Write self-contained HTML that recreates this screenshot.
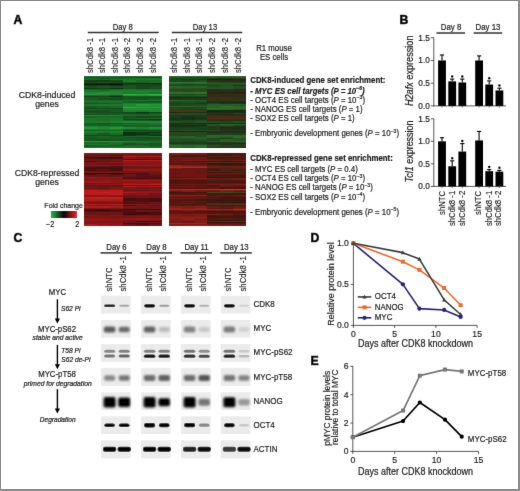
<!DOCTYPE html>
<html><head><meta charset="utf-8"><style>
html,body{margin:0;padding:0;background:#fff;}
body{width:520px;height:491px;overflow:hidden;}
svg{display:block;}
text{stroke:#1c1c1c;stroke-width:0.18px;}
text.r{stroke-width:0.12px;}
text.i{stroke-width:0.2px;}
</style></head><body>
<svg width="520" height="491" viewBox="0 0 520 491" font-family="Liberation Sans, Arial, sans-serif" fill="#1c1c1c">
<rect x="0" y="0" width="520" height="491" fill="#fff"/>
<defs><filter id="gb" x="0" y="0" width="520" height="491" filterUnits="userSpaceOnUse"><feConvolveMatrix order="3" kernelMatrix="0.0072 0.085 0.0072 0.085 1 0.085 0.0072 0.085 0.0072" divisor="1.369" edgeMode="none"/></filter></defs>
<g filter="url(#gb)">
<text x="13.4" y="24.3" font-size="12.2" font-weight="bold" fill="#000" stroke="#000" style="stroke-width:0.55px">A</text>
<text x="399.4" y="24.4" font-size="12.2" font-weight="bold" fill="#000" stroke="#000" style="stroke-width:0.55px">B</text>
<text x="13.4" y="242.0" font-size="12.2" font-weight="bold" fill="#000" stroke="#000" style="stroke-width:0.55px">C</text>
<text x="310.4" y="241.8" font-size="12.2" font-weight="bold" fill="#000" stroke="#000" style="stroke-width:0.55px">D</text>
<text x="310.6" y="365.3" font-size="12.2" font-weight="bold" fill="#000" stroke="#000" style="stroke-width:0.55px">E</text>
<g shape-rendering="crispEdges">
<rect x="84.20" y="75.50" width="13.55" height="1.80" fill="rgb(29, 115, 42)"/>
<rect x="97.15" y="75.50" width="13.55" height="1.80" fill="rgb(28, 114, 42)"/>
<rect x="110.10" y="75.50" width="13.55" height="1.80" fill="rgb(28, 111, 41)"/>
<rect x="123.05" y="75.50" width="13.55" height="1.80" fill="rgb(28, 111, 40)"/>
<rect x="136.00" y="75.50" width="13.55" height="1.80" fill="rgb(28, 110, 40)"/>
<rect x="148.95" y="75.50" width="12.95" height="1.80" fill="rgb(28, 113, 41)"/>
<rect x="84.20" y="76.70" width="13.55" height="1.80" fill="rgb(23, 86, 32)"/>
<rect x="97.15" y="76.70" width="13.55" height="1.80" fill="rgb(25, 98, 36)"/>
<rect x="110.10" y="76.70" width="13.55" height="1.80" fill="rgb(23, 85, 32)"/>
<rect x="123.05" y="76.70" width="13.55" height="1.80" fill="rgb(21, 79, 30)"/>
<rect x="136.00" y="76.70" width="13.55" height="1.80" fill="rgb(23, 88, 33)"/>
<rect x="148.95" y="76.70" width="12.95" height="1.80" fill="rgb(22, 81, 31)"/>
<rect x="84.20" y="77.91" width="13.55" height="1.80" fill="rgb(25, 98, 36)"/>
<rect x="97.15" y="77.91" width="13.55" height="1.80" fill="rgb(23, 86, 32)"/>
<rect x="110.10" y="77.91" width="13.55" height="1.80" fill="rgb(25, 95, 35)"/>
<rect x="123.05" y="77.91" width="13.55" height="1.80" fill="rgb(26, 103, 38)"/>
<rect x="136.00" y="77.91" width="13.55" height="1.80" fill="rgb(27, 106, 39)"/>
<rect x="148.95" y="77.91" width="12.95" height="1.80" fill="rgb(26, 103, 38)"/>
<rect x="84.20" y="79.11" width="13.55" height="1.80" fill="rgb(26, 102, 38)"/>
<rect x="97.15" y="79.11" width="13.55" height="1.80" fill="rgb(26, 101, 37)"/>
<rect x="110.10" y="79.11" width="13.55" height="1.80" fill="rgb(29, 116, 42)"/>
<rect x="123.05" y="79.11" width="13.55" height="1.80" fill="rgb(29, 117, 43)"/>
<rect x="136.00" y="79.11" width="13.55" height="1.80" fill="rgb(30, 121, 44)"/>
<rect x="148.95" y="79.11" width="12.95" height="1.80" fill="rgb(30, 121, 44)"/>
<rect x="84.20" y="80.32" width="13.55" height="1.80" fill="rgb(18, 61, 24)"/>
<rect x="97.15" y="80.32" width="13.55" height="1.80" fill="rgb(18, 61, 24)"/>
<rect x="110.10" y="80.32" width="13.55" height="1.80" fill="rgb(20, 71, 28)"/>
<rect x="123.05" y="80.32" width="13.55" height="1.80" fill="rgb(30, 120, 44)"/>
<rect x="136.00" y="80.32" width="13.55" height="1.80" fill="rgb(26, 104, 38)"/>
<rect x="148.95" y="80.32" width="12.95" height="1.80" fill="rgb(26, 103, 38)"/>
<rect x="84.20" y="81.53" width="13.55" height="1.80" fill="rgb(22, 81, 31)"/>
<rect x="97.15" y="81.53" width="13.55" height="1.80" fill="rgb(22, 84, 32)"/>
<rect x="110.10" y="81.53" width="13.55" height="1.80" fill="rgb(21, 75, 29)"/>
<rect x="123.05" y="81.53" width="13.55" height="1.80" fill="rgb(24, 93, 35)"/>
<rect x="136.00" y="81.53" width="13.55" height="1.80" fill="rgb(25, 97, 36)"/>
<rect x="148.95" y="81.53" width="12.95" height="1.80" fill="rgb(27, 106, 39)"/>
<rect x="84.20" y="82.73" width="13.55" height="1.80" fill="rgb(14, 42, 18)"/>
<rect x="97.15" y="82.73" width="13.55" height="1.80" fill="rgb(16, 51, 21)"/>
<rect x="110.10" y="82.73" width="13.55" height="1.80" fill="rgb(15, 45, 19)"/>
<rect x="123.05" y="82.73" width="13.55" height="1.80" fill="rgb(17, 56, 23)"/>
<rect x="136.00" y="82.73" width="13.55" height="1.80" fill="rgb(15, 47, 20)"/>
<rect x="148.95" y="82.73" width="12.95" height="1.80" fill="rgb(15, 45, 19)"/>
<rect x="84.20" y="83.94" width="13.55" height="1.80" fill="rgb(11, 26, 13)"/>
<rect x="97.15" y="83.94" width="13.55" height="1.80" fill="rgb(10, 20, 11)"/>
<rect x="110.10" y="83.94" width="13.55" height="1.80" fill="rgb(11, 8, 8)"/>
<rect x="123.05" y="83.94" width="13.55" height="1.80" fill="rgb(19, 69, 27)"/>
<rect x="136.00" y="83.94" width="13.55" height="1.80" fill="rgb(19, 65, 25)"/>
<rect x="148.95" y="83.94" width="12.95" height="1.80" fill="rgb(19, 67, 26)"/>
<rect x="84.20" y="85.14" width="13.55" height="1.80" fill="rgb(17, 59, 24)"/>
<rect x="97.15" y="85.14" width="13.55" height="1.80" fill="rgb(19, 67, 26)"/>
<rect x="110.10" y="85.14" width="13.55" height="1.80" fill="rgb(16, 53, 22)"/>
<rect x="123.05" y="85.14" width="13.55" height="1.80" fill="rgb(21, 78, 30)"/>
<rect x="136.00" y="85.14" width="13.55" height="1.80" fill="rgb(19, 68, 27)"/>
<rect x="148.95" y="85.14" width="12.95" height="1.80" fill="rgb(19, 69, 27)"/>
<rect x="84.20" y="86.34" width="13.55" height="1.80" fill="rgb(21, 79, 30)"/>
<rect x="97.15" y="86.34" width="13.55" height="1.80" fill="rgb(23, 86, 32)"/>
<rect x="110.10" y="86.34" width="13.55" height="1.80" fill="rgb(22, 83, 31)"/>
<rect x="123.05" y="86.34" width="13.55" height="1.80" fill="rgb(23, 86, 33)"/>
<rect x="136.00" y="86.34" width="13.55" height="1.80" fill="rgb(20, 74, 28)"/>
<rect x="148.95" y="86.34" width="12.95" height="1.80" fill="rgb(22, 80, 30)"/>
<rect x="84.20" y="87.55" width="13.55" height="1.80" fill="rgb(17, 57, 23)"/>
<rect x="97.15" y="87.55" width="13.55" height="1.80" fill="rgb(18, 63, 25)"/>
<rect x="110.10" y="87.55" width="13.55" height="1.80" fill="rgb(15, 48, 20)"/>
<rect x="123.05" y="87.55" width="13.55" height="1.80" fill="rgb(22, 81, 31)"/>
<rect x="136.00" y="87.55" width="13.55" height="1.80" fill="rgb(19, 67, 26)"/>
<rect x="148.95" y="87.55" width="12.95" height="1.80" fill="rgb(21, 78, 30)"/>
<rect x="84.20" y="88.75" width="13.55" height="1.80" fill="rgb(25, 98, 36)"/>
<rect x="97.15" y="88.75" width="13.55" height="1.80" fill="rgb(24, 93, 35)"/>
<rect x="110.10" y="88.75" width="13.55" height="1.80" fill="rgb(26, 104, 38)"/>
<rect x="123.05" y="88.75" width="13.55" height="1.80" fill="rgb(29, 117, 43)"/>
<rect x="136.00" y="88.75" width="13.55" height="1.80" fill="rgb(28, 111, 41)"/>
<rect x="148.95" y="88.75" width="12.95" height="1.80" fill="rgb(28, 114, 42)"/>
<rect x="84.20" y="89.96" width="13.55" height="1.80" fill="rgb(29, 119, 43)"/>
<rect x="97.15" y="89.96" width="13.55" height="1.80" fill="rgb(28, 112, 41)"/>
<rect x="110.10" y="89.96" width="13.55" height="1.80" fill="rgb(30, 121, 44)"/>
<rect x="123.05" y="89.96" width="13.55" height="1.80" fill="rgb(30, 124, 45)"/>
<rect x="136.00" y="89.96" width="13.55" height="1.80" fill="rgb(29, 119, 43)"/>
<rect x="148.95" y="89.96" width="12.95" height="1.80" fill="rgb(28, 114, 42)"/>
<rect x="84.20" y="91.16" width="13.55" height="1.80" fill="rgb(29, 118, 43)"/>
<rect x="97.15" y="91.16" width="13.55" height="1.80" fill="rgb(30, 120, 44)"/>
<rect x="110.10" y="91.16" width="13.55" height="1.80" fill="rgb(31, 128, 46)"/>
<rect x="123.05" y="91.16" width="13.55" height="1.80" fill="rgb(31, 128, 46)"/>
<rect x="136.00" y="91.16" width="13.55" height="1.80" fill="rgb(32, 134, 48)"/>
<rect x="148.95" y="91.16" width="12.95" height="1.80" fill="rgb(33, 136, 49)"/>
<rect x="84.20" y="92.37" width="13.55" height="1.80" fill="rgb(32, 133, 48)"/>
<rect x="97.15" y="92.37" width="13.55" height="1.80" fill="rgb(34, 142, 51)"/>
<rect x="110.10" y="92.37" width="13.55" height="1.80" fill="rgb(32, 133, 48)"/>
<rect x="123.05" y="92.37" width="13.55" height="1.80" fill="rgb(29, 119, 43)"/>
<rect x="136.00" y="92.37" width="13.55" height="1.80" fill="rgb(31, 126, 46)"/>
<rect x="148.95" y="92.37" width="12.95" height="1.80" fill="rgb(28, 111, 41)"/>
<rect x="84.20" y="93.58" width="13.55" height="1.80" fill="rgb(36, 150, 53)"/>
<rect x="97.15" y="93.58" width="13.55" height="1.80" fill="rgb(33, 136, 49)"/>
<rect x="110.10" y="93.58" width="13.55" height="1.80" fill="rgb(32, 134, 48)"/>
<rect x="123.05" y="93.58" width="13.55" height="1.80" fill="rgb(42, 181, 64)"/>
<rect x="136.00" y="93.58" width="13.55" height="1.80" fill="rgb(39, 165, 58)"/>
<rect x="148.95" y="93.58" width="12.95" height="1.80" fill="rgb(42, 183, 64)"/>
<rect x="84.20" y="94.78" width="13.55" height="1.80" fill="rgb(26, 104, 38)"/>
<rect x="97.15" y="94.78" width="13.55" height="1.80" fill="rgb(28, 110, 40)"/>
<rect x="110.10" y="94.78" width="13.55" height="1.80" fill="rgb(24, 90, 34)"/>
<rect x="123.05" y="94.78" width="13.55" height="1.80" fill="rgb(34, 144, 51)"/>
<rect x="136.00" y="94.78" width="13.55" height="1.80" fill="rgb(35, 146, 52)"/>
<rect x="148.95" y="94.78" width="12.95" height="1.80" fill="rgb(37, 158, 56)"/>
<rect x="84.20" y="95.98" width="13.55" height="1.80" fill="rgb(18, 60, 24)"/>
<rect x="97.15" y="95.98" width="13.55" height="1.80" fill="rgb(19, 66, 26)"/>
<rect x="110.10" y="95.98" width="13.55" height="1.80" fill="rgb(16, 53, 22)"/>
<rect x="123.05" y="95.98" width="13.55" height="1.80" fill="rgb(22, 83, 31)"/>
<rect x="136.00" y="95.98" width="13.55" height="1.80" fill="rgb(23, 88, 33)"/>
<rect x="148.95" y="95.98" width="12.95" height="1.80" fill="rgb(23, 87, 33)"/>
<rect x="84.20" y="97.19" width="13.55" height="1.80" fill="rgb(24, 94, 35)"/>
<rect x="97.15" y="97.19" width="13.55" height="1.80" fill="rgb(23, 85, 32)"/>
<rect x="110.10" y="97.19" width="13.55" height="1.80" fill="rgb(23, 88, 33)"/>
<rect x="123.05" y="97.19" width="13.55" height="1.80" fill="rgb(23, 89, 33)"/>
<rect x="136.00" y="97.19" width="13.55" height="1.80" fill="rgb(21, 77, 30)"/>
<rect x="148.95" y="97.19" width="12.95" height="1.80" fill="rgb(21, 76, 29)"/>
<rect x="84.20" y="98.39" width="13.55" height="1.80" fill="rgb(24, 94, 35)"/>
<rect x="97.15" y="98.39" width="13.55" height="1.80" fill="rgb(22, 81, 31)"/>
<rect x="110.10" y="98.39" width="13.55" height="1.80" fill="rgb(20, 70, 27)"/>
<rect x="123.05" y="98.39" width="13.55" height="1.80" fill="rgb(22, 84, 32)"/>
<rect x="136.00" y="98.39" width="13.55" height="1.80" fill="rgb(22, 83, 31)"/>
<rect x="148.95" y="98.39" width="12.95" height="1.80" fill="rgb(24, 92, 34)"/>
<rect x="84.20" y="99.60" width="13.55" height="1.80" fill="rgb(26, 102, 38)"/>
<rect x="97.15" y="99.60" width="13.55" height="1.80" fill="rgb(27, 108, 39)"/>
<rect x="110.10" y="99.60" width="13.55" height="1.80" fill="rgb(26, 100, 37)"/>
<rect x="123.05" y="99.60" width="13.55" height="1.80" fill="rgb(28, 112, 41)"/>
<rect x="136.00" y="99.60" width="13.55" height="1.80" fill="rgb(29, 119, 43)"/>
<rect x="148.95" y="99.60" width="12.95" height="1.80" fill="rgb(30, 120, 44)"/>
<rect x="84.20" y="100.80" width="13.55" height="1.80" fill="rgb(28, 111, 41)"/>
<rect x="97.15" y="100.80" width="13.55" height="1.80" fill="rgb(28, 111, 41)"/>
<rect x="110.10" y="100.80" width="13.55" height="1.80" fill="rgb(30, 121, 44)"/>
<rect x="123.05" y="100.80" width="13.55" height="1.80" fill="rgb(24, 94, 35)"/>
<rect x="136.00" y="100.80" width="13.55" height="1.80" fill="rgb(24, 91, 34)"/>
<rect x="148.95" y="100.80" width="12.95" height="1.80" fill="rgb(21, 78, 30)"/>
<rect x="84.20" y="102.01" width="13.55" height="1.80" fill="rgb(26, 101, 38)"/>
<rect x="97.15" y="102.01" width="13.55" height="1.80" fill="rgb(28, 111, 41)"/>
<rect x="110.10" y="102.01" width="13.55" height="1.80" fill="rgb(28, 110, 40)"/>
<rect x="123.05" y="102.01" width="13.55" height="1.80" fill="rgb(25, 96, 36)"/>
<rect x="136.00" y="102.01" width="13.55" height="1.80" fill="rgb(23, 85, 32)"/>
<rect x="148.95" y="102.01" width="12.95" height="1.80" fill="rgb(25, 96, 36)"/>
<rect x="84.20" y="103.22" width="13.55" height="1.80" fill="rgb(23, 88, 33)"/>
<rect x="97.15" y="103.22" width="13.55" height="1.80" fill="rgb(23, 87, 33)"/>
<rect x="110.10" y="103.22" width="13.55" height="1.80" fill="rgb(25, 99, 37)"/>
<rect x="123.05" y="103.22" width="13.55" height="1.80" fill="rgb(31, 126, 46)"/>
<rect x="136.00" y="103.22" width="13.55" height="1.80" fill="rgb(30, 122, 44)"/>
<rect x="148.95" y="103.22" width="12.95" height="1.80" fill="rgb(29, 119, 43)"/>
<rect x="84.20" y="104.42" width="13.55" height="1.80" fill="rgb(28, 113, 41)"/>
<rect x="97.15" y="104.42" width="13.55" height="1.80" fill="rgb(30, 121, 44)"/>
<rect x="110.10" y="104.42" width="13.55" height="1.80" fill="rgb(29, 119, 43)"/>
<rect x="123.05" y="104.42" width="13.55" height="1.80" fill="rgb(32, 134, 48)"/>
<rect x="136.00" y="104.42" width="13.55" height="1.80" fill="rgb(37, 156, 55)"/>
<rect x="148.95" y="104.42" width="12.95" height="1.80" fill="rgb(35, 149, 53)"/>
<rect x="84.20" y="105.62" width="13.55" height="1.80" fill="rgb(25, 96, 36)"/>
<rect x="97.15" y="105.62" width="13.55" height="1.80" fill="rgb(25, 95, 36)"/>
<rect x="110.10" y="105.62" width="13.55" height="1.80" fill="rgb(26, 100, 37)"/>
<rect x="123.05" y="105.62" width="13.55" height="1.80" fill="rgb(34, 142, 51)"/>
<rect x="136.00" y="105.62" width="13.55" height="1.80" fill="rgb(33, 137, 49)"/>
<rect x="148.95" y="105.62" width="12.95" height="1.80" fill="rgb(33, 138, 50)"/>
<rect x="84.20" y="106.83" width="13.55" height="1.80" fill="rgb(23, 89, 33)"/>
<rect x="97.15" y="106.83" width="13.55" height="1.80" fill="rgb(25, 99, 37)"/>
<rect x="110.10" y="106.83" width="13.55" height="1.80" fill="rgb(27, 105, 39)"/>
<rect x="123.05" y="106.83" width="13.55" height="1.80" fill="rgb(40, 170, 60)"/>
<rect x="136.00" y="106.83" width="13.55" height="1.80" fill="rgb(38, 162, 57)"/>
<rect x="148.95" y="106.83" width="12.95" height="1.80" fill="rgb(37, 159, 56)"/>
<rect x="84.20" y="108.03" width="13.55" height="1.80" fill="rgb(20, 74, 29)"/>
<rect x="97.15" y="108.03" width="13.55" height="1.80" fill="rgb(20, 72, 28)"/>
<rect x="110.10" y="108.03" width="13.55" height="1.80" fill="rgb(21, 76, 29)"/>
<rect x="123.05" y="108.03" width="13.55" height="1.80" fill="rgb(33, 137, 49)"/>
<rect x="136.00" y="108.03" width="13.55" height="1.80" fill="rgb(32, 133, 48)"/>
<rect x="148.95" y="108.03" width="12.95" height="1.80" fill="rgb(32, 131, 47)"/>
<rect x="84.20" y="109.24" width="13.55" height="1.80" fill="rgb(25, 98, 36)"/>
<rect x="97.15" y="109.24" width="13.55" height="1.80" fill="rgb(25, 97, 36)"/>
<rect x="110.10" y="109.24" width="13.55" height="1.80" fill="rgb(24, 90, 34)"/>
<rect x="123.05" y="109.24" width="13.55" height="1.80" fill="rgb(34, 140, 50)"/>
<rect x="136.00" y="109.24" width="13.55" height="1.80" fill="rgb(36, 151, 54)"/>
<rect x="148.95" y="109.24" width="12.95" height="1.80" fill="rgb(33, 137, 49)"/>
<rect x="84.20" y="110.44" width="13.55" height="1.80" fill="rgb(22, 80, 30)"/>
<rect x="97.15" y="110.44" width="13.55" height="1.80" fill="rgb(22, 81, 31)"/>
<rect x="110.10" y="110.44" width="13.55" height="1.80" fill="rgb(23, 89, 34)"/>
<rect x="123.05" y="110.44" width="13.55" height="1.80" fill="rgb(31, 129, 46)"/>
<rect x="136.00" y="110.44" width="13.55" height="1.80" fill="rgb(30, 122, 44)"/>
<rect x="148.95" y="110.44" width="12.95" height="1.80" fill="rgb(33, 135, 48)"/>
<rect x="84.20" y="111.65" width="13.55" height="1.80" fill="rgb(21, 79, 30)"/>
<rect x="97.15" y="111.65" width="13.55" height="1.80" fill="rgb(21, 77, 29)"/>
<rect x="110.10" y="111.65" width="13.55" height="1.80" fill="rgb(20, 72, 28)"/>
<rect x="123.05" y="111.65" width="13.55" height="1.80" fill="rgb(19, 68, 26)"/>
<rect x="136.00" y="111.65" width="13.55" height="1.80" fill="rgb(15, 48, 20)"/>
<rect x="148.95" y="111.65" width="12.95" height="1.80" fill="rgb(19, 67, 26)"/>
<rect x="84.20" y="112.85" width="13.55" height="1.80" fill="rgb(24, 94, 35)"/>
<rect x="97.15" y="112.85" width="13.55" height="1.80" fill="rgb(23, 89, 33)"/>
<rect x="110.10" y="112.85" width="13.55" height="1.80" fill="rgb(24, 92, 35)"/>
<rect x="123.05" y="112.85" width="13.55" height="1.80" fill="rgb(20, 71, 28)"/>
<rect x="136.00" y="112.85" width="13.55" height="1.80" fill="rgb(19, 67, 26)"/>
<rect x="148.95" y="112.85" width="12.95" height="1.80" fill="rgb(22, 84, 32)"/>
<rect x="84.20" y="114.06" width="13.55" height="1.80" fill="rgb(21, 79, 30)"/>
<rect x="97.15" y="114.06" width="13.55" height="1.80" fill="rgb(22, 84, 32)"/>
<rect x="110.10" y="114.06" width="13.55" height="1.80" fill="rgb(23, 88, 33)"/>
<rect x="123.05" y="114.06" width="13.55" height="1.80" fill="rgb(27, 105, 39)"/>
<rect x="136.00" y="114.06" width="13.55" height="1.80" fill="rgb(25, 98, 36)"/>
<rect x="148.95" y="114.06" width="12.95" height="1.80" fill="rgb(27, 107, 39)"/>
<rect x="84.20" y="115.26" width="13.55" height="1.80" fill="rgb(33, 135, 48)"/>
<rect x="97.15" y="115.26" width="13.55" height="1.80" fill="rgb(31, 126, 45)"/>
<rect x="110.10" y="115.26" width="13.55" height="1.80" fill="rgb(31, 127, 46)"/>
<rect x="123.05" y="115.26" width="13.55" height="1.80" fill="rgb(26, 104, 38)"/>
<rect x="136.00" y="115.26" width="13.55" height="1.80" fill="rgb(26, 100, 37)"/>
<rect x="148.95" y="115.26" width="12.95" height="1.80" fill="rgb(26, 102, 38)"/>
<rect x="84.20" y="116.47" width="13.55" height="1.80" fill="rgb(26, 100, 37)"/>
<rect x="97.15" y="116.47" width="13.55" height="1.80" fill="rgb(27, 105, 39)"/>
<rect x="110.10" y="116.47" width="13.55" height="1.80" fill="rgb(27, 105, 39)"/>
<rect x="123.05" y="116.47" width="13.55" height="1.80" fill="rgb(22, 82, 31)"/>
<rect x="136.00" y="116.47" width="13.55" height="1.80" fill="rgb(20, 74, 28)"/>
<rect x="148.95" y="116.47" width="12.95" height="1.80" fill="rgb(20, 72, 28)"/>
<rect x="84.20" y="117.67" width="13.55" height="1.80" fill="rgb(29, 119, 43)"/>
<rect x="97.15" y="117.67" width="13.55" height="1.80" fill="rgb(29, 118, 43)"/>
<rect x="110.10" y="117.67" width="13.55" height="1.80" fill="rgb(29, 119, 43)"/>
<rect x="123.05" y="117.67" width="13.55" height="1.80" fill="rgb(24, 91, 34)"/>
<rect x="136.00" y="117.67" width="13.55" height="1.80" fill="rgb(26, 100, 37)"/>
<rect x="148.95" y="117.67" width="12.95" height="1.80" fill="rgb(27, 107, 39)"/>
<rect x="84.20" y="118.88" width="13.55" height="1.80" fill="rgb(28, 112, 41)"/>
<rect x="97.15" y="118.88" width="13.55" height="1.80" fill="rgb(27, 106, 39)"/>
<rect x="110.10" y="118.88" width="13.55" height="1.80" fill="rgb(29, 116, 42)"/>
<rect x="123.05" y="118.88" width="13.55" height="1.80" fill="rgb(19, 68, 27)"/>
<rect x="136.00" y="118.88" width="13.55" height="1.80" fill="rgb(19, 66, 26)"/>
<rect x="148.95" y="118.88" width="12.95" height="1.80" fill="rgb(16, 53, 22)"/>
<rect x="84.20" y="120.08" width="13.55" height="1.80" fill="rgb(29, 118, 43)"/>
<rect x="97.15" y="120.08" width="13.55" height="1.80" fill="rgb(28, 111, 41)"/>
<rect x="110.10" y="120.08" width="13.55" height="1.80" fill="rgb(29, 115, 42)"/>
<rect x="123.05" y="120.08" width="13.55" height="1.80" fill="rgb(25, 99, 37)"/>
<rect x="136.00" y="120.08" width="13.55" height="1.80" fill="rgb(24, 92, 34)"/>
<rect x="148.95" y="120.08" width="12.95" height="1.80" fill="rgb(23, 85, 32)"/>
<rect x="84.20" y="121.29" width="13.55" height="1.80" fill="rgb(29, 119, 43)"/>
<rect x="97.15" y="121.29" width="13.55" height="1.80" fill="rgb(30, 122, 44)"/>
<rect x="110.10" y="121.29" width="13.55" height="1.80" fill="rgb(31, 128, 46)"/>
<rect x="123.05" y="121.29" width="13.55" height="1.80" fill="rgb(32, 134, 48)"/>
<rect x="136.00" y="121.29" width="13.55" height="1.80" fill="rgb(32, 132, 47)"/>
<rect x="148.95" y="121.29" width="12.95" height="1.80" fill="rgb(32, 130, 47)"/>
<rect x="84.20" y="122.50" width="13.55" height="1.80" fill="rgb(25, 97, 36)"/>
<rect x="97.15" y="122.50" width="13.55" height="1.80" fill="rgb(23, 85, 32)"/>
<rect x="110.10" y="122.50" width="13.55" height="1.80" fill="rgb(22, 84, 32)"/>
<rect x="123.05" y="122.50" width="13.55" height="1.80" fill="rgb(24, 94, 35)"/>
<rect x="136.00" y="122.50" width="13.55" height="1.80" fill="rgb(26, 100, 37)"/>
<rect x="148.95" y="122.50" width="12.95" height="1.80" fill="rgb(29, 115, 42)"/>
<rect x="84.20" y="123.70" width="13.55" height="1.80" fill="rgb(24, 92, 34)"/>
<rect x="97.15" y="123.70" width="13.55" height="1.80" fill="rgb(24, 91, 34)"/>
<rect x="110.10" y="123.70" width="13.55" height="1.80" fill="rgb(27, 108, 40)"/>
<rect x="123.05" y="123.70" width="13.55" height="1.80" fill="rgb(29, 117, 43)"/>
<rect x="136.00" y="123.70" width="13.55" height="1.80" fill="rgb(28, 110, 40)"/>
<rect x="148.95" y="123.70" width="12.95" height="1.80" fill="rgb(28, 113, 41)"/>
<rect x="84.20" y="124.91" width="13.55" height="1.80" fill="rgb(25, 99, 37)"/>
<rect x="97.15" y="124.91" width="13.55" height="1.80" fill="rgb(25, 95, 36)"/>
<rect x="110.10" y="124.91" width="13.55" height="1.80" fill="rgb(24, 91, 34)"/>
<rect x="123.05" y="124.91" width="13.55" height="1.80" fill="rgb(24, 90, 34)"/>
<rect x="136.00" y="124.91" width="13.55" height="1.80" fill="rgb(25, 98, 36)"/>
<rect x="148.95" y="124.91" width="12.95" height="1.80" fill="rgb(25, 97, 36)"/>
<rect x="84.20" y="126.11" width="13.55" height="1.80" fill="rgb(31, 129, 47)"/>
<rect x="97.15" y="126.11" width="13.55" height="1.80" fill="rgb(30, 124, 45)"/>
<rect x="110.10" y="126.11" width="13.55" height="1.80" fill="rgb(30, 123, 45)"/>
<rect x="123.05" y="126.11" width="13.55" height="1.80" fill="rgb(26, 104, 38)"/>
<rect x="136.00" y="126.11" width="13.55" height="1.80" fill="rgb(25, 99, 37)"/>
<rect x="148.95" y="126.11" width="12.95" height="1.80" fill="rgb(26, 100, 37)"/>
<rect x="84.20" y="127.31" width="13.55" height="1.80" fill="rgb(35, 147, 52)"/>
<rect x="97.15" y="127.31" width="13.55" height="1.80" fill="rgb(32, 134, 48)"/>
<rect x="110.10" y="127.31" width="13.55" height="1.80" fill="rgb(36, 152, 54)"/>
<rect x="123.05" y="127.31" width="13.55" height="1.80" fill="rgb(33, 137, 49)"/>
<rect x="136.00" y="127.31" width="13.55" height="1.80" fill="rgb(31, 127, 46)"/>
<rect x="148.95" y="127.31" width="12.95" height="1.80" fill="rgb(33, 139, 50)"/>
<rect x="84.20" y="128.52" width="13.55" height="1.80" fill="rgb(30, 120, 44)"/>
<rect x="97.15" y="128.52" width="13.55" height="1.80" fill="rgb(30, 124, 45)"/>
<rect x="110.10" y="128.52" width="13.55" height="1.80" fill="rgb(30, 123, 45)"/>
<rect x="123.05" y="128.52" width="13.55" height="1.80" fill="rgb(25, 97, 36)"/>
<rect x="136.00" y="128.52" width="13.55" height="1.80" fill="rgb(27, 107, 39)"/>
<rect x="148.95" y="128.52" width="12.95" height="1.80" fill="rgb(28, 113, 41)"/>
<rect x="84.20" y="129.72" width="13.55" height="1.80" fill="rgb(25, 96, 36)"/>
<rect x="97.15" y="129.72" width="13.55" height="1.80" fill="rgb(26, 102, 38)"/>
<rect x="110.10" y="129.72" width="13.55" height="1.80" fill="rgb(26, 102, 38)"/>
<rect x="123.05" y="129.72" width="13.55" height="1.80" fill="rgb(21, 76, 29)"/>
<rect x="136.00" y="129.72" width="13.55" height="1.80" fill="rgb(20, 70, 27)"/>
<rect x="148.95" y="129.72" width="12.95" height="1.80" fill="rgb(21, 79, 30)"/>
<rect x="84.20" y="130.93" width="13.55" height="1.80" fill="rgb(29, 118, 43)"/>
<rect x="97.15" y="130.93" width="13.55" height="1.80" fill="rgb(30, 124, 45)"/>
<rect x="110.10" y="130.93" width="13.55" height="1.80" fill="rgb(32, 130, 47)"/>
<rect x="123.05" y="130.93" width="13.55" height="1.80" fill="rgb(24, 91, 34)"/>
<rect x="136.00" y="130.93" width="13.55" height="1.80" fill="rgb(23, 86, 33)"/>
<rect x="148.95" y="130.93" width="12.95" height="1.80" fill="rgb(21, 76, 29)"/>
<rect x="84.20" y="132.13" width="13.55" height="1.80" fill="rgb(30, 123, 45)"/>
<rect x="97.15" y="132.13" width="13.55" height="1.80" fill="rgb(29, 115, 42)"/>
<rect x="110.10" y="132.13" width="13.55" height="1.80" fill="rgb(30, 120, 43)"/>
<rect x="123.05" y="132.13" width="13.55" height="1.80" fill="rgb(13, 38, 17)"/>
<rect x="136.00" y="132.13" width="13.55" height="1.80" fill="rgb(17, 55, 22)"/>
<rect x="148.95" y="132.13" width="12.95" height="1.80" fill="rgb(17, 59, 24)"/>
<rect x="84.20" y="133.34" width="13.55" height="1.80" fill="rgb(26, 102, 38)"/>
<rect x="97.15" y="133.34" width="13.55" height="1.80" fill="rgb(24, 92, 34)"/>
<rect x="110.10" y="133.34" width="13.55" height="1.80" fill="rgb(27, 108, 40)"/>
<rect x="123.05" y="133.34" width="13.55" height="1.80" fill="rgb(16, 50, 21)"/>
<rect x="136.00" y="133.34" width="13.55" height="1.80" fill="rgb(16, 53, 22)"/>
<rect x="148.95" y="133.34" width="12.95" height="1.80" fill="rgb(19, 66, 26)"/>
<rect x="84.20" y="134.54" width="13.55" height="1.80" fill="rgb(20, 73, 28)"/>
<rect x="97.15" y="134.54" width="13.55" height="1.80" fill="rgb(20, 73, 28)"/>
<rect x="110.10" y="134.54" width="13.55" height="1.80" fill="rgb(20, 71, 28)"/>
<rect x="123.05" y="134.54" width="13.55" height="1.80" fill="rgb(16, 53, 22)"/>
<rect x="136.00" y="134.54" width="13.55" height="1.80" fill="rgb(19, 69, 27)"/>
<rect x="148.95" y="134.54" width="12.95" height="1.80" fill="rgb(17, 55, 22)"/>
<rect x="84.20" y="135.75" width="13.55" height="1.80" fill="rgb(25, 95, 35)"/>
<rect x="97.15" y="135.75" width="13.55" height="1.80" fill="rgb(26, 100, 37)"/>
<rect x="110.10" y="135.75" width="13.55" height="1.80" fill="rgb(24, 91, 34)"/>
<rect x="123.05" y="135.75" width="13.55" height="1.80" fill="rgb(26, 100, 37)"/>
<rect x="136.00" y="135.75" width="13.55" height="1.80" fill="rgb(26, 103, 38)"/>
<rect x="148.95" y="135.75" width="12.95" height="1.80" fill="rgb(27, 107, 39)"/>
<rect x="84.20" y="136.95" width="13.55" height="1.80" fill="rgb(24, 91, 34)"/>
<rect x="97.15" y="136.95" width="13.55" height="1.80" fill="rgb(25, 98, 36)"/>
<rect x="110.10" y="136.95" width="13.55" height="1.80" fill="rgb(25, 95, 35)"/>
<rect x="123.05" y="136.95" width="13.55" height="1.80" fill="rgb(22, 84, 32)"/>
<rect x="136.00" y="136.95" width="13.55" height="1.80" fill="rgb(20, 70, 27)"/>
<rect x="148.95" y="136.95" width="12.95" height="1.80" fill="rgb(22, 84, 32)"/>
<rect x="84.20" y="138.16" width="13.55" height="1.80" fill="rgb(23, 87, 33)"/>
<rect x="97.15" y="138.16" width="13.55" height="1.80" fill="rgb(25, 98, 36)"/>
<rect x="110.10" y="138.16" width="13.55" height="1.80" fill="rgb(24, 91, 34)"/>
<rect x="123.05" y="138.16" width="13.55" height="1.80" fill="rgb(23, 88, 33)"/>
<rect x="136.00" y="138.16" width="13.55" height="1.80" fill="rgb(22, 83, 31)"/>
<rect x="148.95" y="138.16" width="12.95" height="1.80" fill="rgb(20, 72, 28)"/>
<rect x="84.20" y="139.37" width="13.55" height="1.80" fill="rgb(23, 86, 32)"/>
<rect x="97.15" y="139.37" width="13.55" height="1.80" fill="rgb(21, 77, 30)"/>
<rect x="110.10" y="139.37" width="13.55" height="1.80" fill="rgb(23, 87, 33)"/>
<rect x="123.05" y="139.37" width="13.55" height="1.80" fill="rgb(24, 91, 34)"/>
<rect x="136.00" y="139.37" width="13.55" height="1.80" fill="rgb(22, 84, 32)"/>
<rect x="148.95" y="139.37" width="12.95" height="1.80" fill="rgb(24, 91, 34)"/>
<rect x="84.20" y="140.57" width="13.55" height="1.80" fill="rgb(34, 144, 51)"/>
<rect x="97.15" y="140.57" width="13.55" height="1.80" fill="rgb(35, 145, 52)"/>
<rect x="110.10" y="140.57" width="13.55" height="1.80" fill="rgb(33, 137, 49)"/>
<rect x="123.05" y="140.57" width="13.55" height="1.80" fill="rgb(31, 127, 46)"/>
<rect x="136.00" y="140.57" width="13.55" height="1.80" fill="rgb(29, 117, 43)"/>
<rect x="148.95" y="140.57" width="12.95" height="1.80" fill="rgb(28, 111, 41)"/>
<rect x="84.20" y="141.77" width="13.55" height="1.80" fill="rgb(27, 109, 40)"/>
<rect x="97.15" y="141.77" width="13.55" height="1.80" fill="rgb(27, 109, 40)"/>
<rect x="110.10" y="141.77" width="13.55" height="1.80" fill="rgb(29, 118, 43)"/>
<rect x="123.05" y="141.77" width="13.55" height="1.80" fill="rgb(27, 106, 39)"/>
<rect x="136.00" y="141.77" width="13.55" height="1.80" fill="rgb(29, 115, 42)"/>
<rect x="148.95" y="141.77" width="12.95" height="1.80" fill="rgb(26, 102, 38)"/>
<rect x="84.20" y="142.98" width="13.55" height="1.80" fill="rgb(27, 105, 39)"/>
<rect x="97.15" y="142.98" width="13.55" height="1.80" fill="rgb(25, 99, 37)"/>
<rect x="110.10" y="142.98" width="13.55" height="1.80" fill="rgb(28, 113, 41)"/>
<rect x="123.05" y="142.98" width="13.55" height="1.80" fill="rgb(23, 86, 32)"/>
<rect x="136.00" y="142.98" width="13.55" height="1.80" fill="rgb(25, 95, 35)"/>
<rect x="148.95" y="142.98" width="12.95" height="1.80" fill="rgb(22, 84, 32)"/>
<rect x="84.20" y="144.19" width="13.55" height="1.80" fill="rgb(29, 117, 43)"/>
<rect x="97.15" y="144.19" width="13.55" height="1.80" fill="rgb(29, 118, 43)"/>
<rect x="110.10" y="144.19" width="13.55" height="1.80" fill="rgb(27, 106, 39)"/>
<rect x="123.05" y="144.19" width="13.55" height="1.80" fill="rgb(21, 78, 30)"/>
<rect x="136.00" y="144.19" width="13.55" height="1.80" fill="rgb(23, 86, 32)"/>
<rect x="148.95" y="144.19" width="12.95" height="1.80" fill="rgb(23, 87, 33)"/>
<rect x="84.20" y="145.39" width="13.55" height="1.80" fill="rgb(24, 91, 34)"/>
<rect x="97.15" y="145.39" width="13.55" height="1.80" fill="rgb(25, 99, 37)"/>
<rect x="110.10" y="145.39" width="13.55" height="1.80" fill="rgb(25, 99, 37)"/>
<rect x="123.05" y="145.39" width="13.55" height="1.80" fill="rgb(27, 107, 39)"/>
<rect x="136.00" y="145.39" width="13.55" height="1.80" fill="rgb(27, 105, 39)"/>
<rect x="148.95" y="145.39" width="12.95" height="1.80" fill="rgb(25, 96, 36)"/>
<rect x="84.20" y="146.59" width="13.55" height="1.20" fill="rgb(29, 115, 42)"/>
<rect x="97.15" y="146.59" width="13.55" height="1.20" fill="rgb(29, 117, 43)"/>
<rect x="110.10" y="146.59" width="13.55" height="1.20" fill="rgb(29, 118, 43)"/>
<rect x="123.05" y="146.59" width="13.55" height="1.20" fill="rgb(27, 107, 39)"/>
<rect x="136.00" y="146.59" width="13.55" height="1.20" fill="rgb(26, 101, 37)"/>
<rect x="148.95" y="146.59" width="12.95" height="1.20" fill="rgb(27, 105, 39)"/>
</g>
<g shape-rendering="crispEdges">
<rect x="168.90" y="75.50" width="13.43" height="1.80" fill="rgb(42, 111, 44)"/>
<rect x="181.73" y="75.50" width="13.43" height="1.80" fill="rgb(41, 108, 43)"/>
<rect x="194.57" y="75.50" width="13.43" height="1.80" fill="rgb(40, 106, 42)"/>
<rect x="207.40" y="75.50" width="13.43" height="1.80" fill="rgb(43, 105, 43)"/>
<rect x="220.23" y="75.50" width="13.43" height="1.80" fill="rgb(44, 107, 43)"/>
<rect x="233.07" y="75.50" width="12.83" height="1.80" fill="rgb(44, 109, 44)"/>
<rect x="168.90" y="76.70" width="13.43" height="1.80" fill="rgb(34, 83, 35)"/>
<rect x="181.73" y="76.70" width="13.43" height="1.80" fill="rgb(32, 74, 32)"/>
<rect x="194.57" y="76.70" width="13.43" height="1.80" fill="rgb(32, 73, 32)"/>
<rect x="207.40" y="76.70" width="13.43" height="1.80" fill="rgb(40, 86, 37)"/>
<rect x="220.23" y="76.70" width="13.43" height="1.80" fill="rgb(40, 86, 37)"/>
<rect x="233.07" y="76.70" width="12.83" height="1.80" fill="rgb(39, 85, 37)"/>
<rect x="168.90" y="77.91" width="13.43" height="1.80" fill="rgb(31, 73, 31)"/>
<rect x="181.73" y="77.91" width="13.43" height="1.80" fill="rgb(30, 68, 30)"/>
<rect x="194.57" y="77.91" width="13.43" height="1.80" fill="rgb(30, 69, 30)"/>
<rect x="207.40" y="77.91" width="13.43" height="1.80" fill="rgb(48, 45, 24)"/>
<rect x="220.23" y="77.91" width="13.43" height="1.80" fill="rgb(45, 45, 24)"/>
<rect x="233.07" y="77.91" width="12.83" height="1.80" fill="rgb(62, 44, 24)"/>
<rect x="168.90" y="79.11" width="13.43" height="1.80" fill="rgb(29, 66, 29)"/>
<rect x="181.73" y="79.11" width="13.43" height="1.80" fill="rgb(27, 60, 26)"/>
<rect x="194.57" y="79.11" width="13.43" height="1.80" fill="rgb(30, 67, 29)"/>
<rect x="207.40" y="79.11" width="13.43" height="1.80" fill="rgb(25, 39, 21)"/>
<rect x="220.23" y="79.11" width="13.43" height="1.80" fill="rgb(25, 39, 21)"/>
<rect x="233.07" y="79.11" width="12.83" height="1.80" fill="rgb(29, 43, 23)"/>
<rect x="168.90" y="80.32" width="13.43" height="1.80" fill="rgb(31, 70, 30)"/>
<rect x="181.73" y="80.32" width="13.43" height="1.80" fill="rgb(30, 68, 30)"/>
<rect x="194.57" y="80.32" width="13.43" height="1.80" fill="rgb(32, 75, 32)"/>
<rect x="207.40" y="80.32" width="13.43" height="1.80" fill="rgb(42, 45, 24)"/>
<rect x="220.23" y="80.32" width="13.43" height="1.80" fill="rgb(34, 45, 24)"/>
<rect x="233.07" y="80.32" width="12.83" height="1.80" fill="rgb(39, 45, 24)"/>
<rect x="168.90" y="81.53" width="13.43" height="1.80" fill="rgb(44, 118, 46)"/>
<rect x="181.73" y="81.53" width="13.43" height="1.80" fill="rgb(42, 112, 44)"/>
<rect x="194.57" y="81.53" width="13.43" height="1.80" fill="rgb(44, 120, 47)"/>
<rect x="207.40" y="81.53" width="13.43" height="1.80" fill="rgb(38, 79, 35)"/>
<rect x="220.23" y="81.53" width="13.43" height="1.80" fill="rgb(36, 70, 32)"/>
<rect x="233.07" y="81.53" width="12.83" height="1.80" fill="rgb(36, 67, 31)"/>
<rect x="168.90" y="82.73" width="13.43" height="1.80" fill="rgb(40, 103, 41)"/>
<rect x="181.73" y="82.73" width="13.43" height="1.80" fill="rgb(39, 99, 40)"/>
<rect x="194.57" y="82.73" width="13.43" height="1.80" fill="rgb(40, 106, 42)"/>
<rect x="207.40" y="82.73" width="13.43" height="1.80" fill="rgb(39, 84, 36)"/>
<rect x="220.23" y="82.73" width="13.43" height="1.80" fill="rgb(39, 81, 35)"/>
<rect x="233.07" y="82.73" width="12.83" height="1.80" fill="rgb(40, 88, 38)"/>
<rect x="168.90" y="83.94" width="13.43" height="1.80" fill="rgb(32, 75, 32)"/>
<rect x="181.73" y="83.94" width="13.43" height="1.80" fill="rgb(30, 68, 30)"/>
<rect x="194.57" y="83.94" width="13.43" height="1.80" fill="rgb(32, 74, 32)"/>
<rect x="207.40" y="83.94" width="13.43" height="1.80" fill="rgb(38, 80, 35)"/>
<rect x="220.23" y="83.94" width="13.43" height="1.80" fill="rgb(39, 83, 36)"/>
<rect x="233.07" y="83.94" width="12.83" height="1.80" fill="rgb(38, 80, 35)"/>
<rect x="168.90" y="85.14" width="13.43" height="1.80" fill="rgb(40, 71, 31)"/>
<rect x="181.73" y="85.14" width="13.43" height="1.80" fill="rgb(46, 68, 30)"/>
<rect x="194.57" y="85.14" width="13.43" height="1.80" fill="rgb(50, 65, 30)"/>
<rect x="207.40" y="85.14" width="13.43" height="1.80" fill="rgb(35, 64, 30)"/>
<rect x="220.23" y="85.14" width="13.43" height="1.80" fill="rgb(38, 77, 34)"/>
<rect x="233.07" y="85.14" width="12.83" height="1.80" fill="rgb(32, 49, 25)"/>
<rect x="168.90" y="86.34" width="13.43" height="1.80" fill="rgb(39, 102, 41)"/>
<rect x="181.73" y="86.34" width="13.43" height="1.80" fill="rgb(38, 97, 39)"/>
<rect x="194.57" y="86.34" width="13.43" height="1.80" fill="rgb(39, 99, 40)"/>
<rect x="207.40" y="86.34" width="13.43" height="1.80" fill="rgb(38, 79, 35)"/>
<rect x="220.23" y="86.34" width="13.43" height="1.80" fill="rgb(39, 83, 36)"/>
<rect x="233.07" y="86.34" width="12.83" height="1.80" fill="rgb(38, 77, 34)"/>
<rect x="168.90" y="87.55" width="13.43" height="1.80" fill="rgb(36, 88, 36)"/>
<rect x="181.73" y="87.55" width="13.43" height="1.80" fill="rgb(34, 83, 35)"/>
<rect x="194.57" y="87.55" width="13.43" height="1.80" fill="rgb(33, 79, 34)"/>
<rect x="207.40" y="87.55" width="13.43" height="1.80" fill="rgb(40, 88, 38)"/>
<rect x="220.23" y="87.55" width="13.43" height="1.80" fill="rgb(39, 83, 36)"/>
<rect x="233.07" y="87.55" width="12.83" height="1.80" fill="rgb(37, 71, 32)"/>
<rect x="168.90" y="88.75" width="13.43" height="1.80" fill="rgb(38, 72, 32)"/>
<rect x="181.73" y="88.75" width="13.43" height="1.80" fill="rgb(45, 68, 30)"/>
<rect x="194.57" y="88.75" width="13.43" height="1.80" fill="rgb(33, 75, 32)"/>
<rect x="207.40" y="88.75" width="13.43" height="1.80" fill="rgb(34, 45, 24)"/>
<rect x="220.23" y="88.75" width="13.43" height="1.80" fill="rgb(34, 58, 28)"/>
<rect x="233.07" y="88.75" width="12.83" height="1.80" fill="rgb(34, 45, 24)"/>
<rect x="168.90" y="89.96" width="13.43" height="1.80" fill="rgb(47, 68, 30)"/>
<rect x="181.73" y="89.96" width="13.43" height="1.80" fill="rgb(42, 70, 31)"/>
<rect x="194.57" y="89.96" width="13.43" height="1.80" fill="rgb(45, 68, 30)"/>
<rect x="207.40" y="89.96" width="13.43" height="1.80" fill="rgb(47, 45, 24)"/>
<rect x="220.23" y="89.96" width="13.43" height="1.80" fill="rgb(46, 45, 24)"/>
<rect x="233.07" y="89.96" width="12.83" height="1.80" fill="rgb(46, 45, 24)"/>
<rect x="168.90" y="91.16" width="13.43" height="1.80" fill="rgb(35, 84, 35)"/>
<rect x="181.73" y="91.16" width="13.43" height="1.80" fill="rgb(33, 77, 33)"/>
<rect x="194.57" y="91.16" width="13.43" height="1.80" fill="rgb(33, 78, 33)"/>
<rect x="207.40" y="91.16" width="13.43" height="1.80" fill="rgb(40, 45, 24)"/>
<rect x="220.23" y="91.16" width="13.43" height="1.80" fill="rgb(38, 45, 24)"/>
<rect x="233.07" y="91.16" width="12.83" height="1.80" fill="rgb(40, 45, 24)"/>
<rect x="168.90" y="92.37" width="13.43" height="1.80" fill="rgb(41, 110, 44)"/>
<rect x="181.73" y="92.37" width="13.43" height="1.80" fill="rgb(42, 111, 44)"/>
<rect x="194.57" y="92.37" width="13.43" height="1.80" fill="rgb(43, 117, 46)"/>
<rect x="207.40" y="92.37" width="13.43" height="1.80" fill="rgb(27, 41, 22)"/>
<rect x="220.23" y="92.37" width="13.43" height="1.80" fill="rgb(28, 42, 22)"/>
<rect x="233.07" y="92.37" width="12.83" height="1.80" fill="rgb(26, 40, 21)"/>
<rect x="168.90" y="93.58" width="13.43" height="1.80" fill="rgb(32, 73, 32)"/>
<rect x="181.73" y="93.58" width="13.43" height="1.80" fill="rgb(31, 72, 31)"/>
<rect x="194.57" y="93.58" width="13.43" height="1.80" fill="rgb(31, 71, 31)"/>
<rect x="207.40" y="93.58" width="13.43" height="1.80" fill="rgb(66, 44, 24)"/>
<rect x="220.23" y="93.58" width="13.43" height="1.80" fill="rgb(68, 44, 24)"/>
<rect x="233.07" y="93.58" width="12.83" height="1.80" fill="rgb(70, 44, 24)"/>
<rect x="168.90" y="94.78" width="13.43" height="1.80" fill="rgb(37, 92, 38)"/>
<rect x="181.73" y="94.78" width="13.43" height="1.80" fill="rgb(35, 84, 35)"/>
<rect x="194.57" y="94.78" width="13.43" height="1.80" fill="rgb(38, 96, 39)"/>
<rect x="207.40" y="94.78" width="13.43" height="1.80" fill="rgb(43, 45, 24)"/>
<rect x="220.23" y="94.78" width="13.43" height="1.80" fill="rgb(36, 45, 24)"/>
<rect x="233.07" y="94.78" width="12.83" height="1.80" fill="rgb(38, 45, 24)"/>
<rect x="168.90" y="95.98" width="13.43" height="1.80" fill="rgb(29, 64, 28)"/>
<rect x="181.73" y="95.98" width="13.43" height="1.80" fill="rgb(30, 69, 30)"/>
<rect x="194.57" y="95.98" width="13.43" height="1.80" fill="rgb(30, 68, 30)"/>
<rect x="207.40" y="95.98" width="13.43" height="1.80" fill="rgb(38, 45, 24)"/>
<rect x="220.23" y="95.98" width="13.43" height="1.80" fill="rgb(38, 45, 24)"/>
<rect x="233.07" y="95.98" width="12.83" height="1.80" fill="rgb(43, 45, 24)"/>
<rect x="168.90" y="97.19" width="13.43" height="1.80" fill="rgb(22, 45, 21)"/>
<rect x="181.73" y="97.19" width="13.43" height="1.80" fill="rgb(24, 51, 23)"/>
<rect x="194.57" y="97.19" width="13.43" height="1.80" fill="rgb(23, 47, 21)"/>
<rect x="207.40" y="97.19" width="13.43" height="1.80" fill="rgb(69, 44, 24)"/>
<rect x="220.23" y="97.19" width="13.43" height="1.80" fill="rgb(70, 44, 24)"/>
<rect x="233.07" y="97.19" width="12.83" height="1.80" fill="rgb(68, 44, 24)"/>
<rect x="168.90" y="98.39" width="13.43" height="1.80" fill="rgb(26, 56, 25)"/>
<rect x="181.73" y="98.39" width="13.43" height="1.80" fill="rgb(27, 59, 26)"/>
<rect x="194.57" y="98.39" width="13.43" height="1.80" fill="rgb(26, 57, 26)"/>
<rect x="207.40" y="98.39" width="13.43" height="1.80" fill="rgb(68, 44, 24)"/>
<rect x="220.23" y="98.39" width="13.43" height="1.80" fill="rgb(76, 44, 24)"/>
<rect x="233.07" y="98.39" width="12.83" height="1.80" fill="rgb(62, 44, 24)"/>
<rect x="168.90" y="99.60" width="13.43" height="1.80" fill="rgb(39, 101, 41)"/>
<rect x="181.73" y="99.60" width="13.43" height="1.80" fill="rgb(37, 94, 39)"/>
<rect x="194.57" y="99.60" width="13.43" height="1.80" fill="rgb(36, 88, 37)"/>
<rect x="207.40" y="99.60" width="13.43" height="1.80" fill="rgb(33, 54, 27)"/>
<rect x="220.23" y="99.60" width="13.43" height="1.80" fill="rgb(33, 54, 27)"/>
<rect x="233.07" y="99.60" width="12.83" height="1.80" fill="rgb(36, 65, 31)"/>
<rect x="168.90" y="100.80" width="13.43" height="1.80" fill="rgb(32, 75, 32)"/>
<rect x="181.73" y="100.80" width="13.43" height="1.80" fill="rgb(32, 74, 32)"/>
<rect x="194.57" y="100.80" width="13.43" height="1.80" fill="rgb(34, 80, 34)"/>
<rect x="207.40" y="100.80" width="13.43" height="1.80" fill="rgb(42, 45, 24)"/>
<rect x="220.23" y="100.80" width="13.43" height="1.80" fill="rgb(40, 45, 24)"/>
<rect x="233.07" y="100.80" width="12.83" height="1.80" fill="rgb(34, 45, 24)"/>
<rect x="168.90" y="102.01" width="13.43" height="1.80" fill="rgb(32, 73, 31)"/>
<rect x="181.73" y="102.01" width="13.43" height="1.80" fill="rgb(34, 82, 35)"/>
<rect x="194.57" y="102.01" width="13.43" height="1.80" fill="rgb(31, 71, 31)"/>
<rect x="207.40" y="102.01" width="13.43" height="1.80" fill="rgb(28, 42, 22)"/>
<rect x="220.23" y="102.01" width="13.43" height="1.80" fill="rgb(29, 43, 23)"/>
<rect x="233.07" y="102.01" width="12.83" height="1.80" fill="rgb(28, 42, 22)"/>
<rect x="168.90" y="103.22" width="13.43" height="1.80" fill="rgb(29, 65, 28)"/>
<rect x="181.73" y="103.22" width="13.43" height="1.80" fill="rgb(28, 63, 28)"/>
<rect x="194.57" y="103.22" width="13.43" height="1.80" fill="rgb(26, 57, 25)"/>
<rect x="207.40" y="103.22" width="13.43" height="1.80" fill="rgb(36, 67, 31)"/>
<rect x="220.23" y="103.22" width="13.43" height="1.80" fill="rgb(32, 50, 26)"/>
<rect x="233.07" y="103.22" width="12.83" height="1.80" fill="rgb(33, 51, 26)"/>
<rect x="168.90" y="104.42" width="13.43" height="1.80" fill="rgb(30, 68, 29)"/>
<rect x="181.73" y="104.42" width="13.43" height="1.80" fill="rgb(32, 73, 31)"/>
<rect x="194.57" y="104.42" width="13.43" height="1.80" fill="rgb(33, 76, 33)"/>
<rect x="207.40" y="104.42" width="13.43" height="1.80" fill="rgb(42, 95, 40)"/>
<rect x="220.23" y="104.42" width="13.43" height="1.80" fill="rgb(41, 90, 38)"/>
<rect x="233.07" y="104.42" width="12.83" height="1.80" fill="rgb(41, 92, 39)"/>
<rect x="168.90" y="105.62" width="13.43" height="1.80" fill="rgb(39, 101, 41)"/>
<rect x="181.73" y="105.62" width="13.43" height="1.80" fill="rgb(39, 99, 40)"/>
<rect x="194.57" y="105.62" width="13.43" height="1.80" fill="rgb(37, 94, 39)"/>
<rect x="207.40" y="105.62" width="13.43" height="1.80" fill="rgb(42, 100, 41)"/>
<rect x="220.23" y="105.62" width="13.43" height="1.80" fill="rgb(45, 113, 45)"/>
<rect x="233.07" y="105.62" width="12.83" height="1.80" fill="rgb(43, 100, 41)"/>
<rect x="168.90" y="106.83" width="13.43" height="1.80" fill="rgb(31, 71, 31)"/>
<rect x="181.73" y="106.83" width="13.43" height="1.80" fill="rgb(31, 70, 30)"/>
<rect x="194.57" y="106.83" width="13.43" height="1.80" fill="rgb(31, 71, 31)"/>
<rect x="207.40" y="106.83" width="13.43" height="1.80" fill="rgb(41, 94, 39)"/>
<rect x="220.23" y="106.83" width="13.43" height="1.80" fill="rgb(42, 98, 41)"/>
<rect x="233.07" y="106.83" width="12.83" height="1.80" fill="rgb(45, 112, 45)"/>
<rect x="168.90" y="108.03" width="13.43" height="1.80" fill="rgb(32, 75, 32)"/>
<rect x="181.73" y="108.03" width="13.43" height="1.80" fill="rgb(31, 72, 31)"/>
<rect x="194.57" y="108.03" width="13.43" height="1.80" fill="rgb(34, 81, 34)"/>
<rect x="207.40" y="108.03" width="13.43" height="1.80" fill="rgb(45, 111, 45)"/>
<rect x="220.23" y="108.03" width="13.43" height="1.80" fill="rgb(45, 112, 45)"/>
<rect x="233.07" y="108.03" width="12.83" height="1.80" fill="rgb(43, 101, 41)"/>
<rect x="168.90" y="109.24" width="13.43" height="1.80" fill="rgb(29, 66, 29)"/>
<rect x="181.73" y="109.24" width="13.43" height="1.80" fill="rgb(29, 66, 29)"/>
<rect x="194.57" y="109.24" width="13.43" height="1.80" fill="rgb(28, 61, 27)"/>
<rect x="207.40" y="109.24" width="13.43" height="1.80" fill="rgb(43, 102, 42)"/>
<rect x="220.23" y="109.24" width="13.43" height="1.80" fill="rgb(41, 93, 39)"/>
<rect x="233.07" y="109.24" width="12.83" height="1.80" fill="rgb(40, 88, 38)"/>
<rect x="168.90" y="110.44" width="13.43" height="1.80" fill="rgb(81, 48, 25)"/>
<rect x="181.73" y="110.44" width="13.43" height="1.80" fill="rgb(86, 45, 24)"/>
<rect x="194.57" y="110.44" width="13.43" height="1.80" fill="rgb(73, 53, 26)"/>
<rect x="207.40" y="110.44" width="13.43" height="1.80" fill="rgb(24, 38, 19)"/>
<rect x="220.23" y="110.44" width="13.43" height="1.80" fill="rgb(26, 40, 21)"/>
<rect x="233.07" y="110.44" width="12.83" height="1.80" fill="rgb(26, 40, 21)"/>
<rect x="168.90" y="111.65" width="13.43" height="1.80" fill="rgb(22, 45, 21)"/>
<rect x="181.73" y="111.65" width="13.43" height="1.80" fill="rgb(25, 53, 24)"/>
<rect x="194.57" y="111.65" width="13.43" height="1.80" fill="rgb(25, 53, 24)"/>
<rect x="207.40" y="111.65" width="13.43" height="1.80" fill="rgb(27, 41, 22)"/>
<rect x="220.23" y="111.65" width="13.43" height="1.80" fill="rgb(28, 42, 22)"/>
<rect x="233.07" y="111.65" width="12.83" height="1.80" fill="rgb(27, 41, 21)"/>
<rect x="168.90" y="112.85" width="13.43" height="1.80" fill="rgb(58, 61, 28)"/>
<rect x="181.73" y="112.85" width="13.43" height="1.80" fill="rgb(50, 66, 30)"/>
<rect x="194.57" y="112.85" width="13.43" height="1.80" fill="rgb(54, 63, 29)"/>
<rect x="207.40" y="112.85" width="13.43" height="1.80" fill="rgb(33, 55, 27)"/>
<rect x="220.23" y="112.85" width="13.43" height="1.80" fill="rgb(33, 54, 27)"/>
<rect x="233.07" y="112.85" width="12.83" height="1.80" fill="rgb(36, 68, 31)"/>
<rect x="168.90" y="114.06" width="13.43" height="1.80" fill="rgb(41, 71, 31)"/>
<rect x="181.73" y="114.06" width="13.43" height="1.80" fill="rgb(38, 72, 32)"/>
<rect x="194.57" y="114.06" width="13.43" height="1.80" fill="rgb(35, 74, 32)"/>
<rect x="207.40" y="114.06" width="13.43" height="1.80" fill="rgb(32, 46, 25)"/>
<rect x="220.23" y="114.06" width="13.43" height="1.80" fill="rgb(30, 44, 24)"/>
<rect x="233.07" y="114.06" width="12.83" height="1.80" fill="rgb(31, 45, 24)"/>
<rect x="168.90" y="115.26" width="13.43" height="1.80" fill="rgb(26, 56, 25)"/>
<rect x="181.73" y="115.26" width="13.43" height="1.80" fill="rgb(27, 60, 26)"/>
<rect x="194.57" y="115.26" width="13.43" height="1.80" fill="rgb(28, 63, 28)"/>
<rect x="207.40" y="115.26" width="13.43" height="1.80" fill="rgb(56, 45, 24)"/>
<rect x="220.23" y="115.26" width="13.43" height="1.80" fill="rgb(52, 45, 24)"/>
<rect x="233.07" y="115.26" width="12.83" height="1.80" fill="rgb(57, 45, 24)"/>
<rect x="168.90" y="116.47" width="13.43" height="1.80" fill="rgb(26, 58, 26)"/>
<rect x="181.73" y="116.47" width="13.43" height="1.80" fill="rgb(24, 51, 23)"/>
<rect x="194.57" y="116.47" width="13.43" height="1.80" fill="rgb(26, 56, 25)"/>
<rect x="207.40" y="116.47" width="13.43" height="1.80" fill="rgb(75, 44, 24)"/>
<rect x="220.23" y="116.47" width="13.43" height="1.80" fill="rgb(77, 44, 24)"/>
<rect x="233.07" y="116.47" width="12.83" height="1.80" fill="rgb(75, 44, 24)"/>
<rect x="168.90" y="117.67" width="13.43" height="1.80" fill="rgb(24, 49, 22)"/>
<rect x="181.73" y="117.67" width="13.43" height="1.80" fill="rgb(23, 47, 22)"/>
<rect x="194.57" y="117.67" width="13.43" height="1.80" fill="rgb(23, 47, 21)"/>
<rect x="207.40" y="117.67" width="13.43" height="1.80" fill="rgb(84, 44, 24)"/>
<rect x="220.23" y="117.67" width="13.43" height="1.80" fill="rgb(89, 44, 24)"/>
<rect x="233.07" y="117.67" width="12.83" height="1.80" fill="rgb(83, 44, 24)"/>
<rect x="168.90" y="118.88" width="13.43" height="1.80" fill="rgb(26, 56, 25)"/>
<rect x="181.73" y="118.88" width="13.43" height="1.80" fill="rgb(25, 53, 24)"/>
<rect x="194.57" y="118.88" width="13.43" height="1.80" fill="rgb(28, 62, 27)"/>
<rect x="207.40" y="118.88" width="13.43" height="1.80" fill="rgb(51, 45, 24)"/>
<rect x="220.23" y="118.88" width="13.43" height="1.80" fill="rgb(52, 45, 24)"/>
<rect x="233.07" y="118.88" width="12.83" height="1.80" fill="rgb(60, 45, 24)"/>
<rect x="168.90" y="120.08" width="13.43" height="1.80" fill="rgb(29, 66, 29)"/>
<rect x="181.73" y="120.08" width="13.43" height="1.80" fill="rgb(30, 69, 30)"/>
<rect x="194.57" y="120.08" width="13.43" height="1.80" fill="rgb(32, 74, 32)"/>
<rect x="207.40" y="120.08" width="13.43" height="1.80" fill="rgb(40, 45, 24)"/>
<rect x="220.23" y="120.08" width="13.43" height="1.80" fill="rgb(40, 45, 24)"/>
<rect x="233.07" y="120.08" width="12.83" height="1.80" fill="rgb(32, 45, 24)"/>
<rect x="168.90" y="121.29" width="13.43" height="1.80" fill="rgb(33, 79, 34)"/>
<rect x="181.73" y="121.29" width="13.43" height="1.80" fill="rgb(32, 74, 32)"/>
<rect x="194.57" y="121.29" width="13.43" height="1.80" fill="rgb(34, 81, 34)"/>
<rect x="207.40" y="121.29" width="13.43" height="1.80" fill="rgb(38, 76, 34)"/>
<rect x="220.23" y="121.29" width="13.43" height="1.80" fill="rgb(36, 69, 32)"/>
<rect x="233.07" y="121.29" width="12.83" height="1.80" fill="rgb(38, 79, 35)"/>
<rect x="168.90" y="122.50" width="13.43" height="1.80" fill="rgb(25, 54, 24)"/>
<rect x="181.73" y="122.50" width="13.43" height="1.80" fill="rgb(23, 49, 22)"/>
<rect x="194.57" y="122.50" width="13.43" height="1.80" fill="rgb(23, 48, 22)"/>
<rect x="207.40" y="122.50" width="13.43" height="1.80" fill="rgb(30, 44, 23)"/>
<rect x="220.23" y="122.50" width="13.43" height="1.80" fill="rgb(32, 49, 25)"/>
<rect x="233.07" y="122.50" width="12.83" height="1.80" fill="rgb(30, 44, 24)"/>
<rect x="168.90" y="123.70" width="13.43" height="1.80" fill="rgb(25, 55, 25)"/>
<rect x="181.73" y="123.70" width="13.43" height="1.80" fill="rgb(28, 62, 27)"/>
<rect x="194.57" y="123.70" width="13.43" height="1.80" fill="rgb(28, 61, 27)"/>
<rect x="207.40" y="123.70" width="13.43" height="1.80" fill="rgb(40, 87, 37)"/>
<rect x="220.23" y="123.70" width="13.43" height="1.80" fill="rgb(41, 94, 39)"/>
<rect x="233.07" y="123.70" width="12.83" height="1.80" fill="rgb(42, 98, 41)"/>
<rect x="168.90" y="124.91" width="13.43" height="1.80" fill="rgb(24, 50, 23)"/>
<rect x="181.73" y="124.91" width="13.43" height="1.80" fill="rgb(24, 50, 23)"/>
<rect x="194.57" y="124.91" width="13.43" height="1.80" fill="rgb(23, 48, 22)"/>
<rect x="207.40" y="124.91" width="13.43" height="1.80" fill="rgb(38, 77, 34)"/>
<rect x="220.23" y="124.91" width="13.43" height="1.80" fill="rgb(40, 86, 37)"/>
<rect x="233.07" y="124.91" width="12.83" height="1.80" fill="rgb(35, 63, 30)"/>
<rect x="168.90" y="126.11" width="13.43" height="1.80" fill="rgb(24, 52, 23)"/>
<rect x="181.73" y="126.11" width="13.43" height="1.80" fill="rgb(24, 51, 23)"/>
<rect x="194.57" y="126.11" width="13.43" height="1.80" fill="rgb(26, 57, 25)"/>
<rect x="207.40" y="126.11" width="13.43" height="1.80" fill="rgb(33, 53, 27)"/>
<rect x="220.23" y="126.11" width="13.43" height="1.80" fill="rgb(33, 54, 27)"/>
<rect x="233.07" y="126.11" width="12.83" height="1.80" fill="rgb(33, 52, 26)"/>
<rect x="168.90" y="127.31" width="13.43" height="1.80" fill="rgb(28, 63, 28)"/>
<rect x="181.73" y="127.31" width="13.43" height="1.80" fill="rgb(29, 66, 29)"/>
<rect x="194.57" y="127.31" width="13.43" height="1.80" fill="rgb(28, 63, 28)"/>
<rect x="207.40" y="127.31" width="13.43" height="1.80" fill="rgb(34, 58, 28)"/>
<rect x="220.23" y="127.31" width="13.43" height="1.80" fill="rgb(32, 46, 25)"/>
<rect x="233.07" y="127.31" width="12.83" height="1.80" fill="rgb(32, 47, 25)"/>
<rect x="168.90" y="128.52" width="13.43" height="1.80" fill="rgb(29, 66, 29)"/>
<rect x="181.73" y="128.52" width="13.43" height="1.80" fill="rgb(29, 66, 29)"/>
<rect x="194.57" y="128.52" width="13.43" height="1.80" fill="rgb(28, 64, 28)"/>
<rect x="207.40" y="128.52" width="13.43" height="1.80" fill="rgb(48, 45, 24)"/>
<rect x="220.23" y="128.52" width="13.43" height="1.80" fill="rgb(41, 45, 24)"/>
<rect x="233.07" y="128.52" width="12.83" height="1.80" fill="rgb(44, 45, 24)"/>
<rect x="168.90" y="129.72" width="13.43" height="1.80" fill="rgb(32, 74, 32)"/>
<rect x="181.73" y="129.72" width="13.43" height="1.80" fill="rgb(34, 83, 35)"/>
<rect x="194.57" y="129.72" width="13.43" height="1.80" fill="rgb(33, 77, 33)"/>
<rect x="207.40" y="129.72" width="13.43" height="1.80" fill="rgb(38, 76, 34)"/>
<rect x="220.23" y="129.72" width="13.43" height="1.80" fill="rgb(33, 53, 27)"/>
<rect x="233.07" y="129.72" width="12.83" height="1.80" fill="rgb(34, 56, 28)"/>
<rect x="168.90" y="130.93" width="13.43" height="1.80" fill="rgb(22, 43, 20)"/>
<rect x="181.73" y="130.93" width="13.43" height="1.80" fill="rgb(21, 43, 20)"/>
<rect x="194.57" y="130.93" width="13.43" height="1.80" fill="rgb(22, 44, 20)"/>
<rect x="207.40" y="130.93" width="13.43" height="1.80" fill="rgb(34, 45, 24)"/>
<rect x="220.23" y="130.93" width="13.43" height="1.80" fill="rgb(36, 45, 24)"/>
<rect x="233.07" y="130.93" width="12.83" height="1.80" fill="rgb(38, 45, 24)"/>
<rect x="168.90" y="132.13" width="13.43" height="1.80" fill="rgb(43, 70, 31)"/>
<rect x="181.73" y="132.13" width="13.43" height="1.80" fill="rgb(44, 69, 31)"/>
<rect x="194.57" y="132.13" width="13.43" height="1.80" fill="rgb(40, 71, 31)"/>
<rect x="207.40" y="132.13" width="13.43" height="1.80" fill="rgb(33, 45, 24)"/>
<rect x="220.23" y="132.13" width="13.43" height="1.80" fill="rgb(35, 45, 24)"/>
<rect x="233.07" y="132.13" width="12.83" height="1.80" fill="rgb(34, 45, 24)"/>
<rect x="168.90" y="133.34" width="13.43" height="1.80" fill="rgb(47, 67, 30)"/>
<rect x="181.73" y="133.34" width="13.43" height="1.80" fill="rgb(45, 68, 30)"/>
<rect x="194.57" y="133.34" width="13.43" height="1.80" fill="rgb(41, 71, 31)"/>
<rect x="207.40" y="133.34" width="13.43" height="1.80" fill="rgb(34, 59, 28)"/>
<rect x="220.23" y="133.34" width="13.43" height="1.80" fill="rgb(35, 61, 29)"/>
<rect x="233.07" y="133.34" width="12.83" height="1.80" fill="rgb(34, 60, 29)"/>
<rect x="168.90" y="134.54" width="13.43" height="1.80" fill="rgb(31, 72, 31)"/>
<rect x="181.73" y="134.54" width="13.43" height="1.80" fill="rgb(30, 69, 30)"/>
<rect x="194.57" y="134.54" width="13.43" height="1.80" fill="rgb(33, 78, 33)"/>
<rect x="207.40" y="134.54" width="13.43" height="1.80" fill="rgb(44, 105, 43)"/>
<rect x="220.23" y="134.54" width="13.43" height="1.80" fill="rgb(43, 101, 41)"/>
<rect x="233.07" y="134.54" width="12.83" height="1.80" fill="rgb(43, 101, 42)"/>
<rect x="168.90" y="135.75" width="13.43" height="1.80" fill="rgb(37, 92, 38)"/>
<rect x="181.73" y="135.75" width="13.43" height="1.80" fill="rgb(39, 99, 40)"/>
<rect x="194.57" y="135.75" width="13.43" height="1.80" fill="rgb(34, 81, 34)"/>
<rect x="207.40" y="135.75" width="13.43" height="1.80" fill="rgb(43, 102, 42)"/>
<rect x="220.23" y="135.75" width="13.43" height="1.80" fill="rgb(41, 94, 39)"/>
<rect x="233.07" y="135.75" width="12.83" height="1.80" fill="rgb(44, 108, 44)"/>
<rect x="168.90" y="136.95" width="13.43" height="1.80" fill="rgb(38, 96, 39)"/>
<rect x="181.73" y="136.95" width="13.43" height="1.80" fill="rgb(40, 103, 41)"/>
<rect x="194.57" y="136.95" width="13.43" height="1.80" fill="rgb(37, 94, 38)"/>
<rect x="207.40" y="136.95" width="13.43" height="1.80" fill="rgb(42, 98, 41)"/>
<rect x="220.23" y="136.95" width="13.43" height="1.80" fill="rgb(39, 83, 36)"/>
<rect x="233.07" y="136.95" width="12.83" height="1.80" fill="rgb(43, 103, 42)"/>
<rect x="168.90" y="138.16" width="13.43" height="1.80" fill="rgb(34, 83, 35)"/>
<rect x="181.73" y="138.16" width="13.43" height="1.80" fill="rgb(35, 83, 35)"/>
<rect x="194.57" y="138.16" width="13.43" height="1.80" fill="rgb(37, 91, 38)"/>
<rect x="207.40" y="138.16" width="13.43" height="1.80" fill="rgb(36, 68, 31)"/>
<rect x="220.23" y="138.16" width="13.43" height="1.80" fill="rgb(34, 60, 29)"/>
<rect x="233.07" y="138.16" width="12.83" height="1.80" fill="rgb(39, 82, 36)"/>
<rect x="168.90" y="139.37" width="13.43" height="1.80" fill="rgb(33, 79, 34)"/>
<rect x="181.73" y="139.37" width="13.43" height="1.80" fill="rgb(33, 79, 34)"/>
<rect x="194.57" y="139.37" width="13.43" height="1.80" fill="rgb(35, 84, 35)"/>
<rect x="207.40" y="139.37" width="13.43" height="1.80" fill="rgb(36, 70, 32)"/>
<rect x="220.23" y="139.37" width="13.43" height="1.80" fill="rgb(41, 93, 39)"/>
<rect x="233.07" y="139.37" width="12.83" height="1.80" fill="rgb(39, 83, 36)"/>
<rect x="168.90" y="140.57" width="13.43" height="1.80" fill="rgb(32, 73, 32)"/>
<rect x="181.73" y="140.57" width="13.43" height="1.80" fill="rgb(31, 71, 31)"/>
<rect x="194.57" y="140.57" width="13.43" height="1.80" fill="rgb(31, 71, 31)"/>
<rect x="207.40" y="140.57" width="13.43" height="1.80" fill="rgb(41, 90, 38)"/>
<rect x="220.23" y="140.57" width="13.43" height="1.80" fill="rgb(43, 101, 42)"/>
<rect x="233.07" y="140.57" width="12.83" height="1.80" fill="rgb(42, 100, 41)"/>
<rect x="168.90" y="141.77" width="13.43" height="1.80" fill="rgb(29, 64, 28)"/>
<rect x="181.73" y="141.77" width="13.43" height="1.80" fill="rgb(28, 62, 27)"/>
<rect x="194.57" y="141.77" width="13.43" height="1.80" fill="rgb(30, 68, 30)"/>
<rect x="207.40" y="141.77" width="13.43" height="1.80" fill="rgb(34, 56, 28)"/>
<rect x="220.23" y="141.77" width="13.43" height="1.80" fill="rgb(33, 55, 27)"/>
<rect x="233.07" y="141.77" width="12.83" height="1.80" fill="rgb(36, 67, 31)"/>
<rect x="168.90" y="142.98" width="13.43" height="1.80" fill="rgb(26, 57, 25)"/>
<rect x="181.73" y="142.98" width="13.43" height="1.80" fill="rgb(27, 61, 27)"/>
<rect x="194.57" y="142.98" width="13.43" height="1.80" fill="rgb(26, 57, 26)"/>
<rect x="207.40" y="142.98" width="13.43" height="1.80" fill="rgb(35, 45, 24)"/>
<rect x="220.23" y="142.98" width="13.43" height="1.80" fill="rgb(33, 53, 27)"/>
<rect x="233.07" y="142.98" width="12.83" height="1.80" fill="rgb(36, 45, 24)"/>
<rect x="168.90" y="144.19" width="13.43" height="1.80" fill="rgb(34, 81, 34)"/>
<rect x="181.73" y="144.19" width="13.43" height="1.80" fill="rgb(32, 74, 32)"/>
<rect x="194.57" y="144.19" width="13.43" height="1.80" fill="rgb(32, 75, 32)"/>
<rect x="207.40" y="144.19" width="13.43" height="1.80" fill="rgb(35, 61, 29)"/>
<rect x="220.23" y="144.19" width="13.43" height="1.80" fill="rgb(33, 52, 27)"/>
<rect x="233.07" y="144.19" width="12.83" height="1.80" fill="rgb(34, 59, 29)"/>
<rect x="168.90" y="145.39" width="13.43" height="1.80" fill="rgb(41, 107, 43)"/>
<rect x="181.73" y="145.39" width="13.43" height="1.80" fill="rgb(40, 104, 42)"/>
<rect x="194.57" y="145.39" width="13.43" height="1.80" fill="rgb(41, 108, 43)"/>
<rect x="207.40" y="145.39" width="13.43" height="1.80" fill="rgb(37, 75, 33)"/>
<rect x="220.23" y="145.39" width="13.43" height="1.80" fill="rgb(36, 66, 31)"/>
<rect x="233.07" y="145.39" width="12.83" height="1.80" fill="rgb(35, 62, 30)"/>
<rect x="168.90" y="146.59" width="13.43" height="1.20" fill="rgb(36, 90, 37)"/>
<rect x="181.73" y="146.59" width="13.43" height="1.20" fill="rgb(35, 83, 35)"/>
<rect x="194.57" y="146.59" width="13.43" height="1.20" fill="rgb(39, 100, 40)"/>
<rect x="207.40" y="146.59" width="13.43" height="1.20" fill="rgb(46, 45, 24)"/>
<rect x="220.23" y="146.59" width="13.43" height="1.20" fill="rgb(46, 45, 24)"/>
<rect x="233.07" y="146.59" width="12.83" height="1.20" fill="rgb(44, 45, 24)"/>
</g>
<g shape-rendering="crispEdges">
<rect x="84.20" y="152.70" width="13.55" height="1.80" fill="rgb(140, 23, 24)"/>
<rect x="97.15" y="152.70" width="13.55" height="1.80" fill="rgb(147, 24, 25)"/>
<rect x="110.10" y="152.70" width="13.55" height="1.80" fill="rgb(134, 22, 23)"/>
<rect x="123.05" y="152.70" width="13.55" height="1.80" fill="rgb(131, 22, 23)"/>
<rect x="136.00" y="152.70" width="13.55" height="1.80" fill="rgb(136, 23, 24)"/>
<rect x="148.95" y="152.70" width="12.95" height="1.80" fill="rgb(139, 23, 24)"/>
<rect x="84.20" y="153.90" width="13.55" height="1.80" fill="rgb(124, 21, 22)"/>
<rect x="97.15" y="153.90" width="13.55" height="1.80" fill="rgb(122, 21, 22)"/>
<rect x="110.10" y="153.90" width="13.55" height="1.80" fill="rgb(122, 21, 22)"/>
<rect x="123.05" y="153.90" width="13.55" height="1.80" fill="rgb(118, 20, 21)"/>
<rect x="136.00" y="153.90" width="13.55" height="1.80" fill="rgb(118, 20, 21)"/>
<rect x="148.95" y="153.90" width="12.95" height="1.80" fill="rgb(117, 20, 21)"/>
<rect x="84.20" y="155.09" width="13.55" height="1.80" fill="rgb(104, 19, 20)"/>
<rect x="97.15" y="155.09" width="13.55" height="1.80" fill="rgb(100, 18, 19)"/>
<rect x="110.10" y="155.09" width="13.55" height="1.80" fill="rgb(89, 17, 18)"/>
<rect x="123.05" y="155.09" width="13.55" height="1.80" fill="rgb(126, 21, 22)"/>
<rect x="136.00" y="155.09" width="13.55" height="1.80" fill="rgb(114, 20, 21)"/>
<rect x="148.95" y="155.09" width="12.95" height="1.80" fill="rgb(120, 21, 22)"/>
<rect x="84.20" y="156.29" width="13.55" height="1.80" fill="rgb(96, 18, 19)"/>
<rect x="97.15" y="156.29" width="13.55" height="1.80" fill="rgb(96, 18, 19)"/>
<rect x="110.10" y="156.29" width="13.55" height="1.80" fill="rgb(100, 18, 19)"/>
<rect x="123.05" y="156.29" width="13.55" height="1.80" fill="rgb(172, 27, 28)"/>
<rect x="136.00" y="156.29" width="13.55" height="1.80" fill="rgb(169, 27, 28)"/>
<rect x="148.95" y="156.29" width="12.95" height="1.80" fill="rgb(169, 27, 28)"/>
<rect x="84.20" y="157.48" width="13.55" height="1.80" fill="rgb(83, 16, 17)"/>
<rect x="97.15" y="157.48" width="13.55" height="1.80" fill="rgb(69, 15, 15)"/>
<rect x="110.10" y="157.48" width="13.55" height="1.80" fill="rgb(61, 14, 14)"/>
<rect x="123.05" y="157.48" width="13.55" height="1.80" fill="rgb(139, 23, 24)"/>
<rect x="136.00" y="157.48" width="13.55" height="1.80" fill="rgb(109, 19, 20)"/>
<rect x="148.95" y="157.48" width="12.95" height="1.80" fill="rgb(124, 21, 22)"/>
<rect x="84.20" y="158.68" width="13.55" height="1.80" fill="rgb(105, 19, 20)"/>
<rect x="97.15" y="158.68" width="13.55" height="1.80" fill="rgb(102, 18, 19)"/>
<rect x="110.10" y="158.68" width="13.55" height="1.80" fill="rgb(111, 20, 20)"/>
<rect x="123.05" y="158.68" width="13.55" height="1.80" fill="rgb(81, 16, 17)"/>
<rect x="136.00" y="158.68" width="13.55" height="1.80" fill="rgb(88, 17, 18)"/>
<rect x="148.95" y="158.68" width="12.95" height="1.80" fill="rgb(91, 17, 18)"/>
<rect x="84.20" y="159.87" width="13.55" height="1.80" fill="rgb(115, 20, 21)"/>
<rect x="97.15" y="159.87" width="13.55" height="1.80" fill="rgb(105, 19, 20)"/>
<rect x="110.10" y="159.87" width="13.55" height="1.80" fill="rgb(120, 21, 22)"/>
<rect x="123.05" y="159.87" width="13.55" height="1.80" fill="rgb(180, 28, 29)"/>
<rect x="136.00" y="159.87" width="13.55" height="1.80" fill="rgb(177, 27, 29)"/>
<rect x="148.95" y="159.87" width="12.95" height="1.80" fill="rgb(177, 27, 29)"/>
<rect x="84.20" y="161.07" width="13.55" height="1.80" fill="rgb(75, 15, 16)"/>
<rect x="97.15" y="161.07" width="13.55" height="1.80" fill="rgb(99, 18, 19)"/>
<rect x="110.10" y="161.07" width="13.55" height="1.80" fill="rgb(99, 18, 19)"/>
<rect x="123.05" y="161.07" width="13.55" height="1.80" fill="rgb(147, 24, 25)"/>
<rect x="136.00" y="161.07" width="13.55" height="1.80" fill="rgb(143, 23, 24)"/>
<rect x="148.95" y="161.07" width="12.95" height="1.80" fill="rgb(143, 23, 25)"/>
<rect x="84.20" y="162.26" width="13.55" height="1.80" fill="rgb(124, 21, 22)"/>
<rect x="97.15" y="162.26" width="13.55" height="1.80" fill="rgb(120, 21, 22)"/>
<rect x="110.10" y="162.26" width="13.55" height="1.80" fill="rgb(143, 23, 25)"/>
<rect x="123.05" y="162.26" width="13.55" height="1.80" fill="rgb(149, 24, 25)"/>
<rect x="136.00" y="162.26" width="13.55" height="1.80" fill="rgb(139, 23, 24)"/>
<rect x="148.95" y="162.26" width="12.95" height="1.80" fill="rgb(135, 22, 24)"/>
<rect x="84.20" y="163.46" width="13.55" height="1.80" fill="rgb(120, 21, 22)"/>
<rect x="97.15" y="163.46" width="13.55" height="1.80" fill="rgb(109, 19, 20)"/>
<rect x="110.10" y="163.46" width="13.55" height="1.80" fill="rgb(102, 18, 19)"/>
<rect x="123.05" y="163.46" width="13.55" height="1.80" fill="rgb(137, 23, 24)"/>
<rect x="136.00" y="163.46" width="13.55" height="1.80" fill="rgb(132, 22, 23)"/>
<rect x="148.95" y="163.46" width="12.95" height="1.80" fill="rgb(138, 23, 24)"/>
<rect x="84.20" y="164.65" width="13.55" height="1.80" fill="rgb(134, 22, 23)"/>
<rect x="97.15" y="164.65" width="13.55" height="1.80" fill="rgb(144, 23, 25)"/>
<rect x="110.10" y="164.65" width="13.55" height="1.80" fill="rgb(135, 22, 24)"/>
<rect x="123.05" y="164.65" width="13.55" height="1.80" fill="rgb(159, 25, 27)"/>
<rect x="136.00" y="164.65" width="13.55" height="1.80" fill="rgb(158, 25, 27)"/>
<rect x="148.95" y="164.65" width="12.95" height="1.80" fill="rgb(155, 25, 26)"/>
<rect x="84.20" y="165.85" width="13.55" height="1.80" fill="rgb(101, 18, 19)"/>
<rect x="97.15" y="165.85" width="13.55" height="1.80" fill="rgb(99, 18, 19)"/>
<rect x="110.10" y="165.85" width="13.55" height="1.80" fill="rgb(90, 17, 18)"/>
<rect x="123.05" y="165.85" width="13.55" height="1.80" fill="rgb(104, 19, 20)"/>
<rect x="136.00" y="165.85" width="13.55" height="1.80" fill="rgb(120, 21, 22)"/>
<rect x="148.95" y="165.85" width="12.95" height="1.80" fill="rgb(128, 22, 23)"/>
<rect x="84.20" y="167.04" width="13.55" height="1.80" fill="rgb(83, 16, 17)"/>
<rect x="97.15" y="167.04" width="13.55" height="1.80" fill="rgb(76, 15, 16)"/>
<rect x="110.10" y="167.04" width="13.55" height="1.80" fill="rgb(85, 17, 17)"/>
<rect x="123.05" y="167.04" width="13.55" height="1.80" fill="rgb(105, 19, 20)"/>
<rect x="136.00" y="167.04" width="13.55" height="1.80" fill="rgb(103, 19, 19)"/>
<rect x="148.95" y="167.04" width="12.95" height="1.80" fill="rgb(94, 18, 18)"/>
<rect x="84.20" y="168.24" width="13.55" height="1.80" fill="rgb(75, 15, 16)"/>
<rect x="97.15" y="168.24" width="13.55" height="1.80" fill="rgb(79, 16, 16)"/>
<rect x="110.10" y="168.24" width="13.55" height="1.80" fill="rgb(71, 15, 15)"/>
<rect x="123.05" y="168.24" width="13.55" height="1.80" fill="rgb(114, 20, 21)"/>
<rect x="136.00" y="168.24" width="13.55" height="1.80" fill="rgb(115, 20, 21)"/>
<rect x="148.95" y="168.24" width="12.95" height="1.80" fill="rgb(123, 21, 22)"/>
<rect x="84.20" y="169.43" width="13.55" height="1.80" fill="rgb(81, 16, 17)"/>
<rect x="97.15" y="169.43" width="13.55" height="1.80" fill="rgb(91, 17, 18)"/>
<rect x="110.10" y="169.43" width="13.55" height="1.80" fill="rgb(80, 16, 16)"/>
<rect x="123.05" y="169.43" width="13.55" height="1.80" fill="rgb(148, 24, 25)"/>
<rect x="136.00" y="169.43" width="13.55" height="1.80" fill="rgb(151, 24, 26)"/>
<rect x="148.95" y="169.43" width="12.95" height="1.80" fill="rgb(143, 23, 25)"/>
<rect x="84.20" y="170.63" width="13.55" height="1.80" fill="rgb(107, 19, 20)"/>
<rect x="97.15" y="170.63" width="13.55" height="1.80" fill="rgb(94, 18, 18)"/>
<rect x="110.10" y="170.63" width="13.55" height="1.80" fill="rgb(106, 19, 20)"/>
<rect x="123.05" y="170.63" width="13.55" height="1.80" fill="rgb(108, 19, 20)"/>
<rect x="136.00" y="170.63" width="13.55" height="1.80" fill="rgb(118, 20, 21)"/>
<rect x="148.95" y="170.63" width="12.95" height="1.80" fill="rgb(118, 20, 21)"/>
<rect x="84.20" y="171.82" width="13.55" height="1.80" fill="rgb(124, 21, 22)"/>
<rect x="97.15" y="171.82" width="13.55" height="1.80" fill="rgb(121, 21, 22)"/>
<rect x="110.10" y="171.82" width="13.55" height="1.80" fill="rgb(116, 20, 21)"/>
<rect x="123.05" y="171.82" width="13.55" height="1.80" fill="rgb(124, 21, 22)"/>
<rect x="136.00" y="171.82" width="13.55" height="1.80" fill="rgb(107, 19, 20)"/>
<rect x="148.95" y="171.82" width="12.95" height="1.80" fill="rgb(122, 21, 22)"/>
<rect x="84.20" y="173.02" width="13.55" height="1.80" fill="rgb(40, 11, 11)"/>
<rect x="97.15" y="173.02" width="13.55" height="1.80" fill="rgb(27, 10, 10)"/>
<rect x="110.10" y="173.02" width="13.55" height="1.80" fill="rgb(36, 11, 11)"/>
<rect x="123.05" y="173.02" width="13.55" height="1.80" fill="rgb(81, 16, 17)"/>
<rect x="136.00" y="173.02" width="13.55" height="1.80" fill="rgb(87, 17, 17)"/>
<rect x="148.95" y="173.02" width="12.95" height="1.80" fill="rgb(95, 18, 18)"/>
<rect x="84.20" y="174.21" width="13.55" height="1.80" fill="rgb(83, 16, 17)"/>
<rect x="97.15" y="174.21" width="13.55" height="1.80" fill="rgb(95, 18, 18)"/>
<rect x="110.10" y="174.21" width="13.55" height="1.80" fill="rgb(79, 16, 16)"/>
<rect x="123.05" y="174.21" width="13.55" height="1.80" fill="rgb(110, 20, 20)"/>
<rect x="136.00" y="174.21" width="13.55" height="1.80" fill="rgb(90, 17, 18)"/>
<rect x="148.95" y="174.21" width="12.95" height="1.80" fill="rgb(104, 19, 20)"/>
<rect x="84.20" y="175.41" width="13.55" height="1.80" fill="rgb(111, 20, 20)"/>
<rect x="97.15" y="175.41" width="13.55" height="1.80" fill="rgb(108, 19, 20)"/>
<rect x="110.10" y="175.41" width="13.55" height="1.80" fill="rgb(101, 18, 19)"/>
<rect x="123.05" y="175.41" width="13.55" height="1.80" fill="rgb(105, 19, 20)"/>
<rect x="136.00" y="175.41" width="13.55" height="1.80" fill="rgb(92, 17, 18)"/>
<rect x="148.95" y="175.41" width="12.95" height="1.80" fill="rgb(93, 17, 18)"/>
<rect x="84.20" y="176.60" width="13.55" height="1.80" fill="rgb(157, 25, 26)"/>
<rect x="97.15" y="176.60" width="13.55" height="1.80" fill="rgb(143, 23, 25)"/>
<rect x="110.10" y="176.60" width="13.55" height="1.80" fill="rgb(153, 25, 26)"/>
<rect x="123.05" y="176.60" width="13.55" height="1.80" fill="rgb(88, 17, 18)"/>
<rect x="136.00" y="176.60" width="13.55" height="1.80" fill="rgb(93, 17, 18)"/>
<rect x="148.95" y="176.60" width="12.95" height="1.80" fill="rgb(93, 17, 18)"/>
<rect x="84.20" y="177.80" width="13.55" height="1.80" fill="rgb(134, 22, 23)"/>
<rect x="97.15" y="177.80" width="13.55" height="1.80" fill="rgb(130, 22, 23)"/>
<rect x="110.10" y="177.80" width="13.55" height="1.80" fill="rgb(127, 22, 23)"/>
<rect x="123.05" y="177.80" width="13.55" height="1.80" fill="rgb(90, 17, 18)"/>
<rect x="136.00" y="177.80" width="13.55" height="1.80" fill="rgb(75, 15, 16)"/>
<rect x="148.95" y="177.80" width="12.95" height="1.80" fill="rgb(85, 17, 17)"/>
<rect x="84.20" y="178.99" width="13.55" height="1.80" fill="rgb(131, 22, 23)"/>
<rect x="97.15" y="178.99" width="13.55" height="1.80" fill="rgb(143, 23, 25)"/>
<rect x="110.10" y="178.99" width="13.55" height="1.80" fill="rgb(127, 22, 23)"/>
<rect x="123.05" y="178.99" width="13.55" height="1.80" fill="rgb(118, 20, 21)"/>
<rect x="136.00" y="178.99" width="13.55" height="1.80" fill="rgb(115, 20, 21)"/>
<rect x="148.95" y="178.99" width="12.95" height="1.80" fill="rgb(109, 19, 20)"/>
<rect x="84.20" y="180.19" width="13.55" height="1.80" fill="rgb(136, 23, 24)"/>
<rect x="97.15" y="180.19" width="13.55" height="1.80" fill="rgb(139, 23, 24)"/>
<rect x="110.10" y="180.19" width="13.55" height="1.80" fill="rgb(140, 23, 24)"/>
<rect x="123.05" y="180.19" width="13.55" height="1.80" fill="rgb(163, 26, 27)"/>
<rect x="136.00" y="180.19" width="13.55" height="1.80" fill="rgb(155, 25, 26)"/>
<rect x="148.95" y="180.19" width="12.95" height="1.80" fill="rgb(150, 24, 25)"/>
<rect x="84.20" y="181.38" width="13.55" height="1.80" fill="rgb(156, 25, 26)"/>
<rect x="97.15" y="181.38" width="13.55" height="1.80" fill="rgb(152, 24, 26)"/>
<rect x="110.10" y="181.38" width="13.55" height="1.80" fill="rgb(139, 23, 24)"/>
<rect x="123.05" y="181.38" width="13.55" height="1.80" fill="rgb(136, 23, 24)"/>
<rect x="136.00" y="181.38" width="13.55" height="1.80" fill="rgb(145, 24, 25)"/>
<rect x="148.95" y="181.38" width="12.95" height="1.80" fill="rgb(131, 22, 23)"/>
<rect x="84.20" y="182.58" width="13.55" height="1.80" fill="rgb(108, 19, 20)"/>
<rect x="97.15" y="182.58" width="13.55" height="1.80" fill="rgb(116, 20, 21)"/>
<rect x="110.10" y="182.58" width="13.55" height="1.80" fill="rgb(125, 21, 22)"/>
<rect x="123.05" y="182.58" width="13.55" height="1.80" fill="rgb(153, 25, 26)"/>
<rect x="136.00" y="182.58" width="13.55" height="1.80" fill="rgb(137, 23, 24)"/>
<rect x="148.95" y="182.58" width="12.95" height="1.80" fill="rgb(156, 25, 26)"/>
<rect x="84.20" y="183.77" width="13.55" height="1.80" fill="rgb(128, 22, 23)"/>
<rect x="97.15" y="183.77" width="13.55" height="1.80" fill="rgb(145, 24, 25)"/>
<rect x="110.10" y="183.77" width="13.55" height="1.80" fill="rgb(145, 24, 25)"/>
<rect x="123.05" y="183.77" width="13.55" height="1.80" fill="rgb(178, 28, 29)"/>
<rect x="136.00" y="183.77" width="13.55" height="1.80" fill="rgb(173, 27, 28)"/>
<rect x="148.95" y="183.77" width="12.95" height="1.80" fill="rgb(188, 29, 30)"/>
<rect x="84.20" y="184.97" width="13.55" height="1.80" fill="rgb(102, 19, 19)"/>
<rect x="97.15" y="184.97" width="13.55" height="1.80" fill="rgb(98, 18, 19)"/>
<rect x="110.10" y="184.97" width="13.55" height="1.80" fill="rgb(99, 18, 19)"/>
<rect x="123.05" y="184.97" width="13.55" height="1.80" fill="rgb(107, 19, 20)"/>
<rect x="136.00" y="184.97" width="13.55" height="1.80" fill="rgb(112, 20, 21)"/>
<rect x="148.95" y="184.97" width="12.95" height="1.80" fill="rgb(111, 20, 20)"/>
<rect x="84.20" y="186.16" width="13.55" height="1.80" fill="rgb(117, 20, 21)"/>
<rect x="97.15" y="186.16" width="13.55" height="1.80" fill="rgb(108, 19, 20)"/>
<rect x="110.10" y="186.16" width="13.55" height="1.80" fill="rgb(103, 19, 19)"/>
<rect x="123.05" y="186.16" width="13.55" height="1.80" fill="rgb(170, 27, 28)"/>
<rect x="136.00" y="186.16" width="13.55" height="1.80" fill="rgb(158, 25, 26)"/>
<rect x="148.95" y="186.16" width="12.95" height="1.80" fill="rgb(161, 26, 27)"/>
<rect x="84.20" y="187.36" width="13.55" height="1.80" fill="rgb(117, 20, 21)"/>
<rect x="97.15" y="187.36" width="13.55" height="1.80" fill="rgb(101, 18, 19)"/>
<rect x="110.10" y="187.36" width="13.55" height="1.80" fill="rgb(123, 21, 22)"/>
<rect x="123.05" y="187.36" width="13.55" height="1.80" fill="rgb(125, 21, 22)"/>
<rect x="136.00" y="187.36" width="13.55" height="1.80" fill="rgb(111, 20, 20)"/>
<rect x="148.95" y="187.36" width="12.95" height="1.80" fill="rgb(118, 20, 21)"/>
<rect x="84.20" y="188.55" width="13.55" height="1.80" fill="rgb(144, 23, 25)"/>
<rect x="97.15" y="188.55" width="13.55" height="1.80" fill="rgb(129, 22, 23)"/>
<rect x="110.10" y="188.55" width="13.55" height="1.80" fill="rgb(139, 23, 24)"/>
<rect x="123.05" y="188.55" width="13.55" height="1.80" fill="rgb(123, 21, 22)"/>
<rect x="136.00" y="188.55" width="13.55" height="1.80" fill="rgb(133, 22, 23)"/>
<rect x="148.95" y="188.55" width="12.95" height="1.80" fill="rgb(134, 22, 23)"/>
<rect x="84.20" y="189.75" width="13.55" height="1.80" fill="rgb(187, 29, 30)"/>
<rect x="97.15" y="189.75" width="13.55" height="1.80" fill="rgb(180, 28, 29)"/>
<rect x="110.10" y="189.75" width="13.55" height="1.80" fill="rgb(187, 29, 30)"/>
<rect x="123.05" y="189.75" width="13.55" height="1.80" fill="rgb(101, 18, 19)"/>
<rect x="136.00" y="189.75" width="13.55" height="1.80" fill="rgb(99, 18, 19)"/>
<rect x="148.95" y="189.75" width="12.95" height="1.80" fill="rgb(110, 19, 20)"/>
<rect x="84.20" y="190.94" width="13.55" height="1.80" fill="rgb(188, 29, 30)"/>
<rect x="97.15" y="190.94" width="13.55" height="1.80" fill="rgb(171, 27, 28)"/>
<rect x="110.10" y="190.94" width="13.55" height="1.80" fill="rgb(185, 28, 30)"/>
<rect x="123.05" y="190.94" width="13.55" height="1.80" fill="rgb(140, 23, 24)"/>
<rect x="136.00" y="190.94" width="13.55" height="1.80" fill="rgb(143, 23, 25)"/>
<rect x="148.95" y="190.94" width="12.95" height="1.80" fill="rgb(141, 23, 24)"/>
<rect x="84.20" y="192.14" width="13.55" height="1.80" fill="rgb(191, 29, 31)"/>
<rect x="97.15" y="192.14" width="13.55" height="1.80" fill="rgb(205, 31, 32)"/>
<rect x="110.10" y="192.14" width="13.55" height="1.80" fill="rgb(182, 28, 30)"/>
<rect x="123.05" y="192.14" width="13.55" height="1.80" fill="rgb(168, 26, 28)"/>
<rect x="136.00" y="192.14" width="13.55" height="1.80" fill="rgb(157, 25, 26)"/>
<rect x="148.95" y="192.14" width="12.95" height="1.80" fill="rgb(158, 25, 27)"/>
<rect x="84.20" y="193.33" width="13.55" height="1.80" fill="rgb(183, 28, 30)"/>
<rect x="97.15" y="193.33" width="13.55" height="1.80" fill="rgb(177, 27, 29)"/>
<rect x="110.10" y="193.33" width="13.55" height="1.80" fill="rgb(194, 29, 31)"/>
<rect x="123.05" y="193.33" width="13.55" height="1.80" fill="rgb(133, 22, 23)"/>
<rect x="136.00" y="193.33" width="13.55" height="1.80" fill="rgb(137, 23, 24)"/>
<rect x="148.95" y="193.33" width="12.95" height="1.80" fill="rgb(110, 20, 20)"/>
<rect x="84.20" y="194.53" width="13.55" height="1.80" fill="rgb(133, 22, 23)"/>
<rect x="97.15" y="194.53" width="13.55" height="1.80" fill="rgb(146, 24, 25)"/>
<rect x="110.10" y="194.53" width="13.55" height="1.80" fill="rgb(149, 24, 25)"/>
<rect x="123.05" y="194.53" width="13.55" height="1.80" fill="rgb(116, 20, 21)"/>
<rect x="136.00" y="194.53" width="13.55" height="1.80" fill="rgb(119, 21, 22)"/>
<rect x="148.95" y="194.53" width="12.95" height="1.80" fill="rgb(103, 19, 19)"/>
<rect x="84.20" y="195.72" width="13.55" height="1.80" fill="rgb(147, 24, 25)"/>
<rect x="97.15" y="195.72" width="13.55" height="1.80" fill="rgb(139, 23, 24)"/>
<rect x="110.10" y="195.72" width="13.55" height="1.80" fill="rgb(132, 22, 23)"/>
<rect x="123.05" y="195.72" width="13.55" height="1.80" fill="rgb(101, 18, 19)"/>
<rect x="136.00" y="195.72" width="13.55" height="1.80" fill="rgb(104, 19, 20)"/>
<rect x="148.95" y="195.72" width="12.95" height="1.80" fill="rgb(104, 19, 20)"/>
<rect x="84.20" y="196.92" width="13.55" height="1.80" fill="rgb(197, 30, 31)"/>
<rect x="97.15" y="196.92" width="13.55" height="1.80" fill="rgb(207, 31, 33)"/>
<rect x="110.10" y="196.92" width="13.55" height="1.80" fill="rgb(199, 30, 32)"/>
<rect x="123.05" y="196.92" width="13.55" height="1.80" fill="rgb(101, 18, 19)"/>
<rect x="136.00" y="196.92" width="13.55" height="1.80" fill="rgb(115, 20, 21)"/>
<rect x="148.95" y="196.92" width="12.95" height="1.80" fill="rgb(111, 20, 20)"/>
<rect x="84.20" y="198.11" width="13.55" height="1.80" fill="rgb(187, 29, 30)"/>
<rect x="97.15" y="198.11" width="13.55" height="1.80" fill="rgb(184, 28, 30)"/>
<rect x="110.10" y="198.11" width="13.55" height="1.80" fill="rgb(195, 30, 31)"/>
<rect x="123.05" y="198.11" width="13.55" height="1.80" fill="rgb(76, 15, 16)"/>
<rect x="136.00" y="198.11" width="13.55" height="1.80" fill="rgb(83, 16, 17)"/>
<rect x="148.95" y="198.11" width="12.95" height="1.80" fill="rgb(80, 16, 17)"/>
<rect x="84.20" y="199.31" width="13.55" height="1.80" fill="rgb(175, 27, 29)"/>
<rect x="97.15" y="199.31" width="13.55" height="1.80" fill="rgb(173, 27, 28)"/>
<rect x="110.10" y="199.31" width="13.55" height="1.80" fill="rgb(166, 26, 28)"/>
<rect x="123.05" y="199.31" width="13.55" height="1.80" fill="rgb(74, 15, 16)"/>
<rect x="136.00" y="199.31" width="13.55" height="1.80" fill="rgb(82, 16, 17)"/>
<rect x="148.95" y="199.31" width="12.95" height="1.80" fill="rgb(73, 15, 16)"/>
<rect x="84.20" y="200.50" width="13.55" height="1.80" fill="rgb(149, 24, 25)"/>
<rect x="97.15" y="200.50" width="13.55" height="1.80" fill="rgb(137, 23, 24)"/>
<rect x="110.10" y="200.50" width="13.55" height="1.80" fill="rgb(150, 24, 25)"/>
<rect x="123.05" y="200.50" width="13.55" height="1.80" fill="rgb(94, 18, 18)"/>
<rect x="136.00" y="200.50" width="13.55" height="1.80" fill="rgb(81, 16, 17)"/>
<rect x="148.95" y="200.50" width="12.95" height="1.80" fill="rgb(80, 16, 17)"/>
<rect x="84.20" y="201.70" width="13.55" height="1.80" fill="rgb(124, 21, 22)"/>
<rect x="97.15" y="201.70" width="13.55" height="1.80" fill="rgb(126, 21, 22)"/>
<rect x="110.10" y="201.70" width="13.55" height="1.80" fill="rgb(122, 21, 22)"/>
<rect x="123.05" y="201.70" width="13.55" height="1.80" fill="rgb(81, 16, 17)"/>
<rect x="136.00" y="201.70" width="13.55" height="1.80" fill="rgb(95, 18, 18)"/>
<rect x="148.95" y="201.70" width="12.95" height="1.80" fill="rgb(102, 19, 19)"/>
<rect x="84.20" y="202.89" width="13.55" height="1.80" fill="rgb(125, 21, 22)"/>
<rect x="97.15" y="202.89" width="13.55" height="1.80" fill="rgb(119, 21, 22)"/>
<rect x="110.10" y="202.89" width="13.55" height="1.80" fill="rgb(122, 21, 22)"/>
<rect x="123.05" y="202.89" width="13.55" height="1.80" fill="rgb(91, 17, 18)"/>
<rect x="136.00" y="202.89" width="13.55" height="1.80" fill="rgb(89, 17, 18)"/>
<rect x="148.95" y="202.89" width="12.95" height="1.80" fill="rgb(94, 18, 18)"/>
<rect x="84.20" y="204.09" width="13.55" height="1.80" fill="rgb(176, 27, 29)"/>
<rect x="97.15" y="204.09" width="13.55" height="1.80" fill="rgb(170, 27, 28)"/>
<rect x="110.10" y="204.09" width="13.55" height="1.80" fill="rgb(176, 27, 29)"/>
<rect x="123.05" y="204.09" width="13.55" height="1.80" fill="rgb(129, 22, 23)"/>
<rect x="136.00" y="204.09" width="13.55" height="1.80" fill="rgb(123, 21, 22)"/>
<rect x="148.95" y="204.09" width="12.95" height="1.80" fill="rgb(120, 21, 22)"/>
<rect x="84.20" y="205.28" width="13.55" height="1.80" fill="rgb(145, 24, 25)"/>
<rect x="97.15" y="205.28" width="13.55" height="1.80" fill="rgb(140, 23, 24)"/>
<rect x="110.10" y="205.28" width="13.55" height="1.80" fill="rgb(149, 24, 25)"/>
<rect x="123.05" y="205.28" width="13.55" height="1.80" fill="rgb(90, 17, 18)"/>
<rect x="136.00" y="205.28" width="13.55" height="1.80" fill="rgb(109, 19, 20)"/>
<rect x="148.95" y="205.28" width="12.95" height="1.80" fill="rgb(103, 19, 19)"/>
<rect x="84.20" y="206.48" width="13.55" height="1.80" fill="rgb(175, 27, 29)"/>
<rect x="97.15" y="206.48" width="13.55" height="1.80" fill="rgb(177, 27, 29)"/>
<rect x="110.10" y="206.48" width="13.55" height="1.80" fill="rgb(163, 26, 27)"/>
<rect x="123.05" y="206.48" width="13.55" height="1.80" fill="rgb(122, 21, 22)"/>
<rect x="136.00" y="206.48" width="13.55" height="1.80" fill="rgb(121, 21, 22)"/>
<rect x="148.95" y="206.48" width="12.95" height="1.80" fill="rgb(105, 19, 20)"/>
<rect x="84.20" y="207.67" width="13.55" height="1.80" fill="rgb(121, 21, 22)"/>
<rect x="97.15" y="207.67" width="13.55" height="1.80" fill="rgb(120, 21, 22)"/>
<rect x="110.10" y="207.67" width="13.55" height="1.80" fill="rgb(123, 21, 22)"/>
<rect x="123.05" y="207.67" width="13.55" height="1.80" fill="rgb(109, 19, 20)"/>
<rect x="136.00" y="207.67" width="13.55" height="1.80" fill="rgb(107, 19, 20)"/>
<rect x="148.95" y="207.67" width="12.95" height="1.80" fill="rgb(114, 20, 21)"/>
<rect x="84.20" y="208.87" width="13.55" height="1.80" fill="rgb(80, 16, 17)"/>
<rect x="97.15" y="208.87" width="13.55" height="1.80" fill="rgb(79, 16, 16)"/>
<rect x="110.10" y="208.87" width="13.55" height="1.80" fill="rgb(91, 17, 18)"/>
<rect x="123.05" y="208.87" width="13.55" height="1.80" fill="rgb(59, 13, 14)"/>
<rect x="136.00" y="208.87" width="13.55" height="1.80" fill="rgb(70, 15, 15)"/>
<rect x="148.95" y="208.87" width="12.95" height="1.80" fill="rgb(58, 13, 14)"/>
<rect x="84.20" y="210.06" width="13.55" height="1.80" fill="rgb(64, 14, 14)"/>
<rect x="97.15" y="210.06" width="13.55" height="1.80" fill="rgb(56, 13, 13)"/>
<rect x="110.10" y="210.06" width="13.55" height="1.80" fill="rgb(63, 14, 14)"/>
<rect x="123.05" y="210.06" width="13.55" height="1.80" fill="rgb(92, 17, 18)"/>
<rect x="136.00" y="210.06" width="13.55" height="1.80" fill="rgb(97, 18, 19)"/>
<rect x="148.95" y="210.06" width="12.95" height="1.80" fill="rgb(97, 18, 19)"/>
<rect x="84.20" y="211.26" width="13.55" height="1.80" fill="rgb(89, 17, 18)"/>
<rect x="97.15" y="211.26" width="13.55" height="1.80" fill="rgb(83, 16, 17)"/>
<rect x="110.10" y="211.26" width="13.55" height="1.80" fill="rgb(88, 17, 18)"/>
<rect x="123.05" y="211.26" width="13.55" height="1.80" fill="rgb(86, 17, 17)"/>
<rect x="136.00" y="211.26" width="13.55" height="1.80" fill="rgb(102, 18, 19)"/>
<rect x="148.95" y="211.26" width="12.95" height="1.80" fill="rgb(98, 18, 19)"/>
<rect x="84.20" y="212.45" width="13.55" height="1.80" fill="rgb(106, 19, 20)"/>
<rect x="97.15" y="212.45" width="13.55" height="1.80" fill="rgb(109, 19, 20)"/>
<rect x="110.10" y="212.45" width="13.55" height="1.80" fill="rgb(107, 19, 20)"/>
<rect x="123.05" y="212.45" width="13.55" height="1.80" fill="rgb(75, 15, 16)"/>
<rect x="136.00" y="212.45" width="13.55" height="1.80" fill="rgb(62, 14, 14)"/>
<rect x="148.95" y="212.45" width="12.95" height="1.80" fill="rgb(79, 16, 16)"/>
<rect x="84.20" y="213.65" width="13.55" height="1.80" fill="rgb(105, 19, 20)"/>
<rect x="97.15" y="213.65" width="13.55" height="1.80" fill="rgb(95, 18, 18)"/>
<rect x="110.10" y="213.65" width="13.55" height="1.80" fill="rgb(101, 18, 19)"/>
<rect x="123.05" y="213.65" width="13.55" height="1.80" fill="rgb(51, 12, 13)"/>
<rect x="136.00" y="213.65" width="13.55" height="1.80" fill="rgb(61, 14, 14)"/>
<rect x="148.95" y="213.65" width="12.95" height="1.80" fill="rgb(60, 14, 14)"/>
<rect x="84.20" y="214.84" width="13.55" height="1.80" fill="rgb(137, 23, 24)"/>
<rect x="97.15" y="214.84" width="13.55" height="1.80" fill="rgb(121, 21, 22)"/>
<rect x="110.10" y="214.84" width="13.55" height="1.80" fill="rgb(134, 22, 23)"/>
<rect x="123.05" y="214.84" width="13.55" height="1.80" fill="rgb(105, 19, 20)"/>
<rect x="136.00" y="214.84" width="13.55" height="1.80" fill="rgb(115, 20, 21)"/>
<rect x="148.95" y="214.84" width="12.95" height="1.80" fill="rgb(108, 19, 20)"/>
<rect x="84.20" y="216.04" width="13.55" height="1.80" fill="rgb(115, 20, 21)"/>
<rect x="97.15" y="216.04" width="13.55" height="1.80" fill="rgb(127, 22, 23)"/>
<rect x="110.10" y="216.04" width="13.55" height="1.80" fill="rgb(117, 20, 21)"/>
<rect x="123.05" y="216.04" width="13.55" height="1.80" fill="rgb(120, 21, 22)"/>
<rect x="136.00" y="216.04" width="13.55" height="1.80" fill="rgb(128, 22, 23)"/>
<rect x="148.95" y="216.04" width="12.95" height="1.80" fill="rgb(123, 21, 22)"/>
<rect x="84.20" y="217.23" width="13.55" height="1.80" fill="rgb(118, 20, 21)"/>
<rect x="97.15" y="217.23" width="13.55" height="1.80" fill="rgb(113, 20, 21)"/>
<rect x="110.10" y="217.23" width="13.55" height="1.80" fill="rgb(119, 21, 22)"/>
<rect x="123.05" y="217.23" width="13.55" height="1.80" fill="rgb(118, 20, 21)"/>
<rect x="136.00" y="217.23" width="13.55" height="1.80" fill="rgb(115, 20, 21)"/>
<rect x="148.95" y="217.23" width="12.95" height="1.80" fill="rgb(118, 20, 21)"/>
<rect x="84.20" y="218.43" width="13.55" height="1.80" fill="rgb(146, 24, 25)"/>
<rect x="97.15" y="218.43" width="13.55" height="1.80" fill="rgb(144, 24, 25)"/>
<rect x="110.10" y="218.43" width="13.55" height="1.80" fill="rgb(140, 23, 24)"/>
<rect x="123.05" y="218.43" width="13.55" height="1.80" fill="rgb(144, 24, 25)"/>
<rect x="136.00" y="218.43" width="13.55" height="1.80" fill="rgb(158, 25, 26)"/>
<rect x="148.95" y="218.43" width="12.95" height="1.80" fill="rgb(143, 23, 25)"/>
<rect x="84.20" y="219.62" width="13.55" height="1.80" fill="rgb(147, 24, 25)"/>
<rect x="97.15" y="219.62" width="13.55" height="1.80" fill="rgb(148, 24, 25)"/>
<rect x="110.10" y="219.62" width="13.55" height="1.80" fill="rgb(148, 24, 25)"/>
<rect x="123.05" y="219.62" width="13.55" height="1.80" fill="rgb(122, 21, 22)"/>
<rect x="136.00" y="219.62" width="13.55" height="1.80" fill="rgb(117, 20, 21)"/>
<rect x="148.95" y="219.62" width="12.95" height="1.80" fill="rgb(125, 21, 22)"/>
<rect x="84.20" y="220.82" width="13.55" height="1.80" fill="rgb(130, 22, 23)"/>
<rect x="97.15" y="220.82" width="13.55" height="1.80" fill="rgb(117, 20, 21)"/>
<rect x="110.10" y="220.82" width="13.55" height="1.80" fill="rgb(125, 21, 22)"/>
<rect x="123.05" y="220.82" width="13.55" height="1.80" fill="rgb(94, 18, 18)"/>
<rect x="136.00" y="220.82" width="13.55" height="1.80" fill="rgb(83, 16, 17)"/>
<rect x="148.95" y="220.82" width="12.95" height="1.80" fill="rgb(74, 15, 16)"/>
<rect x="84.20" y="222.01" width="13.55" height="1.80" fill="rgb(125, 21, 22)"/>
<rect x="97.15" y="222.01" width="13.55" height="1.80" fill="rgb(134, 22, 23)"/>
<rect x="110.10" y="222.01" width="13.55" height="1.80" fill="rgb(128, 22, 23)"/>
<rect x="123.05" y="222.01" width="13.55" height="1.80" fill="rgb(113, 20, 21)"/>
<rect x="136.00" y="222.01" width="13.55" height="1.80" fill="rgb(106, 19, 20)"/>
<rect x="148.95" y="222.01" width="12.95" height="1.80" fill="rgb(117, 20, 21)"/>
<rect x="84.20" y="223.21" width="13.55" height="1.80" fill="rgb(130, 22, 23)"/>
<rect x="97.15" y="223.21" width="13.55" height="1.80" fill="rgb(143, 23, 24)"/>
<rect x="110.10" y="223.21" width="13.55" height="1.80" fill="rgb(136, 23, 24)"/>
<rect x="123.05" y="223.21" width="13.55" height="1.80" fill="rgb(73, 15, 16)"/>
<rect x="136.00" y="223.21" width="13.55" height="1.80" fill="rgb(70, 15, 15)"/>
<rect x="148.95" y="223.21" width="12.95" height="1.80" fill="rgb(87, 17, 17)"/>
<rect x="84.20" y="224.40" width="13.55" height="1.20" fill="rgb(167, 26, 28)"/>
<rect x="97.15" y="224.40" width="13.55" height="1.20" fill="rgb(157, 25, 26)"/>
<rect x="110.10" y="224.40" width="13.55" height="1.20" fill="rgb(147, 24, 25)"/>
<rect x="123.05" y="224.40" width="13.55" height="1.20" fill="rgb(101, 18, 19)"/>
<rect x="136.00" y="224.40" width="13.55" height="1.20" fill="rgb(88, 17, 18)"/>
<rect x="148.95" y="224.40" width="12.95" height="1.20" fill="rgb(102, 19, 19)"/>
</g>
<g shape-rendering="crispEdges">
<rect x="168.90" y="152.70" width="13.43" height="1.80" fill="rgb(122, 26, 22)"/>
<rect x="181.73" y="152.70" width="13.43" height="1.80" fill="rgb(130, 28, 24)"/>
<rect x="194.57" y="152.70" width="13.43" height="1.80" fill="rgb(114, 24, 20)"/>
<rect x="207.40" y="152.70" width="13.43" height="1.80" fill="rgb(73, 21, 15)"/>
<rect x="220.23" y="152.70" width="13.43" height="1.80" fill="rgb(70, 21, 15)"/>
<rect x="233.07" y="152.70" width="12.83" height="1.80" fill="rgb(70, 21, 15)"/>
<rect x="168.90" y="153.90" width="13.43" height="1.80" fill="rgb(122, 26, 22)"/>
<rect x="181.73" y="153.90" width="13.43" height="1.80" fill="rgb(106, 23, 19)"/>
<rect x="194.57" y="153.90" width="13.43" height="1.80" fill="rgb(118, 25, 21)"/>
<rect x="207.40" y="153.90" width="13.43" height="1.80" fill="rgb(75, 25, 17)"/>
<rect x="220.23" y="153.90" width="13.43" height="1.80" fill="rgb(75, 24, 17)"/>
<rect x="233.07" y="153.90" width="12.83" height="1.80" fill="rgb(86, 23, 17)"/>
<rect x="168.90" y="155.09" width="13.43" height="1.80" fill="rgb(82, 21, 16)"/>
<rect x="181.73" y="155.09" width="13.43" height="1.80" fill="rgb(80, 21, 16)"/>
<rect x="194.57" y="155.09" width="13.43" height="1.80" fill="rgb(84, 21, 17)"/>
<rect x="207.40" y="155.09" width="13.43" height="1.80" fill="rgb(75, 23, 16)"/>
<rect x="220.23" y="155.09" width="13.43" height="1.80" fill="rgb(76, 22, 16)"/>
<rect x="233.07" y="155.09" width="12.83" height="1.80" fill="rgb(92, 25, 19)"/>
<rect x="168.90" y="156.29" width="13.43" height="1.80" fill="rgb(79, 21, 16)"/>
<rect x="181.73" y="156.29" width="13.43" height="1.80" fill="rgb(63, 20, 14)"/>
<rect x="194.57" y="156.29" width="13.43" height="1.80" fill="rgb(65, 20, 15)"/>
<rect x="207.40" y="156.29" width="13.43" height="1.80" fill="rgb(75, 35, 20)"/>
<rect x="220.23" y="156.29" width="13.43" height="1.80" fill="rgb(75, 38, 22)"/>
<rect x="233.07" y="156.29" width="12.83" height="1.80" fill="rgb(75, 37, 21)"/>
<rect x="168.90" y="157.48" width="13.43" height="1.80" fill="rgb(104, 23, 19)"/>
<rect x="181.73" y="157.48" width="13.43" height="1.80" fill="rgb(104, 23, 19)"/>
<rect x="194.57" y="157.48" width="13.43" height="1.80" fill="rgb(112, 24, 20)"/>
<rect x="207.40" y="157.48" width="13.43" height="1.80" fill="rgb(75, 25, 17)"/>
<rect x="220.23" y="157.48" width="13.43" height="1.80" fill="rgb(77, 22, 16)"/>
<rect x="233.07" y="157.48" width="12.83" height="1.80" fill="rgb(82, 23, 17)"/>
<rect x="168.90" y="158.68" width="13.43" height="1.80" fill="rgb(94, 22, 18)"/>
<rect x="181.73" y="158.68" width="13.43" height="1.80" fill="rgb(107, 23, 19)"/>
<rect x="194.57" y="158.68" width="13.43" height="1.80" fill="rgb(97, 22, 18)"/>
<rect x="207.40" y="158.68" width="13.43" height="1.80" fill="rgb(94, 25, 19)"/>
<rect x="220.23" y="158.68" width="13.43" height="1.80" fill="rgb(87, 23, 18)"/>
<rect x="233.07" y="158.68" width="12.83" height="1.80" fill="rgb(81, 22, 16)"/>
<rect x="168.90" y="159.87" width="13.43" height="1.80" fill="rgb(112, 24, 20)"/>
<rect x="181.73" y="159.87" width="13.43" height="1.80" fill="rgb(125, 27, 22)"/>
<rect x="194.57" y="159.87" width="13.43" height="1.80" fill="rgb(128, 27, 23)"/>
<rect x="207.40" y="159.87" width="13.43" height="1.80" fill="rgb(116, 29, 23)"/>
<rect x="220.23" y="159.87" width="13.43" height="1.80" fill="rgb(106, 27, 21)"/>
<rect x="233.07" y="159.87" width="12.83" height="1.80" fill="rgb(121, 30, 24)"/>
<rect x="168.90" y="161.07" width="13.43" height="1.80" fill="rgb(96, 22, 18)"/>
<rect x="181.73" y="161.07" width="13.43" height="1.80" fill="rgb(84, 21, 17)"/>
<rect x="194.57" y="161.07" width="13.43" height="1.80" fill="rgb(75, 21, 16)"/>
<rect x="207.40" y="161.07" width="13.43" height="1.80" fill="rgb(52, 19, 13)"/>
<rect x="220.23" y="161.07" width="13.43" height="1.80" fill="rgb(44, 18, 12)"/>
<rect x="233.07" y="161.07" width="12.83" height="1.80" fill="rgb(45, 18, 12)"/>
<rect x="168.90" y="162.26" width="13.43" height="1.80" fill="rgb(104, 23, 19)"/>
<rect x="181.73" y="162.26" width="13.43" height="1.80" fill="rgb(102, 23, 19)"/>
<rect x="194.57" y="162.26" width="13.43" height="1.80" fill="rgb(103, 23, 19)"/>
<rect x="207.40" y="162.26" width="13.43" height="1.80" fill="rgb(75, 49, 26)"/>
<rect x="220.23" y="162.26" width="13.43" height="1.80" fill="rgb(75, 50, 26)"/>
<rect x="233.07" y="162.26" width="12.83" height="1.80" fill="rgb(75, 50, 26)"/>
<rect x="168.90" y="163.46" width="13.43" height="1.80" fill="rgb(90, 22, 17)"/>
<rect x="181.73" y="163.46" width="13.43" height="1.80" fill="rgb(91, 22, 17)"/>
<rect x="194.57" y="163.46" width="13.43" height="1.80" fill="rgb(93, 22, 18)"/>
<rect x="207.40" y="163.46" width="13.43" height="1.80" fill="rgb(58, 20, 14)"/>
<rect x="220.23" y="163.46" width="13.43" height="1.80" fill="rgb(57, 20, 14)"/>
<rect x="233.07" y="163.46" width="12.83" height="1.80" fill="rgb(56, 20, 14)"/>
<rect x="168.90" y="164.65" width="13.43" height="1.80" fill="rgb(149, 32, 27)"/>
<rect x="181.73" y="164.65" width="13.43" height="1.80" fill="rgb(126, 27, 23)"/>
<rect x="194.57" y="164.65" width="13.43" height="1.80" fill="rgb(118, 25, 21)"/>
<rect x="207.40" y="164.65" width="13.43" height="1.80" fill="rgb(88, 24, 18)"/>
<rect x="220.23" y="164.65" width="13.43" height="1.80" fill="rgb(76, 22, 16)"/>
<rect x="233.07" y="164.65" width="12.83" height="1.80" fill="rgb(78, 22, 16)"/>
<rect x="168.90" y="165.85" width="13.43" height="1.80" fill="rgb(161, 35, 30)"/>
<rect x="181.73" y="165.85" width="13.43" height="1.80" fill="rgb(150, 32, 28)"/>
<rect x="194.57" y="165.85" width="13.43" height="1.80" fill="rgb(162, 35, 30)"/>
<rect x="207.40" y="165.85" width="13.43" height="1.80" fill="rgb(113, 28, 22)"/>
<rect x="220.23" y="165.85" width="13.43" height="1.80" fill="rgb(112, 28, 22)"/>
<rect x="233.07" y="165.85" width="12.83" height="1.80" fill="rgb(118, 29, 23)"/>
<rect x="168.90" y="167.04" width="13.43" height="1.80" fill="rgb(177, 38, 34)"/>
<rect x="181.73" y="167.04" width="13.43" height="1.80" fill="rgb(182, 39, 35)"/>
<rect x="194.57" y="167.04" width="13.43" height="1.80" fill="rgb(175, 38, 33)"/>
<rect x="207.40" y="167.04" width="13.43" height="1.80" fill="rgb(118, 29, 23)"/>
<rect x="220.23" y="167.04" width="13.43" height="1.80" fill="rgb(99, 26, 20)"/>
<rect x="233.07" y="167.04" width="12.83" height="1.80" fill="rgb(111, 28, 22)"/>
<rect x="168.90" y="168.24" width="13.43" height="1.80" fill="rgb(120, 26, 21)"/>
<rect x="181.73" y="168.24" width="13.43" height="1.80" fill="rgb(101, 23, 18)"/>
<rect x="194.57" y="168.24" width="13.43" height="1.80" fill="rgb(104, 23, 19)"/>
<rect x="207.40" y="168.24" width="13.43" height="1.80" fill="rgb(75, 29, 18)"/>
<rect x="220.23" y="168.24" width="13.43" height="1.80" fill="rgb(75, 33, 20)"/>
<rect x="233.07" y="168.24" width="12.83" height="1.80" fill="rgb(75, 40, 23)"/>
<rect x="168.90" y="169.43" width="13.43" height="1.80" fill="rgb(97, 22, 18)"/>
<rect x="181.73" y="169.43" width="13.43" height="1.80" fill="rgb(106, 23, 19)"/>
<rect x="194.57" y="169.43" width="13.43" height="1.80" fill="rgb(103, 23, 19)"/>
<rect x="207.40" y="169.43" width="13.43" height="1.80" fill="rgb(78, 22, 16)"/>
<rect x="220.23" y="169.43" width="13.43" height="1.80" fill="rgb(75, 33, 20)"/>
<rect x="233.07" y="169.43" width="12.83" height="1.80" fill="rgb(75, 31, 19)"/>
<rect x="168.90" y="170.63" width="13.43" height="1.80" fill="rgb(111, 23, 19)"/>
<rect x="181.73" y="170.63" width="13.43" height="1.80" fill="rgb(109, 23, 19)"/>
<rect x="194.57" y="170.63" width="13.43" height="1.80" fill="rgb(103, 23, 19)"/>
<rect x="207.40" y="170.63" width="13.43" height="1.80" fill="rgb(75, 38, 22)"/>
<rect x="220.23" y="170.63" width="13.43" height="1.80" fill="rgb(75, 34, 20)"/>
<rect x="233.07" y="170.63" width="12.83" height="1.80" fill="rgb(75, 43, 24)"/>
<rect x="168.90" y="171.82" width="13.43" height="1.80" fill="rgb(111, 23, 19)"/>
<rect x="181.73" y="171.82" width="13.43" height="1.80" fill="rgb(115, 24, 20)"/>
<rect x="194.57" y="171.82" width="13.43" height="1.80" fill="rgb(102, 23, 19)"/>
<rect x="207.40" y="171.82" width="13.43" height="1.80" fill="rgb(74, 21, 15)"/>
<rect x="220.23" y="171.82" width="13.43" height="1.80" fill="rgb(69, 21, 15)"/>
<rect x="233.07" y="171.82" width="12.83" height="1.80" fill="rgb(73, 21, 15)"/>
<rect x="168.90" y="173.02" width="13.43" height="1.80" fill="rgb(91, 22, 17)"/>
<rect x="181.73" y="173.02" width="13.43" height="1.80" fill="rgb(99, 23, 18)"/>
<rect x="194.57" y="173.02" width="13.43" height="1.80" fill="rgb(99, 23, 18)"/>
<rect x="207.40" y="173.02" width="13.43" height="1.80" fill="rgb(75, 38, 22)"/>
<rect x="220.23" y="173.02" width="13.43" height="1.80" fill="rgb(75, 43, 24)"/>
<rect x="233.07" y="173.02" width="12.83" height="1.80" fill="rgb(75, 41, 23)"/>
<rect x="168.90" y="174.21" width="13.43" height="1.80" fill="rgb(110, 23, 19)"/>
<rect x="181.73" y="174.21" width="13.43" height="1.80" fill="rgb(117, 25, 21)"/>
<rect x="194.57" y="174.21" width="13.43" height="1.80" fill="rgb(106, 23, 19)"/>
<rect x="207.40" y="174.21" width="13.43" height="1.80" fill="rgb(95, 25, 19)"/>
<rect x="220.23" y="174.21" width="13.43" height="1.80" fill="rgb(90, 24, 18)"/>
<rect x="233.07" y="174.21" width="12.83" height="1.80" fill="rgb(85, 23, 17)"/>
<rect x="168.90" y="175.41" width="13.43" height="1.80" fill="rgb(108, 23, 19)"/>
<rect x="181.73" y="175.41" width="13.43" height="1.80" fill="rgb(105, 23, 19)"/>
<rect x="194.57" y="175.41" width="13.43" height="1.80" fill="rgb(111, 23, 19)"/>
<rect x="207.40" y="175.41" width="13.43" height="1.80" fill="rgb(73, 21, 15)"/>
<rect x="220.23" y="175.41" width="13.43" height="1.80" fill="rgb(73, 21, 15)"/>
<rect x="233.07" y="175.41" width="12.83" height="1.80" fill="rgb(68, 21, 15)"/>
<rect x="168.90" y="176.60" width="13.43" height="1.80" fill="rgb(85, 21, 17)"/>
<rect x="181.73" y="176.60" width="13.43" height="1.80" fill="rgb(84, 21, 17)"/>
<rect x="194.57" y="176.60" width="13.43" height="1.80" fill="rgb(97, 22, 18)"/>
<rect x="207.40" y="176.60" width="13.43" height="1.80" fill="rgb(51, 19, 13)"/>
<rect x="220.23" y="176.60" width="13.43" height="1.80" fill="rgb(58, 20, 14)"/>
<rect x="233.07" y="176.60" width="12.83" height="1.80" fill="rgb(59, 20, 14)"/>
<rect x="168.90" y="177.80" width="13.43" height="1.80" fill="rgb(123, 26, 22)"/>
<rect x="181.73" y="177.80" width="13.43" height="1.80" fill="rgb(133, 28, 24)"/>
<rect x="194.57" y="177.80" width="13.43" height="1.80" fill="rgb(137, 29, 25)"/>
<rect x="207.40" y="177.80" width="13.43" height="1.80" fill="rgb(103, 26, 21)"/>
<rect x="220.23" y="177.80" width="13.43" height="1.80" fill="rgb(100, 26, 20)"/>
<rect x="233.07" y="177.80" width="12.83" height="1.80" fill="rgb(115, 29, 23)"/>
<rect x="168.90" y="178.99" width="13.43" height="1.80" fill="rgb(98, 22, 18)"/>
<rect x="181.73" y="178.99" width="13.43" height="1.80" fill="rgb(92, 22, 17)"/>
<rect x="194.57" y="178.99" width="13.43" height="1.80" fill="rgb(105, 23, 19)"/>
<rect x="207.40" y="178.99" width="13.43" height="1.80" fill="rgb(75, 33, 20)"/>
<rect x="220.23" y="178.99" width="13.43" height="1.80" fill="rgb(75, 39, 22)"/>
<rect x="233.07" y="178.99" width="12.83" height="1.80" fill="rgb(75, 42, 23)"/>
<rect x="168.90" y="180.19" width="13.43" height="1.80" fill="rgb(68, 20, 15)"/>
<rect x="181.73" y="180.19" width="13.43" height="1.80" fill="rgb(82, 21, 16)"/>
<rect x="194.57" y="180.19" width="13.43" height="1.80" fill="rgb(73, 21, 16)"/>
<rect x="207.40" y="180.19" width="13.43" height="1.80" fill="rgb(75, 32, 20)"/>
<rect x="220.23" y="180.19" width="13.43" height="1.80" fill="rgb(75, 29, 18)"/>
<rect x="233.07" y="180.19" width="12.83" height="1.80" fill="rgb(75, 26, 17)"/>
<rect x="168.90" y="181.38" width="13.43" height="1.80" fill="rgb(76, 21, 16)"/>
<rect x="181.73" y="181.38" width="13.43" height="1.80" fill="rgb(80, 21, 16)"/>
<rect x="194.57" y="181.38" width="13.43" height="1.80" fill="rgb(75, 21, 16)"/>
<rect x="207.40" y="181.38" width="13.43" height="1.80" fill="rgb(76, 22, 16)"/>
<rect x="220.23" y="181.38" width="13.43" height="1.80" fill="rgb(72, 21, 15)"/>
<rect x="233.07" y="181.38" width="12.83" height="1.80" fill="rgb(71, 21, 15)"/>
<rect x="168.90" y="182.58" width="13.43" height="1.80" fill="rgb(84, 21, 17)"/>
<rect x="181.73" y="182.58" width="13.43" height="1.80" fill="rgb(88, 22, 17)"/>
<rect x="194.57" y="182.58" width="13.43" height="1.80" fill="rgb(79, 21, 16)"/>
<rect x="207.40" y="182.58" width="13.43" height="1.80" fill="rgb(75, 28, 18)"/>
<rect x="220.23" y="182.58" width="13.43" height="1.80" fill="rgb(75, 31, 19)"/>
<rect x="233.07" y="182.58" width="12.83" height="1.80" fill="rgb(75, 31, 19)"/>
<rect x="168.90" y="183.77" width="13.43" height="1.80" fill="rgb(108, 23, 19)"/>
<rect x="181.73" y="183.77" width="13.43" height="1.80" fill="rgb(111, 23, 19)"/>
<rect x="194.57" y="183.77" width="13.43" height="1.80" fill="rgb(114, 24, 20)"/>
<rect x="207.40" y="183.77" width="13.43" height="1.80" fill="rgb(109, 27, 22)"/>
<rect x="220.23" y="183.77" width="13.43" height="1.80" fill="rgb(119, 29, 24)"/>
<rect x="233.07" y="183.77" width="12.83" height="1.80" fill="rgb(130, 31, 26)"/>
<rect x="168.90" y="184.97" width="13.43" height="1.80" fill="rgb(75, 21, 16)"/>
<rect x="181.73" y="184.97" width="13.43" height="1.80" fill="rgb(75, 21, 16)"/>
<rect x="194.57" y="184.97" width="13.43" height="1.80" fill="rgb(78, 21, 16)"/>
<rect x="207.40" y="184.97" width="13.43" height="1.80" fill="rgb(75, 24, 16)"/>
<rect x="220.23" y="184.97" width="13.43" height="1.80" fill="rgb(75, 37, 22)"/>
<rect x="233.07" y="184.97" width="12.83" height="1.80" fill="rgb(75, 29, 19)"/>
<rect x="168.90" y="186.16" width="13.43" height="1.80" fill="rgb(109, 23, 19)"/>
<rect x="181.73" y="186.16" width="13.43" height="1.80" fill="rgb(118, 25, 21)"/>
<rect x="194.57" y="186.16" width="13.43" height="1.80" fill="rgb(105, 23, 19)"/>
<rect x="207.40" y="186.16" width="13.43" height="1.80" fill="rgb(86, 23, 17)"/>
<rect x="220.23" y="186.16" width="13.43" height="1.80" fill="rgb(99, 26, 20)"/>
<rect x="233.07" y="186.16" width="12.83" height="1.80" fill="rgb(97, 25, 19)"/>
<rect x="168.90" y="187.36" width="13.43" height="1.80" fill="rgb(90, 22, 17)"/>
<rect x="181.73" y="187.36" width="13.43" height="1.80" fill="rgb(85, 21, 17)"/>
<rect x="194.57" y="187.36" width="13.43" height="1.80" fill="rgb(84, 21, 17)"/>
<rect x="207.40" y="187.36" width="13.43" height="1.80" fill="rgb(84, 23, 17)"/>
<rect x="220.23" y="187.36" width="13.43" height="1.80" fill="rgb(71, 21, 15)"/>
<rect x="233.07" y="187.36" width="12.83" height="1.80" fill="rgb(71, 21, 15)"/>
<rect x="168.90" y="188.55" width="13.43" height="1.80" fill="rgb(167, 36, 31)"/>
<rect x="181.73" y="188.55" width="13.43" height="1.80" fill="rgb(172, 37, 33)"/>
<rect x="194.57" y="188.55" width="13.43" height="1.80" fill="rgb(171, 37, 32)"/>
<rect x="207.40" y="188.55" width="13.43" height="1.80" fill="rgb(197, 43, 38)"/>
<rect x="220.23" y="188.55" width="13.43" height="1.80" fill="rgb(205, 45, 40)"/>
<rect x="233.07" y="188.55" width="12.83" height="1.80" fill="rgb(205, 45, 40)"/>
<rect x="168.90" y="189.75" width="13.43" height="1.80" fill="rgb(134, 29, 24)"/>
<rect x="181.73" y="189.75" width="13.43" height="1.80" fill="rgb(138, 29, 25)"/>
<rect x="194.57" y="189.75" width="13.43" height="1.80" fill="rgb(124, 26, 22)"/>
<rect x="207.40" y="189.75" width="13.43" height="1.80" fill="rgb(114, 28, 23)"/>
<rect x="220.23" y="189.75" width="13.43" height="1.80" fill="rgb(132, 32, 26)"/>
<rect x="233.07" y="189.75" width="12.83" height="1.80" fill="rgb(123, 30, 24)"/>
<rect x="168.90" y="190.94" width="13.43" height="1.80" fill="rgb(109, 23, 19)"/>
<rect x="181.73" y="190.94" width="13.43" height="1.80" fill="rgb(127, 27, 23)"/>
<rect x="194.57" y="190.94" width="13.43" height="1.80" fill="rgb(115, 24, 20)"/>
<rect x="207.40" y="190.94" width="13.43" height="1.80" fill="rgb(88, 24, 18)"/>
<rect x="220.23" y="190.94" width="13.43" height="1.80" fill="rgb(112, 28, 22)"/>
<rect x="233.07" y="190.94" width="12.83" height="1.80" fill="rgb(88, 24, 18)"/>
<rect x="168.90" y="192.14" width="13.43" height="1.80" fill="rgb(57, 19, 14)"/>
<rect x="181.73" y="192.14" width="13.43" height="1.80" fill="rgb(61, 20, 14)"/>
<rect x="194.57" y="192.14" width="13.43" height="1.80" fill="rgb(63, 20, 14)"/>
<rect x="207.40" y="192.14" width="13.43" height="1.80" fill="rgb(75, 63, 31)"/>
<rect x="220.23" y="192.14" width="13.43" height="1.80" fill="rgb(75, 60, 30)"/>
<rect x="233.07" y="192.14" width="12.83" height="1.80" fill="rgb(75, 57, 29)"/>
<rect x="168.90" y="193.33" width="13.43" height="1.80" fill="rgb(85, 21, 17)"/>
<rect x="181.73" y="193.33" width="13.43" height="1.80" fill="rgb(77, 21, 16)"/>
<rect x="194.57" y="193.33" width="13.43" height="1.80" fill="rgb(89, 22, 17)"/>
<rect x="207.40" y="193.33" width="13.43" height="1.80" fill="rgb(73, 21, 15)"/>
<rect x="220.23" y="193.33" width="13.43" height="1.80" fill="rgb(69, 21, 15)"/>
<rect x="233.07" y="193.33" width="12.83" height="1.80" fill="rgb(69, 21, 15)"/>
<rect x="168.90" y="194.53" width="13.43" height="1.80" fill="rgb(141, 30, 26)"/>
<rect x="181.73" y="194.53" width="13.43" height="1.80" fill="rgb(142, 30, 26)"/>
<rect x="194.57" y="194.53" width="13.43" height="1.80" fill="rgb(146, 31, 27)"/>
<rect x="207.40" y="194.53" width="13.43" height="1.80" fill="rgb(81, 23, 17)"/>
<rect x="220.23" y="194.53" width="13.43" height="1.80" fill="rgb(97, 25, 19)"/>
<rect x="233.07" y="194.53" width="12.83" height="1.80" fill="rgb(107, 27, 21)"/>
<rect x="168.90" y="195.72" width="13.43" height="1.80" fill="rgb(110, 23, 19)"/>
<rect x="181.73" y="195.72" width="13.43" height="1.80" fill="rgb(112, 24, 20)"/>
<rect x="194.57" y="195.72" width="13.43" height="1.80" fill="rgb(94, 22, 18)"/>
<rect x="207.40" y="195.72" width="13.43" height="1.80" fill="rgb(75, 35, 21)"/>
<rect x="220.23" y="195.72" width="13.43" height="1.80" fill="rgb(75, 24, 16)"/>
<rect x="233.07" y="195.72" width="12.83" height="1.80" fill="rgb(75, 27, 17)"/>
<rect x="168.90" y="196.92" width="13.43" height="1.80" fill="rgb(93, 22, 18)"/>
<rect x="181.73" y="196.92" width="13.43" height="1.80" fill="rgb(91, 22, 17)"/>
<rect x="194.57" y="196.92" width="13.43" height="1.80" fill="rgb(99, 23, 18)"/>
<rect x="207.40" y="196.92" width="13.43" height="1.80" fill="rgb(68, 21, 15)"/>
<rect x="220.23" y="196.92" width="13.43" height="1.80" fill="rgb(67, 21, 15)"/>
<rect x="233.07" y="196.92" width="12.83" height="1.80" fill="rgb(67, 21, 15)"/>
<rect x="168.90" y="198.11" width="13.43" height="1.80" fill="rgb(120, 25, 21)"/>
<rect x="181.73" y="198.11" width="13.43" height="1.80" fill="rgb(113, 24, 20)"/>
<rect x="194.57" y="198.11" width="13.43" height="1.80" fill="rgb(97, 22, 18)"/>
<rect x="207.40" y="198.11" width="13.43" height="1.80" fill="rgb(90, 24, 18)"/>
<rect x="220.23" y="198.11" width="13.43" height="1.80" fill="rgb(71, 21, 15)"/>
<rect x="233.07" y="198.11" width="12.83" height="1.80" fill="rgb(73, 21, 15)"/>
<rect x="168.90" y="199.31" width="13.43" height="1.80" fill="rgb(81, 21, 16)"/>
<rect x="181.73" y="199.31" width="13.43" height="1.80" fill="rgb(78, 21, 16)"/>
<rect x="194.57" y="199.31" width="13.43" height="1.80" fill="rgb(66, 20, 15)"/>
<rect x="207.40" y="199.31" width="13.43" height="1.80" fill="rgb(58, 20, 14)"/>
<rect x="220.23" y="199.31" width="13.43" height="1.80" fill="rgb(56, 20, 14)"/>
<rect x="233.07" y="199.31" width="12.83" height="1.80" fill="rgb(57, 20, 14)"/>
<rect x="168.90" y="200.50" width="13.43" height="1.80" fill="rgb(85, 21, 17)"/>
<rect x="181.73" y="200.50" width="13.43" height="1.80" fill="rgb(107, 23, 19)"/>
<rect x="194.57" y="200.50" width="13.43" height="1.80" fill="rgb(95, 22, 18)"/>
<rect x="207.40" y="200.50" width="13.43" height="1.80" fill="rgb(70, 21, 15)"/>
<rect x="220.23" y="200.50" width="13.43" height="1.80" fill="rgb(70, 21, 15)"/>
<rect x="233.07" y="200.50" width="12.83" height="1.80" fill="rgb(72, 21, 15)"/>
<rect x="168.90" y="201.70" width="13.43" height="1.80" fill="rgb(78, 21, 16)"/>
<rect x="181.73" y="201.70" width="13.43" height="1.80" fill="rgb(82, 21, 16)"/>
<rect x="194.57" y="201.70" width="13.43" height="1.80" fill="rgb(74, 21, 16)"/>
<rect x="207.40" y="201.70" width="13.43" height="1.80" fill="rgb(65, 21, 15)"/>
<rect x="220.23" y="201.70" width="13.43" height="1.80" fill="rgb(61, 20, 14)"/>
<rect x="233.07" y="201.70" width="12.83" height="1.80" fill="rgb(55, 20, 14)"/>
<rect x="168.90" y="202.89" width="13.43" height="1.80" fill="rgb(101, 23, 18)"/>
<rect x="181.73" y="202.89" width="13.43" height="1.80" fill="rgb(102, 23, 19)"/>
<rect x="194.57" y="202.89" width="13.43" height="1.80" fill="rgb(91, 22, 17)"/>
<rect x="207.40" y="202.89" width="13.43" height="1.80" fill="rgb(75, 41, 23)"/>
<rect x="220.23" y="202.89" width="13.43" height="1.80" fill="rgb(75, 33, 20)"/>
<rect x="233.07" y="202.89" width="12.83" height="1.80" fill="rgb(75, 37, 22)"/>
<rect x="168.90" y="204.09" width="13.43" height="1.80" fill="rgb(77, 21, 16)"/>
<rect x="181.73" y="204.09" width="13.43" height="1.80" fill="rgb(71, 20, 15)"/>
<rect x="194.57" y="204.09" width="13.43" height="1.80" fill="rgb(73, 21, 16)"/>
<rect x="207.40" y="204.09" width="13.43" height="1.80" fill="rgb(75, 53, 27)"/>
<rect x="220.23" y="204.09" width="13.43" height="1.80" fill="rgb(75, 54, 28)"/>
<rect x="233.07" y="204.09" width="12.83" height="1.80" fill="rgb(75, 55, 28)"/>
<rect x="168.90" y="205.28" width="13.43" height="1.80" fill="rgb(103, 23, 19)"/>
<rect x="181.73" y="205.28" width="13.43" height="1.80" fill="rgb(94, 22, 18)"/>
<rect x="194.57" y="205.28" width="13.43" height="1.80" fill="rgb(109, 23, 19)"/>
<rect x="207.40" y="205.28" width="13.43" height="1.80" fill="rgb(62, 20, 14)"/>
<rect x="220.23" y="205.28" width="13.43" height="1.80" fill="rgb(63, 20, 14)"/>
<rect x="233.07" y="205.28" width="12.83" height="1.80" fill="rgb(66, 21, 15)"/>
<rect x="168.90" y="206.48" width="13.43" height="1.80" fill="rgb(131, 28, 24)"/>
<rect x="181.73" y="206.48" width="13.43" height="1.80" fill="rgb(126, 27, 23)"/>
<rect x="194.57" y="206.48" width="13.43" height="1.80" fill="rgb(135, 29, 24)"/>
<rect x="207.40" y="206.48" width="13.43" height="1.80" fill="rgb(100, 26, 20)"/>
<rect x="220.23" y="206.48" width="13.43" height="1.80" fill="rgb(94, 25, 19)"/>
<rect x="233.07" y="206.48" width="12.83" height="1.80" fill="rgb(108, 27, 22)"/>
<rect x="168.90" y="207.67" width="13.43" height="1.80" fill="rgb(152, 33, 28)"/>
<rect x="181.73" y="207.67" width="13.43" height="1.80" fill="rgb(136, 29, 25)"/>
<rect x="194.57" y="207.67" width="13.43" height="1.80" fill="rgb(147, 32, 27)"/>
<rect x="207.40" y="207.67" width="13.43" height="1.80" fill="rgb(98, 25, 20)"/>
<rect x="220.23" y="207.67" width="13.43" height="1.80" fill="rgb(91, 24, 18)"/>
<rect x="233.07" y="207.67" width="12.83" height="1.80" fill="rgb(124, 30, 25)"/>
<rect x="168.90" y="208.87" width="13.43" height="1.80" fill="rgb(159, 34, 30)"/>
<rect x="181.73" y="208.87" width="13.43" height="1.80" fill="rgb(161, 35, 30)"/>
<rect x="194.57" y="208.87" width="13.43" height="1.80" fill="rgb(162, 35, 30)"/>
<rect x="207.40" y="208.87" width="13.43" height="1.80" fill="rgb(154, 35, 30)"/>
<rect x="220.23" y="208.87" width="13.43" height="1.80" fill="rgb(139, 33, 27)"/>
<rect x="233.07" y="208.87" width="12.83" height="1.80" fill="rgb(176, 39, 34)"/>
<rect x="168.90" y="210.06" width="13.43" height="1.80" fill="rgb(112, 24, 20)"/>
<rect x="181.73" y="210.06" width="13.43" height="1.80" fill="rgb(122, 26, 22)"/>
<rect x="194.57" y="210.06" width="13.43" height="1.80" fill="rgb(109, 23, 19)"/>
<rect x="207.40" y="210.06" width="13.43" height="1.80" fill="rgb(115, 28, 23)"/>
<rect x="220.23" y="210.06" width="13.43" height="1.80" fill="rgb(111, 28, 22)"/>
<rect x="233.07" y="210.06" width="12.83" height="1.80" fill="rgb(123, 30, 24)"/>
<rect x="168.90" y="211.26" width="13.43" height="1.80" fill="rgb(88, 22, 17)"/>
<rect x="181.73" y="211.26" width="13.43" height="1.80" fill="rgb(88, 22, 17)"/>
<rect x="194.57" y="211.26" width="13.43" height="1.80" fill="rgb(77, 21, 16)"/>
<rect x="207.40" y="211.26" width="13.43" height="1.80" fill="rgb(61, 20, 14)"/>
<rect x="220.23" y="211.26" width="13.43" height="1.80" fill="rgb(59, 20, 14)"/>
<rect x="233.07" y="211.26" width="12.83" height="1.80" fill="rgb(66, 21, 15)"/>
<rect x="168.90" y="212.45" width="13.43" height="1.80" fill="rgb(93, 22, 18)"/>
<rect x="181.73" y="212.45" width="13.43" height="1.80" fill="rgb(89, 22, 17)"/>
<rect x="194.57" y="212.45" width="13.43" height="1.80" fill="rgb(90, 22, 17)"/>
<rect x="207.40" y="212.45" width="13.43" height="1.80" fill="rgb(84, 23, 17)"/>
<rect x="220.23" y="212.45" width="13.43" height="1.80" fill="rgb(84, 23, 17)"/>
<rect x="233.07" y="212.45" width="12.83" height="1.80" fill="rgb(80, 22, 16)"/>
<rect x="168.90" y="213.65" width="13.43" height="1.80" fill="rgb(132, 28, 24)"/>
<rect x="181.73" y="213.65" width="13.43" height="1.80" fill="rgb(133, 28, 24)"/>
<rect x="194.57" y="213.65" width="13.43" height="1.80" fill="rgb(136, 29, 25)"/>
<rect x="207.40" y="213.65" width="13.43" height="1.80" fill="rgb(129, 31, 26)"/>
<rect x="220.23" y="213.65" width="13.43" height="1.80" fill="rgb(111, 28, 22)"/>
<rect x="233.07" y="213.65" width="12.83" height="1.80" fill="rgb(91, 24, 18)"/>
<rect x="168.90" y="214.84" width="13.43" height="1.80" fill="rgb(126, 27, 23)"/>
<rect x="181.73" y="214.84" width="13.43" height="1.80" fill="rgb(111, 23, 19)"/>
<rect x="194.57" y="214.84" width="13.43" height="1.80" fill="rgb(121, 26, 22)"/>
<rect x="207.40" y="214.84" width="13.43" height="1.80" fill="rgb(73, 21, 15)"/>
<rect x="220.23" y="214.84" width="13.43" height="1.80" fill="rgb(83, 23, 17)"/>
<rect x="233.07" y="214.84" width="12.83" height="1.80" fill="rgb(77, 22, 16)"/>
<rect x="168.90" y="216.04" width="13.43" height="1.80" fill="rgb(121, 26, 21)"/>
<rect x="181.73" y="216.04" width="13.43" height="1.80" fill="rgb(131, 28, 24)"/>
<rect x="194.57" y="216.04" width="13.43" height="1.80" fill="rgb(129, 28, 23)"/>
<rect x="207.40" y="216.04" width="13.43" height="1.80" fill="rgb(64, 20, 14)"/>
<rect x="220.23" y="216.04" width="13.43" height="1.80" fill="rgb(69, 21, 15)"/>
<rect x="233.07" y="216.04" width="12.83" height="1.80" fill="rgb(65, 20, 14)"/>
<rect x="168.90" y="217.23" width="13.43" height="1.80" fill="rgb(145, 31, 27)"/>
<rect x="181.73" y="217.23" width="13.43" height="1.80" fill="rgb(139, 30, 25)"/>
<rect x="194.57" y="217.23" width="13.43" height="1.80" fill="rgb(155, 33, 29)"/>
<rect x="207.40" y="217.23" width="13.43" height="1.80" fill="rgb(68, 21, 15)"/>
<rect x="220.23" y="217.23" width="13.43" height="1.80" fill="rgb(68, 21, 15)"/>
<rect x="233.07" y="217.23" width="12.83" height="1.80" fill="rgb(68, 21, 15)"/>
<rect x="168.90" y="218.43" width="13.43" height="1.80" fill="rgb(131, 28, 24)"/>
<rect x="181.73" y="218.43" width="13.43" height="1.80" fill="rgb(145, 31, 27)"/>
<rect x="194.57" y="218.43" width="13.43" height="1.80" fill="rgb(120, 26, 21)"/>
<rect x="207.40" y="218.43" width="13.43" height="1.80" fill="rgb(81, 23, 17)"/>
<rect x="220.23" y="218.43" width="13.43" height="1.80" fill="rgb(94, 25, 19)"/>
<rect x="233.07" y="218.43" width="12.83" height="1.80" fill="rgb(85, 23, 17)"/>
<rect x="168.90" y="219.62" width="13.43" height="1.80" fill="rgb(128, 27, 23)"/>
<rect x="181.73" y="219.62" width="13.43" height="1.80" fill="rgb(126, 27, 23)"/>
<rect x="194.57" y="219.62" width="13.43" height="1.80" fill="rgb(130, 28, 23)"/>
<rect x="207.40" y="219.62" width="13.43" height="1.80" fill="rgb(68, 21, 15)"/>
<rect x="220.23" y="219.62" width="13.43" height="1.80" fill="rgb(62, 20, 14)"/>
<rect x="233.07" y="219.62" width="12.83" height="1.80" fill="rgb(67, 21, 15)"/>
<rect x="168.90" y="220.82" width="13.43" height="1.80" fill="rgb(118, 25, 21)"/>
<rect x="181.73" y="220.82" width="13.43" height="1.80" fill="rgb(114, 24, 20)"/>
<rect x="194.57" y="220.82" width="13.43" height="1.80" fill="rgb(127, 27, 23)"/>
<rect x="207.40" y="220.82" width="13.43" height="1.80" fill="rgb(75, 47, 25)"/>
<rect x="220.23" y="220.82" width="13.43" height="1.80" fill="rgb(75, 48, 26)"/>
<rect x="233.07" y="220.82" width="12.83" height="1.80" fill="rgb(75, 48, 25)"/>
<rect x="168.90" y="222.01" width="13.43" height="1.80" fill="rgb(121, 26, 22)"/>
<rect x="181.73" y="222.01" width="13.43" height="1.80" fill="rgb(117, 25, 21)"/>
<rect x="194.57" y="222.01" width="13.43" height="1.80" fill="rgb(129, 28, 23)"/>
<rect x="207.40" y="222.01" width="13.43" height="1.80" fill="rgb(57, 20, 14)"/>
<rect x="220.23" y="222.01" width="13.43" height="1.80" fill="rgb(50, 19, 13)"/>
<rect x="233.07" y="222.01" width="12.83" height="1.80" fill="rgb(51, 19, 13)"/>
<rect x="168.90" y="223.21" width="13.43" height="1.80" fill="rgb(164, 35, 31)"/>
<rect x="181.73" y="223.21" width="13.43" height="1.80" fill="rgb(160, 35, 30)"/>
<rect x="194.57" y="223.21" width="13.43" height="1.80" fill="rgb(163, 35, 31)"/>
<rect x="207.40" y="223.21" width="13.43" height="1.80" fill="rgb(75, 26, 17)"/>
<rect x="220.23" y="223.21" width="13.43" height="1.80" fill="rgb(75, 26, 17)"/>
<rect x="233.07" y="223.21" width="12.83" height="1.80" fill="rgb(75, 30, 19)"/>
<rect x="168.90" y="224.40" width="13.43" height="1.20" fill="rgb(130, 28, 24)"/>
<rect x="181.73" y="224.40" width="13.43" height="1.20" fill="rgb(135, 29, 25)"/>
<rect x="194.57" y="224.40" width="13.43" height="1.20" fill="rgb(134, 29, 24)"/>
<rect x="207.40" y="224.40" width="13.43" height="1.20" fill="rgb(120, 29, 24)"/>
<rect x="220.23" y="224.40" width="13.43" height="1.20" fill="rgb(112, 28, 22)"/>
<rect x="233.07" y="224.40" width="12.83" height="1.20" fill="rgb(102, 26, 21)"/>
</g>
<text x="122.80" y="29.80" font-size="7.7" text-anchor="middle" transform="matrix(1 0 0 1.12 0 -3.576)">Day 8</text>
<line x1="87.80" y1="32.60" x2="158.70" y2="32.60" stroke="#333" stroke-width="1.5"/>
<text x="205.00" y="29.80" font-size="7.7" text-anchor="middle" transform="matrix(1 0 0 1.12 0 -3.576)">Day 13</text>
<line x1="171.80" y1="32.60" x2="242.20" y2="32.60" stroke="#333" stroke-width="1.5"/>
<text x="92.80" y="73.00" font-size="7.7" transform="rotate(-90 92.80 73.00) matrix(1 0 0 1.12 0 -8.760)" class="r">shCdk8 -1</text>
<text x="104.90" y="73.00" font-size="7.7" transform="rotate(-90 104.90 73.00) matrix(1 0 0 1.12 0 -8.760)" class="r">shCdk8 -1</text>
<text x="117.90" y="73.00" font-size="7.7" transform="rotate(-90 117.90 73.00) matrix(1 0 0 1.12 0 -8.760)" class="r">shCdk8 -1</text>
<text x="130.00" y="73.00" font-size="7.7" transform="rotate(-90 130.00 73.00) matrix(1 0 0 1.12 0 -8.760)" class="r">shCdk8 -2</text>
<text x="143.00" y="73.00" font-size="7.7" transform="rotate(-90 143.00 73.00) matrix(1 0 0 1.12 0 -8.760)" class="r">shCdk8 -2</text>
<text x="155.90" y="73.00" font-size="7.7" transform="rotate(-90 155.90 73.00) matrix(1 0 0 1.12 0 -8.760)" class="r">shCdk8 -2</text>
<text x="177.10" y="73.00" font-size="7.7" transform="rotate(-90 177.10 73.00) matrix(1 0 0 1.12 0 -8.760)" class="r">shCdk8 -1</text>
<text x="190.10" y="73.00" font-size="7.7" transform="rotate(-90 190.10 73.00) matrix(1 0 0 1.12 0 -8.760)" class="r">shCdk8 -1</text>
<text x="202.20" y="73.00" font-size="7.7" transform="rotate(-90 202.20 73.00) matrix(1 0 0 1.12 0 -8.760)" class="r">shCdk8 -1</text>
<text x="215.20" y="73.00" font-size="7.7" transform="rotate(-90 215.20 73.00) matrix(1 0 0 1.12 0 -8.760)" class="r">shCdk8 -2</text>
<text x="227.80" y="73.00" font-size="7.7" transform="rotate(-90 227.80 73.00) matrix(1 0 0 1.12 0 -8.760)" class="r">shCdk8 -2</text>
<text x="241.10" y="73.00" font-size="7.7" transform="rotate(-90 241.10 73.00) matrix(1 0 0 1.12 0 -8.760)" class="r">shCdk8 -2</text>
<text x="274.00" y="50.60" font-size="7.8" text-anchor="middle" transform="matrix(1 0 0 1.12 0 -6.072)">R1 mouse</text>
<text x="274.00" y="59.80" font-size="7.8" text-anchor="middle" transform="matrix(1 0 0 1.12 0 -7.176)">ES cells</text>
<text x="47.00" y="97.80" font-size="8.7" text-anchor="middle" transform="matrix(1 0 0 1.12 0 -11.736)">CDK8-induced</text>
<text x="47.00" y="106.80" font-size="8.7" text-anchor="middle" transform="matrix(1 0 0 1.12 0 -12.816)">genes</text>
<text x="47.00" y="176.10" font-size="8.7" text-anchor="middle" transform="matrix(1 0 0 1.12 0 -21.132)">CDK8-repressed</text>
<text x="47.00" y="184.60" font-size="8.7" text-anchor="middle" transform="matrix(1 0 0 1.12 0 -22.152)">genes</text>
<defs><linearGradient id="fc" x1="0" x2="1" y1="0" y2="0"><stop offset="0" stop-color="#2fb34a"/><stop offset="0.5" stop-color="#0a0a08"/><stop offset="1" stop-color="#ee2224"/></linearGradient></defs>
<rect x="50.90" y="211.00" width="26.00" height="7.00" fill="url(#fc)"/>
<text x="63.60" y="208.20" font-size="7.0" text-anchor="middle" transform="matrix(1 0 0 1.12 0 -24.984)">Fold change</text>
<text x="50.20" y="226.60" font-size="7.3" text-anchor="middle" transform="matrix(1 0 0 1.12 0 -27.192)">−2</text>
<text x="77.40" y="226.60" font-size="7.3" text-anchor="middle" transform="matrix(1 0 0 1.12 0 -27.192)">2</text>
<text x="250.30" y="82.80" font-size="7.85" font-weight="bold" transform="matrix(1 0 0 1.12 0 -9.936)">CDK8-induced gene set enrichment:</text>
<text x="250.3" y="93.80" font-size="7.85" font-weight="bold" font-style="italic" transform="matrix(1 0 0 1.12 0 -11.256)">- MYC ES cell targets (P = 10<tspan font-size="5.2" dy="-3">−6</tspan><tspan dy="3">)</tspan></text>
<text x="250.3" y="102.80" font-size="7.85" transform="matrix(1 0 0 1.12 0 -12.336)">- OCT4 ES cell targets (<tspan font-style="italic">P</tspan> = 10<tspan font-size="5.2" dy="-3">−3</tspan><tspan dy="3">)</tspan></text>
<text x="250.3" y="111.80" font-size="7.85" transform="matrix(1 0 0 1.12 0 -13.416)">- NANOG ES cell targets (<tspan font-style="italic">P</tspan> = 1)</text>
<text x="250.3" y="121.30" font-size="7.85" transform="matrix(1 0 0 1.12 0 -14.556)">- SOX2 ES cell targets (<tspan font-style="italic">P</tspan> = 1)</text>
<text x="250.3" y="136.20" font-size="7.85" transform="matrix(1 0 0 1.12 0 -16.344)">- Embryonic development genes (<tspan font-style="italic">P</tspan> = 10<tspan font-size="5.2" dy="-3">−3</tspan><tspan dy="3">)</tspan></text>
<text x="250.30" y="161.30" font-size="7.85" font-weight="bold" transform="matrix(1 0 0 1.12 0 -19.356)">CDK8-repressed gene set enrichment:</text>
<text x="250.3" y="172.30" font-size="7.85" transform="matrix(1 0 0 1.12 0 -20.676)">- MYC ES cell targets (<tspan font-style="italic">P</tspan> = 0.4)</text>
<text x="250.3" y="181.30" font-size="7.85" transform="matrix(1 0 0 1.12 0 -21.756)">- OCT4 ES cell targets (<tspan font-style="italic">P</tspan> = 10<tspan font-size="5.2" dy="-3">−3</tspan><tspan dy="3">)</tspan></text>
<text x="250.3" y="190.30" font-size="7.85" transform="matrix(1 0 0 1.12 0 -22.836)">- NANOG ES cell targets (<tspan font-style="italic">P</tspan> = 10<tspan font-size="5.2" dy="-3">−3</tspan><tspan dy="3">)</tspan></text>
<text x="250.3" y="199.80" font-size="7.85" transform="matrix(1 0 0 1.12 0 -23.976)">- SOX2 ES cell targets (<tspan font-style="italic">P</tspan> = 10<tspan font-size="5.2" dy="-3">−4</tspan><tspan dy="3">)</tspan></text>
<text x="250.3" y="214.70" font-size="7.85" transform="matrix(1 0 0 1.12 0 -25.764)">- Embryonic development genes (<tspan font-style="italic">P</tspan> = 10<tspan font-size="5.2" dy="-3">−5</tspan><tspan dy="3">)</tspan></text>
<line x1="433.80" y1="37.52" x2="433.80" y2="106.40" stroke="#444" stroke-width="0.9"/>
<line x1="433.40" y1="105.90" x2="506.00" y2="105.90" stroke="#444" stroke-width="0.9"/>
<line x1="430.80" y1="105.90" x2="433.80" y2="105.90" stroke="#444" stroke-width="0.9"/>
<text x="429.80" y="108.80" font-size="8.3" text-anchor="end" transform="matrix(1 0 0 1.12 0 -13.056)">0.0</text>
<line x1="430.80" y1="83.18" x2="433.80" y2="83.18" stroke="#444" stroke-width="0.9"/>
<text x="429.80" y="86.08" font-size="8.3" text-anchor="end" transform="matrix(1 0 0 1.12 0 -10.329)">0.5</text>
<line x1="430.80" y1="60.45" x2="433.80" y2="60.45" stroke="#444" stroke-width="0.9"/>
<text x="429.80" y="63.35" font-size="8.3" text-anchor="end" transform="matrix(1 0 0 1.12 0 -7.602)">1.0</text>
<line x1="430.80" y1="37.72" x2="433.80" y2="37.72" stroke="#444" stroke-width="0.9"/>
<text x="429.80" y="40.62" font-size="8.3" text-anchor="end" transform="matrix(1 0 0 1.12 0 -4.875)">1.5</text>
<rect x="438.10" y="60.45" width="7.80" height="45.45" fill="#000"/>
<line x1="442.00" y1="60.45" x2="442.00" y2="55.00" stroke="#000" stroke-width="1.1"/>
<line x1="439.90" y1="55.00" x2="444.10" y2="55.00" stroke="#000" stroke-width="1.1"/>
<line x1="442.00" y1="105.90" x2="442.00" y2="107.50" stroke="#444" stroke-width="0.8"/>
<rect x="448.30" y="81.36" width="7.80" height="24.54" fill="#000"/>
<line x1="452.20" y1="81.36" x2="452.20" y2="79.08" stroke="#000" stroke-width="1.1"/>
<line x1="450.10" y1="79.08" x2="454.30" y2="79.08" stroke="#000" stroke-width="1.1"/>
<line x1="452.20" y1="105.90" x2="452.20" y2="107.50" stroke="#444" stroke-width="0.8"/>
<circle cx="452.20" cy="76.48" r="1.2" fill="#111"/>
<rect x="458.40" y="82.49" width="7.80" height="23.41" fill="#000"/>
<line x1="462.30" y1="82.49" x2="462.30" y2="79.08" stroke="#000" stroke-width="1.1"/>
<line x1="460.20" y1="79.08" x2="464.40" y2="79.08" stroke="#000" stroke-width="1.1"/>
<line x1="462.30" y1="105.90" x2="462.30" y2="107.50" stroke="#444" stroke-width="0.8"/>
<circle cx="462.30" cy="76.48" r="1.2" fill="#111"/>
<rect x="475.20" y="60.45" width="7.80" height="45.45" fill="#000"/>
<line x1="479.10" y1="60.45" x2="479.10" y2="55.91" stroke="#000" stroke-width="1.1"/>
<line x1="477.00" y1="55.91" x2="481.20" y2="55.91" stroke="#000" stroke-width="1.1"/>
<line x1="479.10" y1="105.90" x2="479.10" y2="107.50" stroke="#444" stroke-width="0.8"/>
<rect x="485.30" y="84.54" width="7.80" height="21.36" fill="#000"/>
<line x1="489.20" y1="84.54" x2="489.20" y2="80.90" stroke="#000" stroke-width="1.1"/>
<line x1="487.10" y1="80.90" x2="491.30" y2="80.90" stroke="#000" stroke-width="1.1"/>
<line x1="489.20" y1="105.90" x2="489.20" y2="107.50" stroke="#444" stroke-width="0.8"/>
<circle cx="489.20" cy="78.30" r="1.2" fill="#111"/>
<rect x="495.50" y="90.45" width="7.80" height="15.45" fill="#000"/>
<line x1="499.40" y1="90.45" x2="499.40" y2="88.17" stroke="#000" stroke-width="1.1"/>
<line x1="497.30" y1="88.17" x2="501.50" y2="88.17" stroke="#000" stroke-width="1.1"/>
<line x1="499.40" y1="105.90" x2="499.40" y2="107.50" stroke="#444" stroke-width="0.8"/>
<circle cx="499.40" cy="85.57" r="1.2" fill="#111"/>
<text x="412.9" y="70.80" font-size="9.15" text-anchor="middle" transform="rotate(-90 412.9 70.80) matrix(1 0 0 1.12 0 -8.496)"><tspan font-style="italic">H2afx</tspan> expression</text>
<line x1="433.80" y1="118.59" x2="433.80" y2="186.90" stroke="#444" stroke-width="0.9"/>
<line x1="433.40" y1="186.40" x2="506.00" y2="186.40" stroke="#444" stroke-width="0.9"/>
<line x1="430.80" y1="186.40" x2="433.80" y2="186.40" stroke="#444" stroke-width="0.9"/>
<text x="429.80" y="189.30" font-size="8.3" text-anchor="end" transform="matrix(1 0 0 1.12 0 -22.716)">0.0</text>
<line x1="430.80" y1="163.87" x2="433.80" y2="163.87" stroke="#444" stroke-width="0.9"/>
<text x="429.80" y="166.77" font-size="8.3" text-anchor="end" transform="matrix(1 0 0 1.12 0 -20.012)">0.5</text>
<line x1="430.80" y1="141.33" x2="433.80" y2="141.33" stroke="#444" stroke-width="0.9"/>
<text x="429.80" y="144.23" font-size="8.3" text-anchor="end" transform="matrix(1 0 0 1.12 0 -17.308)">1.0</text>
<line x1="430.80" y1="118.80" x2="433.80" y2="118.80" stroke="#444" stroke-width="0.9"/>
<text x="429.80" y="121.70" font-size="8.3" text-anchor="end" transform="matrix(1 0 0 1.12 0 -14.603)">1.5</text>
<rect x="438.10" y="141.33" width="7.80" height="45.07" fill="#000"/>
<line x1="442.00" y1="141.33" x2="442.00" y2="137.72" stroke="#000" stroke-width="1.1"/>
<line x1="439.90" y1="137.72" x2="444.10" y2="137.72" stroke="#000" stroke-width="1.1"/>
<line x1="442.00" y1="186.40" x2="442.00" y2="188.00" stroke="#444" stroke-width="0.8"/>
<rect x="448.30" y="166.25" width="7.80" height="20.15" fill="#000"/>
<line x1="452.20" y1="166.25" x2="452.20" y2="160.85" stroke="#000" stroke-width="1.1"/>
<line x1="450.10" y1="160.85" x2="454.30" y2="160.85" stroke="#000" stroke-width="1.1"/>
<line x1="452.20" y1="186.40" x2="452.20" y2="188.00" stroke="#444" stroke-width="0.8"/>
<circle cx="452.20" cy="158.25" r="1.2" fill="#111"/>
<rect x="458.40" y="151.56" width="7.80" height="34.84" fill="#000"/>
<line x1="462.30" y1="151.56" x2="462.30" y2="143.58" stroke="#000" stroke-width="1.1"/>
<line x1="460.20" y1="143.58" x2="464.40" y2="143.58" stroke="#000" stroke-width="1.1"/>
<line x1="462.30" y1="186.40" x2="462.30" y2="188.00" stroke="#444" stroke-width="0.8"/>
<circle cx="462.30" cy="140.98" r="1.2" fill="#111"/>
<rect x="475.20" y="140.43" width="7.80" height="45.97" fill="#000"/>
<line x1="479.10" y1="140.43" x2="479.10" y2="131.41" stroke="#000" stroke-width="1.1"/>
<line x1="477.00" y1="131.41" x2="481.20" y2="131.41" stroke="#000" stroke-width="1.1"/>
<line x1="479.10" y1="186.40" x2="479.10" y2="188.00" stroke="#444" stroke-width="0.8"/>
<rect x="485.30" y="171.17" width="7.80" height="15.23" fill="#000"/>
<line x1="489.20" y1="171.17" x2="489.20" y2="169.59" stroke="#000" stroke-width="1.1"/>
<line x1="487.10" y1="169.59" x2="491.30" y2="169.59" stroke="#000" stroke-width="1.1"/>
<line x1="489.20" y1="186.40" x2="489.20" y2="188.00" stroke="#444" stroke-width="0.8"/>
<circle cx="489.20" cy="166.99" r="1.2" fill="#111"/>
<rect x="495.50" y="171.66" width="7.80" height="14.74" fill="#000"/>
<line x1="499.40" y1="171.66" x2="499.40" y2="170.40" stroke="#000" stroke-width="1.1"/>
<line x1="497.30" y1="170.40" x2="501.50" y2="170.40" stroke="#000" stroke-width="1.1"/>
<line x1="499.40" y1="186.40" x2="499.40" y2="188.00" stroke="#444" stroke-width="0.8"/>
<circle cx="499.40" cy="167.80" r="1.2" fill="#111"/>
<text x="412.9" y="151.40" font-size="8.95" text-anchor="middle" transform="rotate(-90 412.9 151.40) matrix(1 0 0 1.12 0 -18.168)"><tspan font-style="italic">Tcl1</tspan> expression</text>
<text x="451.00" y="29.90" font-size="7.9" text-anchor="middle" transform="matrix(1 0 0 1.12 0 -3.588)">Day 8</text>
<line x1="436.50" y1="33.00" x2="465.00" y2="33.00" stroke="#333" stroke-width="1.5"/>
<text x="488.00" y="29.90" font-size="7.9" text-anchor="middle" transform="matrix(1 0 0 1.12 0 -3.588)">Day 13</text>
<line x1="473.70" y1="33.00" x2="502.20" y2="33.00" stroke="#333" stroke-width="1.5"/>
<text x="444.70" y="190.80" font-size="7.75" text-anchor="end" transform="rotate(-90 444.70 190.80) matrix(1 0 0 1.12 0 -22.896)" class="r">shNTC</text>
<text x="455.20" y="190.80" font-size="7.75" text-anchor="end" transform="rotate(-90 455.20 190.80) matrix(1 0 0 1.12 0 -22.896)" class="r">shCdk8 -1</text>
<text x="465.00" y="190.80" font-size="7.75" text-anchor="end" transform="rotate(-90 465.00 190.80) matrix(1 0 0 1.12 0 -22.896)" class="r">shCdk8 -2</text>
<text x="481.30" y="190.80" font-size="7.75" text-anchor="end" transform="rotate(-90 481.30 190.80) matrix(1 0 0 1.12 0 -22.896)" class="r">shNTC</text>
<text x="491.60" y="190.80" font-size="7.75" text-anchor="end" transform="rotate(-90 491.60 190.80) matrix(1 0 0 1.12 0 -22.896)" class="r">shCdk8 -1</text>
<text x="501.30" y="190.80" font-size="7.75" text-anchor="end" transform="rotate(-90 501.30 190.80) matrix(1 0 0 1.12 0 -22.896)" class="r">shCdk8 -2</text>
<text x="57.50" y="295.30" font-size="7.8" text-anchor="middle" transform="matrix(1 0 0 1.12 0 -35.436)">MYC</text>
<text x="57.00" y="332.00" font-size="7.8" text-anchor="middle" transform="matrix(1 0 0 1.12 0 -39.840)">MYC-pS62</text>
<text x="57.70" y="339.80" font-size="6.7" text-anchor="middle" font-style="italic" class="i" transform="matrix(1 0 0 1.12 0 -40.776)">stable and active</text>
<text x="57.00" y="377.30" font-size="7.8" text-anchor="middle" transform="matrix(1 0 0 1.12 0 -45.276)">MYC-pT58</text>
<text x="57.80" y="385.70" font-size="6.75" text-anchor="middle" font-style="italic" class="i" transform="matrix(1 0 0 1.12 0 -46.284)">primed for degradation</text>
<text x="57.70" y="421.80" font-size="6.6" text-anchor="middle" font-style="italic" class="i" transform="matrix(1 0 0 1.12 0 -50.616)">Degradation</text>
<text x="61.00" y="311.40" font-size="6.65" font-style="italic" class="i" transform="matrix(1 0 0 1.12 0 -37.368)">S62 Pi</text>
<text x="61.30" y="353.00" font-size="6.65" font-style="italic" class="i" transform="matrix(1 0 0 1.12 0 -42.360)">T58 Pi</text>
<text x="61.30" y="361.90" font-size="6.65" font-style="italic" class="i" transform="matrix(1 0 0 1.12 0 -43.428)">S62 de-Pi</text>
<line x1="57.40" y1="299.30" x2="57.40" y2="319.50" stroke="#000" stroke-width="1.4"/>
<polygon points="54.80,318.50 60.00,318.50 57.40,323.50" fill="#000"/>
<line x1="57.40" y1="344.90" x2="57.40" y2="365.30" stroke="#000" stroke-width="1.4"/>
<polygon points="54.80,364.30 60.00,364.30 57.40,369.30" fill="#000"/>
<line x1="57.40" y1="389.20" x2="57.40" y2="409.40" stroke="#000" stroke-width="1.4"/>
<polygon points="54.80,408.40 60.00,408.40 57.40,413.40" fill="#000"/>
<text x="116.50" y="250.00" font-size="7.8" text-anchor="middle" transform="matrix(1 0 0 1.12 0 -30.000)">Day 6</text>
<line x1="100.50" y1="252.90" x2="132.00" y2="252.90" stroke="#333" stroke-width="1.5"/>
<text x="111.60" y="291.50" font-size="7.75" transform="rotate(-90 111.60 291.50) matrix(1 0 0 1.12 0 -34.980)" class="r">shNTC</text>
<text x="125.80" y="291.50" font-size="7.75" transform="rotate(-90 125.80 291.50) matrix(1 0 0 1.12 0 -34.980)" class="r">shCdk8 -1</text>
<text x="156.50" y="250.00" font-size="7.8" text-anchor="middle" transform="matrix(1 0 0 1.12 0 -30.000)">Day 8</text>
<line x1="140.50" y1="252.90" x2="172.00" y2="252.90" stroke="#333" stroke-width="1.5"/>
<text x="151.60" y="291.50" font-size="7.75" transform="rotate(-90 151.60 291.50) matrix(1 0 0 1.12 0 -34.980)" class="r">shNTC</text>
<text x="165.80" y="291.50" font-size="7.75" transform="rotate(-90 165.80 291.50) matrix(1 0 0 1.12 0 -34.980)" class="r">shCdk8 -1</text>
<text x="196.50" y="250.00" font-size="7.8" text-anchor="middle" transform="matrix(1 0 0 1.12 0 -30.000)">Day 11</text>
<line x1="180.50" y1="252.90" x2="212.00" y2="252.90" stroke="#333" stroke-width="1.5"/>
<text x="191.60" y="291.50" font-size="7.75" transform="rotate(-90 191.60 291.50) matrix(1 0 0 1.12 0 -34.980)" class="r">shNTC</text>
<text x="205.80" y="291.50" font-size="7.75" transform="rotate(-90 205.80 291.50) matrix(1 0 0 1.12 0 -34.980)" class="r">shCdk8 -1</text>
<text x="236.30" y="250.00" font-size="7.8" text-anchor="middle" transform="matrix(1 0 0 1.12 0 -30.000)">Day 13</text>
<line x1="220.30" y1="252.90" x2="251.80" y2="252.90" stroke="#333" stroke-width="1.5"/>
<text x="231.40" y="291.50" font-size="7.75" transform="rotate(-90 231.40 291.50) matrix(1 0 0 1.12 0 -34.980)" class="r">shNTC</text>
<text x="245.60" y="291.50" font-size="7.75" transform="rotate(-90 245.60 291.50) matrix(1 0 0 1.12 0 -34.980)" class="r">shCdk8 -1</text>
<defs><filter id="bl" x="-50%" y="-100%" width="200%" height="300%"><feGaussianBlur stdDeviation="0.75"/></filter><filter id="bl2" x="-50%" y="-100%" width="200%" height="300%"><feGaussianBlur stdDeviation="1.1"/></filter></defs>
<rect x="101.00" y="295.80" width="29.70" height="17.80" fill="#ebebeb"/>
<rect x="104.10" y="304.50" width="11" height="2.6" rx="2" fill="#000" fill-opacity="0.9" filter="url(#bl)"/>
<rect x="119.20" y="304.80" width="10" height="2" rx="2" fill="#000" fill-opacity="0.3" filter="url(#bl)"/>
<rect x="141.00" y="295.80" width="29.70" height="17.80" fill="#ebebeb"/>
<rect x="144.10" y="304.20" width="11" height="3.2" rx="2" fill="#000" fill-opacity="1.0" filter="url(#bl)"/>
<rect x="159.20" y="304.80" width="10" height="2" rx="2" fill="#000" fill-opacity="0.35" filter="url(#bl)"/>
<rect x="181.00" y="295.80" width="29.70" height="17.80" fill="#ebebeb"/>
<rect x="184.10" y="304.20" width="11" height="3.2" rx="2" fill="#000" fill-opacity="1.0" filter="url(#bl)"/>
<rect x="199.20" y="304.80" width="10" height="2" rx="2" fill="#000" fill-opacity="0.25" filter="url(#bl)"/>
<rect x="220.80" y="295.80" width="29.70" height="17.80" fill="#ebebeb"/>
<rect x="223.90" y="304.20" width="11" height="3.2" rx="2" fill="#000" fill-opacity="1.0" filter="url(#bl)"/>
<rect x="239.00" y="304.80" width="10" height="2" rx="2" fill="#000" fill-opacity="0.12" filter="url(#bl)"/>
<text x="253.50" y="307.30" font-size="8.0" transform="matrix(1 0 0 1.12 0 -36.876)">CDK8</text>
<rect x="101.00" y="319.90" width="29.70" height="17.80" fill="#ebebeb"/>
<rect x="103.85" y="326.50" width="11.5" height="6" rx="2" fill="#000" fill-opacity="0.62" filter="url(#bl2)"/>
<rect x="118.70" y="326.75" width="11" height="5.5" rx="2" fill="#000" fill-opacity="0.55" filter="url(#bl2)"/>
<rect x="141.00" y="319.90" width="29.70" height="17.80" fill="#ebebeb"/>
<rect x="143.85" y="326.50" width="11.5" height="6" rx="2" fill="#000" fill-opacity="0.58" filter="url(#bl2)"/>
<rect x="158.70" y="327.00" width="11" height="5" rx="2" fill="#000" fill-opacity="0.2" filter="url(#bl2)"/>
<rect x="181.00" y="319.90" width="29.70" height="17.80" fill="#ebebeb"/>
<rect x="183.85" y="326.50" width="11.5" height="6" rx="2" fill="#000" fill-opacity="0.45" filter="url(#bl2)"/>
<rect x="198.70" y="327.00" width="11" height="5" rx="2" fill="#000" fill-opacity="0.15" filter="url(#bl2)"/>
<rect x="220.80" y="319.90" width="29.70" height="17.80" fill="#ebebeb"/>
<rect x="223.65" y="326.50" width="11.5" height="6" rx="2" fill="#000" fill-opacity="0.48" filter="url(#bl2)"/>
<rect x="238.50" y="327.25" width="11" height="4.5" rx="2" fill="#000" fill-opacity="0.12" filter="url(#bl2)"/>
<text x="253.50" y="331.40" font-size="8.0" transform="matrix(1 0 0 1.12 0 -39.768)">MYC</text>
<rect x="101.00" y="344.00" width="29.70" height="17.80" fill="#ebebeb"/>
<rect x="104.10" y="349.80" width="11" height="3" rx="2" fill="#000" fill-opacity="0.42" filter="url(#bl)"/>
<rect x="104.10" y="354.50" width="11" height="3" rx="2" fill="#000" fill-opacity="0.5" filter="url(#bl)"/>
<rect x="118.70" y="349.80" width="11" height="3" rx="2" fill="#000" fill-opacity="0.45" filter="url(#bl)"/>
<rect x="118.70" y="354.50" width="11" height="3" rx="2" fill="#000" fill-opacity="0.58" filter="url(#bl)"/>
<rect x="141.00" y="344.00" width="29.70" height="17.80" fill="#ebebeb"/>
<rect x="143.85" y="349.80" width="11.5" height="3" rx="2" fill="#000" fill-opacity="0.45" filter="url(#bl)"/>
<rect x="143.85" y="354.60" width="11.5" height="3.2" rx="2" fill="#000" fill-opacity="0.95" filter="url(#bl)"/>
<rect x="158.45" y="349.80" width="11.5" height="3" rx="2" fill="#000" fill-opacity="0.45" filter="url(#bl)"/>
<rect x="158.45" y="354.60" width="11.5" height="3.2" rx="2" fill="#000" fill-opacity="0.9" filter="url(#bl)"/>
<rect x="181.00" y="344.00" width="29.70" height="17.80" fill="#ebebeb"/>
<rect x="183.85" y="349.80" width="11.5" height="3" rx="2" fill="#000" fill-opacity="0.5" filter="url(#bl)"/>
<rect x="183.85" y="354.60" width="11.5" height="3.2" rx="2" fill="#000" fill-opacity="0.8" filter="url(#bl)"/>
<rect x="198.70" y="349.80" width="11" height="3" rx="2" fill="#000" fill-opacity="0.4" filter="url(#bl)"/>
<rect x="198.70" y="354.70" width="11" height="3" rx="2" fill="#000" fill-opacity="0.7" filter="url(#bl)"/>
<rect x="220.80" y="344.00" width="29.70" height="17.80" fill="#ebebeb"/>
<rect x="223.65" y="349.80" width="11.5" height="3" rx="2" fill="#000" fill-opacity="0.5" filter="url(#bl)"/>
<rect x="223.65" y="354.60" width="11.5" height="3.2" rx="2" fill="#000" fill-opacity="0.85" filter="url(#bl)"/>
<rect x="238.75" y="350.05" width="10.5" height="2.5" rx="2" fill="#000" fill-opacity="0.15" filter="url(#bl)"/>
<rect x="238.75" y="354.95" width="10.5" height="2.5" rx="2" fill="#000" fill-opacity="0.22" filter="url(#bl)"/>
<text x="253.50" y="355.50" font-size="8.0" transform="matrix(1 0 0 1.12 0 -42.660)">MYC-pS62</text>
<rect x="101.00" y="368.10" width="29.70" height="17.80" fill="#ebebeb"/>
<rect x="104.10" y="375.15" width="11" height="5.5" rx="2" fill="#000" fill-opacity="0.42" filter="url(#bl2)"/>
<rect x="118.70" y="375.15" width="11" height="5.5" rx="2" fill="#000" fill-opacity="0.5" filter="url(#bl2)"/>
<rect x="141.00" y="368.10" width="29.70" height="17.80" fill="#ebebeb"/>
<rect x="143.85" y="374.90" width="11.5" height="6" rx="2" fill="#000" fill-opacity="0.55" filter="url(#bl2)"/>
<rect x="158.45" y="374.90" width="11.5" height="6" rx="2" fill="#000" fill-opacity="0.6" filter="url(#bl2)"/>
<rect x="181.00" y="368.10" width="29.70" height="17.80" fill="#ebebeb"/>
<rect x="183.85" y="374.90" width="11.5" height="6" rx="2" fill="#000" fill-opacity="0.55" filter="url(#bl2)"/>
<rect x="198.45" y="374.90" width="11.5" height="6" rx="2" fill="#000" fill-opacity="0.65" filter="url(#bl2)"/>
<rect x="220.80" y="368.10" width="29.70" height="17.80" fill="#ebebeb"/>
<rect x="223.65" y="374.90" width="11.5" height="6" rx="2" fill="#000" fill-opacity="0.5" filter="url(#bl2)"/>
<rect x="238.50" y="375.15" width="11" height="5.5" rx="2" fill="#000" fill-opacity="0.45" filter="url(#bl2)"/>
<text x="253.50" y="379.60" font-size="8.0" transform="matrix(1 0 0 1.12 0 -45.552)">MYC-pT58</text>
<rect x="101.00" y="392.20" width="29.70" height="17.80" fill="#ebebeb"/>
<rect x="103.60" y="397.05" width="12" height="10.5" rx="2" fill="#000" fill-opacity="1.0" filter="url(#bl2)"/>
<rect x="118.20" y="397.55" width="12" height="9.5" rx="2" fill="#000" fill-opacity="1.0" filter="url(#bl2)"/>
<rect x="141.00" y="392.20" width="29.70" height="17.80" fill="#ebebeb"/>
<rect x="143.60" y="397.05" width="12" height="10.5" rx="2" fill="#000" fill-opacity="1.0" filter="url(#bl2)"/>
<rect x="158.45" y="398.30" width="11.5" height="8" rx="2" fill="#000" fill-opacity="1.0" filter="url(#bl2)"/>
<rect x="181.00" y="392.20" width="29.70" height="17.80" fill="#ebebeb"/>
<rect x="183.60" y="397.05" width="12" height="10.5" rx="2" fill="#000" fill-opacity="1.0" filter="url(#bl2)"/>
<rect x="198.45" y="398.80" width="11.5" height="7" rx="2" fill="#000" fill-opacity="0.5" filter="url(#bl2)"/>
<rect x="220.80" y="392.20" width="29.70" height="17.80" fill="#ebebeb"/>
<rect x="223.40" y="397.30" width="12" height="10" rx="2" fill="#000" fill-opacity="1.0" filter="url(#bl2)"/>
<rect x="238.25" y="399.05" width="11.5" height="6.5" rx="2" fill="#000" fill-opacity="0.35" filter="url(#bl2)"/>
<text x="253.50" y="403.70" font-size="8.0" transform="matrix(1 0 0 1.12 0 -48.444)">NANOG</text>
<rect x="101.00" y="416.30" width="29.70" height="17.80" fill="#ebebeb"/>
<rect x="104.35" y="423.40" width="10.5" height="3.6" rx="2" fill="#000" fill-opacity="1.0" filter="url(#bl)"/>
<rect x="118.95" y="423.40" width="10.5" height="3.6" rx="2" fill="#000" fill-opacity="1.0" filter="url(#bl)"/>
<rect x="141.00" y="416.30" width="29.70" height="17.80" fill="#ebebeb"/>
<rect x="144.10" y="423.00" width="11" height="4.4" rx="2" fill="#000" fill-opacity="1.0" filter="url(#bl)"/>
<rect x="158.95" y="423.20" width="10.5" height="4.0" rx="2" fill="#000" fill-opacity="1.0" filter="url(#bl)"/>
<rect x="181.00" y="416.30" width="29.70" height="17.80" fill="#ebebeb"/>
<rect x="184.10" y="423.10" width="11" height="4.2" rx="2" fill="#000" fill-opacity="1.0" filter="url(#bl)"/>
<rect x="198.95" y="423.60" width="10.5" height="3.2" rx="2" fill="#000" fill-opacity="0.42" filter="url(#bl)"/>
<rect x="220.80" y="416.30" width="29.70" height="17.80" fill="#ebebeb"/>
<rect x="224.15" y="423.20" width="10.5" height="4.0" rx="2" fill="#000" fill-opacity="1.0" filter="url(#bl)"/>
<rect x="239.00" y="424.00" width="10" height="2.4" rx="2" fill="#000" fill-opacity="0.15" filter="url(#bl)"/>
<text x="253.50" y="427.80" font-size="8.0" transform="matrix(1 0 0 1.12 0 -51.336)">OCT4</text>
<rect x="101.00" y="440.40" width="29.70" height="17.80" fill="#ebebeb"/>
<rect x="103.00" y="446.70" width="13.2" height="5.0" rx="2" fill="#000" fill-opacity="1.0" filter="url(#bl)"/>
<rect x="117.60" y="446.70" width="13.2" height="5.0" rx="2" fill="#000" fill-opacity="1.0" filter="url(#bl)"/>
<rect x="141.00" y="440.40" width="29.70" height="17.80" fill="#ebebeb"/>
<rect x="143.00" y="446.70" width="13.2" height="5.0" rx="2" fill="#000" fill-opacity="1.0" filter="url(#bl)"/>
<rect x="157.60" y="446.70" width="13.2" height="5.0" rx="2" fill="#000" fill-opacity="1.0" filter="url(#bl)"/>
<rect x="181.00" y="440.40" width="29.70" height="17.80" fill="#ebebeb"/>
<rect x="183.00" y="446.70" width="13.2" height="5.0" rx="2" fill="#000" fill-opacity="0.85" filter="url(#bl)"/>
<rect x="197.60" y="446.70" width="13.2" height="5.0" rx="2" fill="#000" fill-opacity="0.95" filter="url(#bl)"/>
<rect x="220.80" y="440.40" width="29.70" height="17.80" fill="#ebebeb"/>
<rect x="222.80" y="446.70" width="13.2" height="5.0" rx="2" fill="#000" fill-opacity="0.75" filter="url(#bl)"/>
<rect x="237.40" y="446.70" width="13.2" height="5.0" rx="2" fill="#000" fill-opacity="0.95" filter="url(#bl)"/>
<text x="253.50" y="451.90" font-size="8.0" transform="matrix(1 0 0 1.12 0 -54.228)">ACTIN</text>
<line x1="353.40" y1="243.00" x2="353.40" y2="325.90" stroke="#444" stroke-width="0.9"/>
<line x1="353.00" y1="325.40" x2="477.15" y2="325.40" stroke="#444" stroke-width="0.9"/>
<line x1="350.90" y1="325.40" x2="353.40" y2="325.40" stroke="#444" stroke-width="0.9"/>
<text x="348.90" y="328.50" font-size="8.6" text-anchor="end" transform="matrix(1 0 0 1.12 0 -39.420)">0.0</text>
<line x1="350.90" y1="284.35" x2="353.40" y2="284.35" stroke="#444" stroke-width="0.9"/>
<text x="348.90" y="287.45" font-size="8.6" text-anchor="end" transform="matrix(1 0 0 1.12 0 -34.494)">0.5</text>
<line x1="350.90" y1="243.30" x2="353.40" y2="243.30" stroke="#444" stroke-width="0.9"/>
<text x="348.90" y="246.40" font-size="8.6" text-anchor="end" transform="matrix(1 0 0 1.12 0 -29.568)">1.0</text>
<line x1="353.40" y1="325.40" x2="353.40" y2="327.90" stroke="#444" stroke-width="0.9"/>
<text x="353.40" y="336.80" font-size="8.6" text-anchor="middle" transform="matrix(1 0 0 1.12 0 -40.416)">0</text>
<line x1="394.65" y1="325.40" x2="394.65" y2="327.90" stroke="#444" stroke-width="0.9"/>
<text x="394.65" y="336.80" font-size="8.6" text-anchor="middle" transform="matrix(1 0 0 1.12 0 -40.416)">5</text>
<line x1="435.90" y1="325.40" x2="435.90" y2="327.90" stroke="#444" stroke-width="0.9"/>
<text x="435.90" y="336.80" font-size="8.6" text-anchor="middle" transform="matrix(1 0 0 1.12 0 -40.416)">10</text>
<line x1="477.15" y1="325.40" x2="477.15" y2="327.90" stroke="#444" stroke-width="0.9"/>
<text x="477.15" y="336.80" font-size="8.6" text-anchor="middle" transform="matrix(1 0 0 1.12 0 -40.416)">15</text>
<text x="415.50" y="346.60" font-size="9.0" text-anchor="middle" transform="matrix(1 0 0 1.12 0 -41.592)">Days after CDK8 knockdown</text>
<text x="333.8" y="284" font-size="9" text-anchor="middle" transform="rotate(-90 333.8 284) matrix(1 0 0 1.0 0 -0.000)">Relative protein level</text>
<polyline points="353.40,243.30 402.90,284.35 419.40,308.65 444.15,309.97 460.65,316.94" fill="none" stroke="#242576" stroke-width="1.6" stroke-linejoin="round"/>
<circle cx="353.40" cy="243.30" r="2.10" fill="#242576"/>
<circle cx="402.90" cy="284.35" r="2.10" fill="#242576"/>
<circle cx="419.40" cy="308.65" r="2.10" fill="#242576"/>
<circle cx="444.15" cy="309.97" r="2.10" fill="#242576"/>
<circle cx="460.65" cy="316.94" r="2.10" fill="#242576"/>
<polyline points="353.40,243.30 402.90,261.69 419.40,269.90 444.15,288.04 460.65,305.20" fill="none" stroke="#ef6a2c" stroke-width="1.6" stroke-linejoin="round"/>
<rect x="351.40" y="241.30" width="4.00" height="4.00" fill="#ef6a2c"/>
<rect x="400.90" y="259.69" width="4.00" height="4.00" fill="#ef6a2c"/>
<rect x="417.40" y="267.90" width="4.00" height="4.00" fill="#ef6a2c"/>
<rect x="442.15" y="286.04" width="4.00" height="4.00" fill="#ef6a2c"/>
<rect x="458.65" y="303.20" width="4.00" height="4.00" fill="#ef6a2c"/>
<polyline points="353.40,243.30 402.90,252.66 419.40,259.06 444.15,299.95 460.65,314.48" fill="none" stroke="#3b3e3d" stroke-width="1.6" stroke-linejoin="round"/>
<polygon points="351.20,244.90 355.60,244.90 353.40,241.10" fill="#3b3e3d"/>
<polygon points="400.70,254.26 405.10,254.26 402.90,250.46" fill="#3b3e3d"/>
<polygon points="417.20,260.66 421.60,260.66 419.40,256.86" fill="#3b3e3d"/>
<polygon points="441.95,301.55 446.35,301.55 444.15,297.75" fill="#3b3e3d"/>
<polygon points="458.45,316.08 462.85,316.08 460.65,312.28" fill="#3b3e3d"/>
<line x1="357.80" y1="296.90" x2="371.30" y2="296.90" stroke="#3b3e3d" stroke-width="1.6"/>
<polygon points="362.30,298.50 366.70,298.50 364.50,294.70" fill="#3b3e3d"/>
<text x="374.80" y="299.20" font-size="7.9" transform="matrix(1 0 0 1.12 0 -35.904)">OCT4</text>
<line x1="357.80" y1="307.35" x2="371.30" y2="307.35" stroke="#ef6a2c" stroke-width="1.6"/>
<rect x="362.50" y="305.35" width="4.00" height="4.00" fill="#ef6a2c"/>
<text x="374.80" y="309.65" font-size="7.9" transform="matrix(1 0 0 1.12 0 -37.158)">NANOG</text>
<line x1="357.80" y1="317.80" x2="371.30" y2="317.80" stroke="#242576" stroke-width="1.6"/>
<circle cx="364.50" cy="317.80" r="2.10" fill="#242576"/>
<text x="374.80" y="320.10" font-size="7.9" transform="matrix(1 0 0 1.12 0 -38.412)">MYC</text>
<line x1="352.80" y1="366.02" x2="352.80" y2="451.90" stroke="#444" stroke-width="0.9"/>
<line x1="352.40" y1="451.40" x2="478.50" y2="451.40" stroke="#444" stroke-width="0.9"/>
<line x1="350.30" y1="451.40" x2="352.80" y2="451.40" stroke="#444" stroke-width="0.9"/>
<text x="348.60" y="454.50" font-size="8.6" text-anchor="end" transform="matrix(1 0 0 1.12 0 -54.540)">0</text>
<line x1="350.30" y1="423.04" x2="352.80" y2="423.04" stroke="#444" stroke-width="0.9"/>
<text x="348.60" y="426.14" font-size="8.6" text-anchor="end" transform="matrix(1 0 0 1.12 0 -51.137)">2</text>
<line x1="350.30" y1="394.68" x2="352.80" y2="394.68" stroke="#444" stroke-width="0.9"/>
<text x="348.60" y="397.78" font-size="8.6" text-anchor="end" transform="matrix(1 0 0 1.12 0 -47.734)">4</text>
<line x1="350.30" y1="366.32" x2="352.80" y2="366.32" stroke="#444" stroke-width="0.9"/>
<text x="348.60" y="369.42" font-size="8.6" text-anchor="end" transform="matrix(1 0 0 1.12 0 -44.330)">6</text>
<line x1="352.80" y1="451.40" x2="352.80" y2="453.90" stroke="#444" stroke-width="0.9"/>
<text x="352.80" y="463.20" font-size="8.6" text-anchor="middle" transform="matrix(1 0 0 1.12 0 -55.584)">0</text>
<line x1="394.70" y1="451.40" x2="394.70" y2="453.90" stroke="#444" stroke-width="0.9"/>
<text x="394.70" y="463.20" font-size="8.6" text-anchor="middle" transform="matrix(1 0 0 1.12 0 -55.584)">5</text>
<line x1="436.60" y1="451.40" x2="436.60" y2="453.90" stroke="#444" stroke-width="0.9"/>
<text x="436.60" y="463.20" font-size="8.6" text-anchor="middle" transform="matrix(1 0 0 1.12 0 -55.584)">10</text>
<line x1="478.50" y1="451.40" x2="478.50" y2="453.90" stroke="#444" stroke-width="0.9"/>
<text x="478.50" y="463.20" font-size="8.6" text-anchor="middle" transform="matrix(1 0 0 1.12 0 -55.584)">15</text>
<text x="415.60" y="474.60" font-size="9.0" text-anchor="middle" transform="matrix(1 0 0 1.12 0 -56.952)">Days after CDK8 knockdown</text>
<text x="329.6" y="408.3" font-size="8.4" text-anchor="middle" transform="rotate(-90 329.6 408.3) matrix(1 0 0 1.0 0 -0.000)">pMYC protein levels</text>
<text x="338.2" y="407.2" font-size="8.4" text-anchor="middle" transform="rotate(-90 338.2 407.2) matrix(1 0 0 1.0 0 -0.000)">relative to total MYC</text>
<polyline points="352.80,437.22 403.08,421.05 419.84,402.48 444.98,419.64 461.74,436.65" fill="none" stroke="#000000" stroke-width="1.7" stroke-linejoin="round"/>
<circle cx="352.80" cy="437.22" r="2.10" fill="#000000"/>
<circle cx="403.08" cy="421.05" r="2.10" fill="#000000"/>
<circle cx="419.84" cy="402.48" r="2.10" fill="#000000"/>
<circle cx="444.98" cy="419.64" r="2.10" fill="#000000"/>
<circle cx="461.74" cy="436.65" r="2.10" fill="#000000"/>
<polyline points="352.80,437.22 403.08,410.56 419.84,375.68 444.98,369.58 461.74,371.42" fill="none" stroke="#777777" stroke-width="1.7" stroke-linejoin="round"/>
<rect x="350.80" y="435.22" width="4.00" height="4.00" fill="#777777"/>
<rect x="401.08" y="408.56" width="4.00" height="4.00" fill="#777777"/>
<rect x="417.84" y="373.68" width="4.00" height="4.00" fill="#777777"/>
<rect x="442.98" y="367.58" width="4.00" height="4.00" fill="#777777"/>
<rect x="459.74" y="369.42" width="4.00" height="4.00" fill="#777777"/>
<text x="467.80" y="376.50" font-size="7.95" transform="matrix(1 0 0 1.12 0 -45.180)">MYC-pT58</text>
<text x="467.80" y="442.00" font-size="7.95" transform="matrix(1 0 0 1.12 0 -53.040)">MYC-pS62</text>
</g>
<rect x="0.5" y="0.5" width="518" height="489" fill="none" stroke="#8a8a8a" stroke-width="1"/>
<rect x="518" y="0" width="2" height="491" fill="#8d8d8d"/>
<rect x="0" y="489" width="520" height="2" fill="#8d8d8d"/>
</svg>
</body></html>
